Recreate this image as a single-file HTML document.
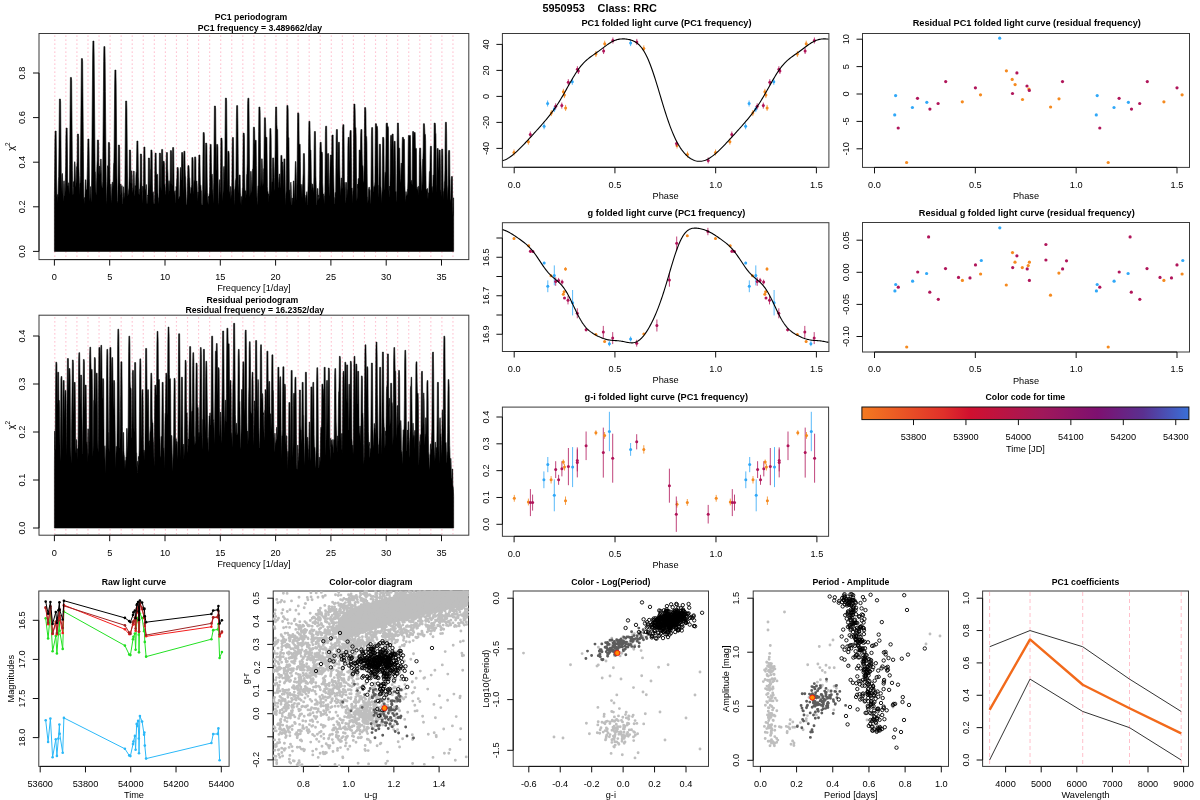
<!DOCTYPE html>
<html><head><meta charset="utf-8"><title>5950953 Class: RRC</title>
<style>html,body{margin:0;padding:0;background:#fff;width:1200px;height:800px;overflow:hidden}svg{display:block;will-change:transform}text{font-family:"Liberation Sans",sans-serif}</style>
</head><body>
<svg width="1200" height="800" viewBox="0 0 1200 800" font-family='"Liberation Sans", sans-serif'><defs><linearGradient id="cbar" x1="0" x2="1" y1="0" y2="0"><stop offset="0" stop-color="#f47a20"/><stop offset="0.25" stop-color="#e0302a"/><stop offset="0.33" stop-color="#d0102f"/><stop offset="0.55" stop-color="#a0185a"/><stop offset="0.72" stop-color="#7e1070"/><stop offset="0.86" stop-color="#5a3090"/><stop offset="1" stop-color="#3a70d8"/></linearGradient></defs>
<line x1="54.8" y1="35.5" x2="54.8" y2="258.6" stroke="#ffb4c6" stroke-width="1.15" stroke-dasharray="1.3 2.7"/>
<line x1="65.86" y1="35.5" x2="65.86" y2="258.6" stroke="#ffb4c6" stroke-width="1.15" stroke-dasharray="1.3 2.7"/>
<line x1="76.92" y1="35.5" x2="76.92" y2="258.6" stroke="#ffb4c6" stroke-width="1.15" stroke-dasharray="1.3 2.7"/>
<line x1="87.98" y1="35.5" x2="87.98" y2="258.6" stroke="#ffb4c6" stroke-width="1.15" stroke-dasharray="1.3 2.7"/>
<line x1="99.04" y1="35.5" x2="99.04" y2="258.6" stroke="#ffb4c6" stroke-width="1.15" stroke-dasharray="1.3 2.7"/>
<line x1="110.1" y1="35.5" x2="110.1" y2="258.6" stroke="#ffb4c6" stroke-width="1.15" stroke-dasharray="1.3 2.7"/>
<line x1="121.16" y1="35.5" x2="121.16" y2="258.6" stroke="#ffb4c6" stroke-width="1.15" stroke-dasharray="1.3 2.7"/>
<line x1="132.22" y1="35.5" x2="132.22" y2="258.6" stroke="#ffb4c6" stroke-width="1.15" stroke-dasharray="1.3 2.7"/>
<line x1="143.28" y1="35.5" x2="143.28" y2="258.6" stroke="#ffb4c6" stroke-width="1.15" stroke-dasharray="1.3 2.7"/>
<line x1="154.34" y1="35.5" x2="154.34" y2="258.6" stroke="#ffb4c6" stroke-width="1.15" stroke-dasharray="1.3 2.7"/>
<line x1="165.4" y1="35.5" x2="165.4" y2="258.6" stroke="#ffb4c6" stroke-width="1.15" stroke-dasharray="1.3 2.7"/>
<line x1="176.46" y1="35.5" x2="176.46" y2="258.6" stroke="#ffb4c6" stroke-width="1.15" stroke-dasharray="1.3 2.7"/>
<line x1="187.52" y1="35.5" x2="187.52" y2="258.6" stroke="#ffb4c6" stroke-width="1.15" stroke-dasharray="1.3 2.7"/>
<line x1="198.58" y1="35.5" x2="198.58" y2="258.6" stroke="#ffb4c6" stroke-width="1.15" stroke-dasharray="1.3 2.7"/>
<line x1="209.64" y1="35.5" x2="209.64" y2="258.6" stroke="#ffb4c6" stroke-width="1.15" stroke-dasharray="1.3 2.7"/>
<line x1="220.7" y1="35.5" x2="220.7" y2="258.6" stroke="#ffb4c6" stroke-width="1.15" stroke-dasharray="1.3 2.7"/>
<line x1="231.76" y1="35.5" x2="231.76" y2="258.6" stroke="#ffb4c6" stroke-width="1.15" stroke-dasharray="1.3 2.7"/>
<line x1="242.82" y1="35.5" x2="242.82" y2="258.6" stroke="#ffb4c6" stroke-width="1.15" stroke-dasharray="1.3 2.7"/>
<line x1="253.88" y1="35.5" x2="253.88" y2="258.6" stroke="#ffb4c6" stroke-width="1.15" stroke-dasharray="1.3 2.7"/>
<line x1="264.94" y1="35.5" x2="264.94" y2="258.6" stroke="#ffb4c6" stroke-width="1.15" stroke-dasharray="1.3 2.7"/>
<line x1="276" y1="35.5" x2="276" y2="258.6" stroke="#ffb4c6" stroke-width="1.15" stroke-dasharray="1.3 2.7"/>
<line x1="287.06" y1="35.5" x2="287.06" y2="258.6" stroke="#ffb4c6" stroke-width="1.15" stroke-dasharray="1.3 2.7"/>
<line x1="298.12" y1="35.5" x2="298.12" y2="258.6" stroke="#ffb4c6" stroke-width="1.15" stroke-dasharray="1.3 2.7"/>
<line x1="309.18" y1="35.5" x2="309.18" y2="258.6" stroke="#ffb4c6" stroke-width="1.15" stroke-dasharray="1.3 2.7"/>
<line x1="320.24" y1="35.5" x2="320.24" y2="258.6" stroke="#ffb4c6" stroke-width="1.15" stroke-dasharray="1.3 2.7"/>
<line x1="331.3" y1="35.5" x2="331.3" y2="258.6" stroke="#ffb4c6" stroke-width="1.15" stroke-dasharray="1.3 2.7"/>
<line x1="342.36" y1="35.5" x2="342.36" y2="258.6" stroke="#ffb4c6" stroke-width="1.15" stroke-dasharray="1.3 2.7"/>
<line x1="353.42" y1="35.5" x2="353.42" y2="258.6" stroke="#ffb4c6" stroke-width="1.15" stroke-dasharray="1.3 2.7"/>
<line x1="364.48" y1="35.5" x2="364.48" y2="258.6" stroke="#ffb4c6" stroke-width="1.15" stroke-dasharray="1.3 2.7"/>
<line x1="375.54" y1="35.5" x2="375.54" y2="258.6" stroke="#ffb4c6" stroke-width="1.15" stroke-dasharray="1.3 2.7"/>
<line x1="386.6" y1="35.5" x2="386.6" y2="258.6" stroke="#ffb4c6" stroke-width="1.15" stroke-dasharray="1.3 2.7"/>
<line x1="397.66" y1="35.5" x2="397.66" y2="258.6" stroke="#ffb4c6" stroke-width="1.15" stroke-dasharray="1.3 2.7"/>
<line x1="408.72" y1="35.5" x2="408.72" y2="258.6" stroke="#ffb4c6" stroke-width="1.15" stroke-dasharray="1.3 2.7"/>
<line x1="419.78" y1="35.5" x2="419.78" y2="258.6" stroke="#ffb4c6" stroke-width="1.15" stroke-dasharray="1.3 2.7"/>
<line x1="430.84" y1="35.5" x2="430.84" y2="258.6" stroke="#ffb4c6" stroke-width="1.15" stroke-dasharray="1.3 2.7"/>
<line x1="441.9" y1="35.5" x2="441.9" y2="258.6" stroke="#ffb4c6" stroke-width="1.15" stroke-dasharray="1.3 2.7"/>
<line x1="452.96" y1="35.5" x2="452.96" y2="258.6" stroke="#ffb4c6" stroke-width="1.15" stroke-dasharray="1.3 2.7"/>
<line x1="54.8" y1="317.2" x2="54.8" y2="534.2" stroke="#ffb4c6" stroke-width="1.15" stroke-dasharray="1.3 2.7"/>
<line x1="65.86" y1="317.2" x2="65.86" y2="534.2" stroke="#ffb4c6" stroke-width="1.15" stroke-dasharray="1.3 2.7"/>
<line x1="76.92" y1="317.2" x2="76.92" y2="534.2" stroke="#ffb4c6" stroke-width="1.15" stroke-dasharray="1.3 2.7"/>
<line x1="87.98" y1="317.2" x2="87.98" y2="534.2" stroke="#ffb4c6" stroke-width="1.15" stroke-dasharray="1.3 2.7"/>
<line x1="99.04" y1="317.2" x2="99.04" y2="534.2" stroke="#ffb4c6" stroke-width="1.15" stroke-dasharray="1.3 2.7"/>
<line x1="110.1" y1="317.2" x2="110.1" y2="534.2" stroke="#ffb4c6" stroke-width="1.15" stroke-dasharray="1.3 2.7"/>
<line x1="121.16" y1="317.2" x2="121.16" y2="534.2" stroke="#ffb4c6" stroke-width="1.15" stroke-dasharray="1.3 2.7"/>
<line x1="132.22" y1="317.2" x2="132.22" y2="534.2" stroke="#ffb4c6" stroke-width="1.15" stroke-dasharray="1.3 2.7"/>
<line x1="143.28" y1="317.2" x2="143.28" y2="534.2" stroke="#ffb4c6" stroke-width="1.15" stroke-dasharray="1.3 2.7"/>
<line x1="154.34" y1="317.2" x2="154.34" y2="534.2" stroke="#ffb4c6" stroke-width="1.15" stroke-dasharray="1.3 2.7"/>
<line x1="165.4" y1="317.2" x2="165.4" y2="534.2" stroke="#ffb4c6" stroke-width="1.15" stroke-dasharray="1.3 2.7"/>
<line x1="176.46" y1="317.2" x2="176.46" y2="534.2" stroke="#ffb4c6" stroke-width="1.15" stroke-dasharray="1.3 2.7"/>
<line x1="187.52" y1="317.2" x2="187.52" y2="534.2" stroke="#ffb4c6" stroke-width="1.15" stroke-dasharray="1.3 2.7"/>
<line x1="198.58" y1="317.2" x2="198.58" y2="534.2" stroke="#ffb4c6" stroke-width="1.15" stroke-dasharray="1.3 2.7"/>
<line x1="209.64" y1="317.2" x2="209.64" y2="534.2" stroke="#ffb4c6" stroke-width="1.15" stroke-dasharray="1.3 2.7"/>
<line x1="220.7" y1="317.2" x2="220.7" y2="534.2" stroke="#ffb4c6" stroke-width="1.15" stroke-dasharray="1.3 2.7"/>
<line x1="231.76" y1="317.2" x2="231.76" y2="534.2" stroke="#ffb4c6" stroke-width="1.15" stroke-dasharray="1.3 2.7"/>
<line x1="242.82" y1="317.2" x2="242.82" y2="534.2" stroke="#ffb4c6" stroke-width="1.15" stroke-dasharray="1.3 2.7"/>
<line x1="253.88" y1="317.2" x2="253.88" y2="534.2" stroke="#ffb4c6" stroke-width="1.15" stroke-dasharray="1.3 2.7"/>
<line x1="264.94" y1="317.2" x2="264.94" y2="534.2" stroke="#ffb4c6" stroke-width="1.15" stroke-dasharray="1.3 2.7"/>
<line x1="276" y1="317.2" x2="276" y2="534.2" stroke="#ffb4c6" stroke-width="1.15" stroke-dasharray="1.3 2.7"/>
<line x1="287.06" y1="317.2" x2="287.06" y2="534.2" stroke="#ffb4c6" stroke-width="1.15" stroke-dasharray="1.3 2.7"/>
<line x1="298.12" y1="317.2" x2="298.12" y2="534.2" stroke="#ffb4c6" stroke-width="1.15" stroke-dasharray="1.3 2.7"/>
<line x1="309.18" y1="317.2" x2="309.18" y2="534.2" stroke="#ffb4c6" stroke-width="1.15" stroke-dasharray="1.3 2.7"/>
<line x1="320.24" y1="317.2" x2="320.24" y2="534.2" stroke="#ffb4c6" stroke-width="1.15" stroke-dasharray="1.3 2.7"/>
<line x1="331.3" y1="317.2" x2="331.3" y2="534.2" stroke="#ffb4c6" stroke-width="1.15" stroke-dasharray="1.3 2.7"/>
<line x1="342.36" y1="317.2" x2="342.36" y2="534.2" stroke="#ffb4c6" stroke-width="1.15" stroke-dasharray="1.3 2.7"/>
<line x1="353.42" y1="317.2" x2="353.42" y2="534.2" stroke="#ffb4c6" stroke-width="1.15" stroke-dasharray="1.3 2.7"/>
<line x1="364.48" y1="317.2" x2="364.48" y2="534.2" stroke="#ffb4c6" stroke-width="1.15" stroke-dasharray="1.3 2.7"/>
<line x1="375.54" y1="317.2" x2="375.54" y2="534.2" stroke="#ffb4c6" stroke-width="1.15" stroke-dasharray="1.3 2.7"/>
<line x1="386.6" y1="317.2" x2="386.6" y2="534.2" stroke="#ffb4c6" stroke-width="1.15" stroke-dasharray="1.3 2.7"/>
<line x1="397.66" y1="317.2" x2="397.66" y2="534.2" stroke="#ffb4c6" stroke-width="1.15" stroke-dasharray="1.3 2.7"/>
<line x1="408.72" y1="317.2" x2="408.72" y2="534.2" stroke="#ffb4c6" stroke-width="1.15" stroke-dasharray="1.3 2.7"/>
<line x1="419.78" y1="317.2" x2="419.78" y2="534.2" stroke="#ffb4c6" stroke-width="1.15" stroke-dasharray="1.3 2.7"/>
<line x1="430.84" y1="317.2" x2="430.84" y2="534.2" stroke="#ffb4c6" stroke-width="1.15" stroke-dasharray="1.3 2.7"/>
<line x1="441.9" y1="317.2" x2="441.9" y2="534.2" stroke="#ffb4c6" stroke-width="1.15" stroke-dasharray="1.3 2.7"/>
<line x1="452.96" y1="317.2" x2="452.96" y2="534.2" stroke="#ffb4c6" stroke-width="1.15" stroke-dasharray="1.3 2.7"/>
<path d="M54.4 251.4L54.4 197.88L54.65 170L54.9 140L55.15 131L55.4 131L55.65 131L55.9 131L56.15 131L56.4 152L56.65 182L56.9 195.28L57.15 202.26L57.4 194.58L57.65 194.58L57.9 203.04L58.15 191.79L58.4 180.54L58.65 176.67L58.9 156L59.15 126L59.4 99L59.65 99L59.9 99L60.15 99L60.4 99L60.65 102L60.9 132L61.15 162L61.4 192L61.65 185.89L61.9 174.64L62.15 173.54L62.4 173.54L62.65 179.2L62.9 190.45L63.15 201.7L63.4 194.71L63.65 183.46L63.9 180.86L64.15 180.86L64.4 185.02L64.65 196.27L64.9 195.44L65.15 188.44L65.4 177.19L65.65 165.94L65.9 137L66.15 128L66.4 128L66.65 128L66.9 128L67.15 128L67.4 149L67.65 179L67.9 185.85L68.15 185.85L68.4 191.49L68.65 182.82L68.9 182.82L69.15 191.05L69.4 194.4L69.65 164.4L69.9 134.4L70.15 104.4L70.4 77.4L70.65 77.4L70.9 77.4L71.15 77.4L71.4 77.4L71.65 80.4L71.9 110.4L72.15 140.4L72.4 170.4L72.65 187.26L72.9 194.88L73.15 193.89L73.4 181.63L73.65 181.63L73.9 186.87L74.15 175.66L74.4 164.41L74.65 161.75L74.9 161.75L75.15 165.85L75.4 177.1L75.65 186.31L75.9 186.31L76.15 180.63L76.4 169.38L76.65 166.47L76.9 166.47L77.15 161L77.4 134L77.65 134L77.9 134L78.15 134L78.4 134L78.65 137L78.9 167L79.15 175.48L79.4 186.73L79.65 194.99L79.9 183.74L80.15 182.63L80.4 175.6L80.65 145.6L80.9 115.6L81.15 85.6L81.4 58.6L81.65 58.6L81.9 58.6L82.15 58.6L82.4 58.6L82.65 61.6L82.9 91.6L83.15 121.6L83.4 151.6L83.65 181.6L83.9 199.49L84.15 197.56L84.4 197.56L84.65 204.05L84.9 199.69L85.15 188.44L85.4 179.82L85.65 179.82L85.9 179.82L86.15 189.2L86.4 189.84L86.65 189.84L86.9 188.88L87.15 177.63L87.4 166.38L87.65 154L87.9 139L88.15 139L88.4 139L88.65 139L88.9 139L89.15 154L89.4 178.84L89.65 190.09L89.9 201.34L90.15 193.43L90.4 186.64L90.65 186.64L90.9 197.36L91.15 202.41L91.4 191.16L91.65 176L91.9 146L92.15 116L92.4 86L92.65 56L92.9 41L93.15 41L93.4 41L93.65 41L93.9 41L94.15 56L94.4 86L94.65 116L94.9 146L95.15 171.84L95.4 171.84L95.65 180.38L95.9 191.63L96.15 195.66L96.4 189.09L96.65 177.84L96.9 166.59L97.15 160.63L97.4 140L97.65 140L97.9 140L98.15 140L98.4 140L98.65 143L98.9 173L99.15 175.31L99.4 166.02L99.65 166.02L99.9 166.02L100.15 174.74L100.4 166.79L100.65 159.11L100.9 159.11L101.15 159.11L101.4 169.43L101.65 180.68L101.9 186.12L102.15 187.84L102.4 187.84L102.65 181.6L102.9 151.6L103.15 121.6L103.4 91.6L103.65 61.6L103.9 46.6L104.15 46.6L104.4 46.6L104.65 46.6L104.9 46.6L105.15 61.6L105.4 91.6L105.65 121.6L105.9 151.6L106.15 181.6L106.4 200.23L106.65 203.67L106.9 192.48L107.15 181.23L107.4 169.98L107.65 165.73L107.9 165.73L108.15 168.23L108.4 142.4L108.65 142.4L108.9 142.4L109.15 142.4L109.4 142.4L109.65 145.4L109.9 175.4L110.15 191.64L110.4 198.89L110.65 186.39L110.9 184.11L111.15 186.82L111.4 199.32L111.65 203.58L111.9 192.65L112.15 182.25L112.4 182.25L112.65 182.25L112.9 189.85L113.15 182.38L113.4 171.13L113.65 163.35L113.9 163.35L114.15 145L114.4 115L114.65 85L114.9 70L115.15 70L115.4 70L115.65 70L115.9 70L116.15 85L116.4 115L116.65 145L116.9 175L117.15 189.32L117.4 200.57L117.65 203.48L117.9 200.62L118.15 172L118.4 145L118.65 145L118.9 145L119.15 145L119.4 145L119.65 148L119.9 178L120.15 195.33L120.4 193.18L120.65 184.09L120.9 184.09L121.15 192.5L121.4 192.79L121.65 185.68L121.9 185.68L122.15 185.68L122.4 196.58L122.65 203.39L122.9 203.39L123.15 193.77L123.4 186.83L123.65 186.83L123.9 192.91L124.15 192.91L124.4 198.84L124.65 195.98L124.9 182L125.15 152L125.4 122L125.65 101L125.9 101L126.15 101L126.4 101L126.65 101L126.9 110L127.15 140L127.4 170L127.65 185.43L127.9 196.6L128.15 194.34L128.4 192.99L128.65 189.91L128.9 188.06L129.15 176.81L129.4 150L129.65 150L129.9 150L130.15 150L130.4 150L130.65 153L130.9 183L131.15 183.52L131.4 172.27L131.65 170.79L131.9 170.79L132.15 176.06L132.4 187.31L132.65 189.89L132.9 192.73L133.15 187.01L133.4 177.56L133.65 171.01L133.9 171.01L134.15 171.2L134.4 182.45L134.65 193.7L134.9 196.62L135.15 185.68L135.4 185.68L135.65 187.36L135.9 176.11L136.15 171.7L136.4 171.7L136.65 156L136.9 141L137.15 141L137.4 141L137.65 141L137.9 141L138.15 156L138.4 176.98L138.65 182.39L138.9 193.64L139.15 194.88L139.4 191.41L139.65 189.01L139.9 189.01L140.15 181L140.4 154L140.65 154L140.9 154L141.15 154L141.4 154L141.65 157L141.9 187L142.15 203.48L142.4 195.1L142.65 186.17L142.9 186.17L143.15 186.17L143.4 192L143.65 162L143.9 147L144.15 147L144.4 147L144.65 147L144.9 147L145.15 162L145.4 192L145.65 189.28L145.9 189.28L146.15 184.61L146.4 184.61L146.65 196.15L146.9 203.6L147.15 203.61L147.4 199.02L147.65 194.96L147.9 195.89L148.15 185L148.4 158L148.65 158L148.9 158L149.15 158L149.4 158L149.65 161L149.9 191L150.15 180.35L150.4 169.2L150.65 169.2L150.9 150L151.15 150L151.4 150L151.65 150L151.9 150L152.15 153L152.4 183L152.65 194.61L152.9 191.78L153.15 191.78L153.4 194.04L153.65 199.63L153.9 203.77L154.15 203.78L154.4 203.78L154.65 194.32L154.9 165.12L155.15 153.12L155.4 153.12L155.65 153.12L155.9 153.12L156.15 153.12L156.4 171.13L156.65 174.38L156.9 174.38L157.15 174.38L157.4 174.38L157.65 174.38L157.9 192.38L158.15 197.71L158.4 197.71L158.65 203.89L158.9 200.5L159.15 180.12L159.4 153.12L159.65 153.12L159.9 153.12L160.15 153.12L160.4 153.12L160.65 156.13L160.9 186.13L161.15 191.37L161.4 161.37L161.65 149.38L161.9 149.38L162.15 149.38L162.4 149.38L162.65 149.38L162.9 167.38L163.15 161.25L163.4 161.25L163.65 161.25L163.9 161.25L164.15 161.25L164.4 164.25L164.65 184.14L164.9 184.14L165.15 187.6L165.4 195.51L165.65 193.8L165.9 188.66L166.15 164.5L166.4 152.5L166.65 152.5L166.9 152.5L167.15 152.5L167.4 152.5L167.65 168.84L167.9 172.76L168.15 184.01L168.4 195.26L168.65 185.01L168.9 180.75L169.15 180.75L169.4 183.24L169.65 190.44L169.9 190.44L170.15 177.62L170.4 150.62L170.65 150.62L170.9 150.62L171.15 150.62L171.4 150.62L171.65 153.63L171.9 183.63L172.15 185.92L172.4 159.5L172.65 147.5L172.9 147.5L173.15 147.5L173.4 147.5L173.65 147.5L173.9 165.5L174.15 195.5L174.4 192.6L174.65 191.67L174.9 190.8L175.15 190.8L175.4 202.42L175.65 202.01L175.9 189.51L176.15 186.41L176.4 188.31L176.65 180.44L176.9 177.44L177.15 167.5L177.4 167.5L177.65 167.5L177.9 167.5L178.15 167.5L178.4 170.5L178.65 199.02L178.9 199.02L179.15 196.86L179.4 196.86L179.65 195.75L179.9 184.5L180.15 173.25L180.4 167.51L180.65 167.51L180.9 168.52L181.15 179.77L181.4 179.5L181.65 152.5L181.9 152.5L182.15 152.5L182.4 152.5L182.65 152.5L182.9 155.5L183.15 185.5L183.4 193.25L183.65 163.25L183.9 151.25L184.15 151.25L184.4 151.25L184.65 151.25L184.9 151.25L185.15 169.25L185.4 176.52L185.65 176.52L185.9 186.88L186.15 196.3L186.4 204.57L186.65 204.57L186.9 204.58L187.15 194.75L187.4 183.5L187.65 177.72L187.9 165.62L188.15 165.62L188.4 165.62L188.65 165.62L188.9 165.62L189.15 168.63L189.4 177.65L189.65 177.65L189.9 182.84L190.15 194.09L190.4 193.31L190.65 193.31L190.9 187.42L191.15 187.42L191.4 187.7L191.65 184.5L191.9 157.5L192.15 157.5L192.4 157.5L192.65 157.5L192.9 157.5L193.15 160.5L193.4 190.5L193.65 194.42L193.9 183.17L194.15 180.15L194.4 180.15L194.65 156.88L194.9 156.88L195.15 156.88L195.4 156.88L195.65 156.88L195.9 159.88L196.15 189.88L196.4 182.74L196.65 180.93L196.9 180.93L197.15 185.87L197.4 197.12L197.65 200.63L197.9 191.98L198.15 191.98L198.4 197L198.65 167L198.9 155L199.15 155L199.4 155L199.65 155L199.9 155L200.15 173L200.4 184.68L200.65 184.68L200.9 185.76L201.15 190.73L201.4 190.73L201.65 202.35L201.9 204.95L202.15 204.95L202.4 204.96L202.65 189.5L202.9 159.5L203.15 132.5L203.4 132.5L203.65 132.5L203.9 132.5L204.15 132.5L204.4 135.5L204.65 165.5L204.9 195.5L205.15 187.84L205.4 170.12L205.65 143.12L205.9 143.12L206.15 143.12L206.4 143.12L206.65 143.12L206.9 146.13L207.15 176.13L207.4 192.35L207.65 196.3L207.9 201.7L208.15 205.1L208.4 196.82L208.65 196.26L208.9 197.74L209.15 193.41L209.4 193.41L209.65 186.37L209.9 156.37L210.15 144.38L210.4 144.38L210.65 144.38L210.9 144.38L211.15 144.38L211.4 162.38L211.65 177.15L211.9 174.15L212.15 174.15L212.4 177.91L212.65 188.32L212.9 191.32L213.15 203.82L213.4 192.41L213.65 182.82L213.9 163L214.15 133L214.4 106L214.65 106L214.9 106L215.15 106L215.4 106L215.65 109L215.9 139L216.15 169L216.4 171.37L216.65 144.38L216.9 144.38L217.15 144.38L217.4 144.38L217.65 144.38L217.9 147.38L218.15 177.38L218.4 202.5L218.65 205.16L218.9 197.24L219.15 185.99L219.4 179.7L219.65 179.7L219.9 180.16L220.15 191.41L220.4 195.09L220.65 165.12L220.9 138.12L221.15 138.12L221.4 138.12L221.65 138.12L221.9 138.12L222.15 141.13L222.4 171.13L222.65 201.13L222.9 195.64L223.15 190.43L223.4 179.45L223.65 168.2L223.9 166.4L224.15 166.4L224.4 171.34L224.65 182.59L224.9 155.12L225.15 125.12L225.4 98.12L225.65 98.12L225.9 98.12L226.15 98.12L226.4 98.12L226.65 101.13L226.9 131.13L227.15 161.13L227.4 191.13L227.65 178.25L227.9 151.25L228.15 151.25L228.4 151.25L228.65 151.25L228.9 151.25L229.15 154.25L229.4 184.25L229.65 191.43L229.9 191.43L230.15 199.31L230.4 188.51L230.65 186.47L230.9 186.47L231.15 191.19L231.4 197.77L231.65 194.13L231.9 179.5L232.15 149.5L232.4 137.5L232.65 137.5L232.9 137.5L233.15 137.5L233.4 137.5L233.65 155.5L233.9 185.5L234.15 205.22L234.4 199.15L234.65 189.38L234.9 189.38L235.15 185.89L235.4 180.22L235.65 180.22L235.9 177.62L236.15 147.62L236.4 117.62L236.65 105.62L236.9 105.62L237.15 105.62L237.4 105.62L237.65 105.62L237.9 123.63L238.15 153.63L238.4 183.63L238.65 193.76L238.9 185.67L239.15 175L239.4 175L239.65 175L239.9 175L240.15 175L240.4 193L240.65 195.61L240.9 204.09L241.15 196.57L241.4 196.57L241.65 198.39L241.9 205.25L242.15 194.79L242.4 188.3L242.65 187.32L242.9 160.12L243.15 133.12L243.4 133.12L243.65 133.12L243.9 133.12L244.15 133.12L244.4 136.13L244.65 166.13L244.9 187.53L245.15 198.78L245.4 190.82L245.65 190.82L245.9 190.82L246.15 195.79L246.4 186.1L246.65 174.85L246.9 173.79L247.15 163.31L247.4 133.31L247.65 103.31L247.9 98.19L248.15 98.19L248.4 98.19L248.65 98.19L248.9 98.19L249.15 123.07L249.4 153.07L249.65 183.07L249.9 197.12L250.15 192.33L250.4 181.08L250.65 171.38L250.9 171.38L251.15 171.38L251.4 179.67L251.65 190.92L251.9 192.74L252.15 181.49L252.4 170.24L252.65 168.96L252.9 168.96L253.15 153.85L253.4 127.18L253.65 127.18L253.9 127.18L254.15 127.18L254.4 127.18L254.65 130.5L254.9 144.98L255.15 140.3L255.4 140.3L255.65 140.3L255.9 140.3L256.15 140.3L256.4 165.61L256.65 185.2L256.9 195.57L257.15 205.31L257.4 200.77L257.65 192.26L257.9 185.74L258.15 185.74L258.4 161.72L258.65 131.72L258.9 107L259.15 107L259.4 107L259.65 107L259.9 107L260.15 112.28L260.4 142.28L260.65 172.28L260.9 187.58L261.15 179.78L261.4 168.53L261.65 158.83L261.9 158.83L262.15 158.83L262.4 167.12L262.65 178.37L262.9 186.35L263.15 182.97L263.4 171.72L263.65 168.5L263.9 168.5L264.15 140.54L264.4 117.78L264.65 117.78L264.9 117.78L265.15 117.78L265.4 117.78L265.65 125.01L265.9 137.36L266.15 137.36L266.4 137.36L266.65 137.36L266.9 137.36L267.15 160.08L267.4 186.62L267.65 191.2L267.9 191.2L268.15 193.21L268.4 202.73L268.65 193.92L268.9 193.92L269.15 196.43L269.4 179.37L269.65 149.37L269.9 128.55L270.15 128.55L270.4 128.55L270.65 128.55L270.9 128.55L271.15 137.73L271.4 167.73L271.65 192.68L271.9 181.92L272.15 181.92L272.4 177.77L272.65 157.92L272.9 157.92L273.15 157.92L273.4 157.92L273.65 157.92L273.9 168.08L274.15 190.82L274.4 188.84L274.65 177.59L274.9 166.34L275.15 149.37L275.4 119.37L275.65 107L275.9 107L276.15 107L276.4 107L276.65 107L276.9 124.63L277.15 129.53L277.4 129.53L277.65 129.53L277.9 149.65L278.15 176.73L278.4 181.44L278.65 186.86L278.9 188.32L279.15 177.07L279.4 173.92L279.65 173.92L279.9 177.52L280.15 188.77L280.4 182.66L280.65 172.3L280.9 155.38L281.15 155.38L281.4 155.38L281.65 155.38L281.9 155.38L282.15 163.6L282.4 161.99L282.65 161.99L282.9 167.14L283.15 178.39L283.4 189.64L283.65 168.35L283.9 158.9L284.15 158.9L284.4 158.9L284.65 158.9L284.9 158.9L285.15 179.46L285.4 197.27L285.65 205.15L285.9 194.91L286.15 190.91L286.4 160.91L286.65 130.91L286.9 105.44L287.15 105.44L287.4 105.44L287.65 105.44L287.9 105.44L288.15 109.96L288.4 137.36L288.65 137.36L288.9 137.88L289.15 167.88L289.4 194.14L289.65 189.84L289.9 190.54L290.15 203.04L290.4 195.78L290.65 183.28L290.9 182.14L291.15 185.99L291.4 194.46L291.65 205.01L291.9 205L292.15 198.02L292.4 198.02L292.65 204.98L292.9 199.98L293.15 188.73L293.4 180.94L293.65 180.94L293.9 180.94L294.15 191.15L294.4 202.4L294.65 192.19L294.9 180.94L295.15 169.69L295.4 161.54L295.65 161.54L295.9 161.54L296.15 171.39L296.4 182.64L296.65 193.89L296.9 200.95L297.15 170.95L297.4 140.95L297.65 112.88L297.9 112.88L298.15 112.88L298.4 112.88L298.65 112.88L298.9 114.81L299.15 144.21L299.4 144.21L299.65 144.21L299.9 144.21L300.15 144.21L300.4 161.63L300.65 184L300.9 184L301.15 190.53L301.4 197.87L301.65 187.14L301.9 184.37L302.15 186.6L302.4 199.1L302.65 188.33L302.9 179.71L303.15 173.24L303.4 153.62L303.65 153.62L303.9 153.62L304.15 153.62L304.4 153.62L304.65 163.99L304.9 190.56L305.15 203.06L305.4 197.85L305.65 197.85L305.9 195.33L306.15 195.33L306.4 196.22L306.65 193.17L306.9 191.6L307.15 195.04L307.4 204.64L307.65 204.22L307.9 192.97L308.15 181.72L308.4 168.97L308.65 138.97L308.9 121.3L309.15 121.3L309.4 121.3L309.65 121.3L309.9 121.3L310.15 133.63L310.4 150.09L310.65 150.09L310.9 150.09L311.15 164.91L311.4 182.93L311.65 182.93L311.9 190.56L312.15 184.17L312.4 184.17L312.65 184.17L312.9 187.74L313.15 187.74L313.4 193.06L313.65 189.08L313.9 177.2L314.15 147.2L314.4 131.48L314.65 131.48L314.9 131.48L315.15 131.48L315.4 131.48L315.65 145.77L315.9 175.77L316.15 184.72L316.4 193.69L316.65 204.43L316.9 204.42L317.15 197.87L317.4 188.56L317.65 188.56L317.9 188.56L318.15 196.75L318.4 194.93L318.65 198.11L318.9 199.88L319.15 197.68L319.4 185.18L319.65 179.53L319.9 149.53L320.15 142.26L320.4 142.26L320.65 142.26L320.9 142.26L321.15 142.26L321.4 152.05L321.65 152.05L321.9 152.05L322.15 152.05L322.4 153.77L322.65 182.77L322.9 187.96L323.15 200.46L323.4 196.24L323.65 193.8L323.9 195.95L324.15 204.12L324.4 195.97L324.65 195.97L324.9 191.52L325.15 161.52L325.4 131.52L325.65 126.2L325.9 126.2L326.15 126.2L326.4 126.2L326.65 126.2L326.9 150.88L327.15 180.88L327.4 153.95L327.65 153.62L327.9 153.62L328.15 153.62L328.4 153.62L328.65 153.62L328.9 183.28L329.15 196.4L329.4 191.93L329.65 182.69L329.9 172.74L330.15 161.49L330.4 154.99L330.65 154.99L330.9 154.99L331.15 154.99L331.4 154.99L331.65 162.12L331.9 135.89L332.15 135.01L332.4 135.01L332.65 135.01L332.9 135.01L333.15 135.01L333.4 164.13L333.65 174.69L333.9 185.94L334.15 197.19L334.4 197.34L334.65 204.01L334.9 204L335.15 193.63L335.4 192.36L335.65 196.09L335.9 167.44L336.15 137.44L336.4 129.53L336.65 129.53L336.9 129.53L337.15 129.53L337.4 129.53L337.65 151.61L337.9 175.19L338.15 145.19L338.4 142.26L338.65 142.26L338.9 142.26L339.15 142.26L339.4 142.26L339.65 163.02L339.9 174.27L340.15 185.52L340.4 190.94L340.65 196.02L340.9 184.77L341.15 177.95L341.4 177.95L341.65 177.95L341.9 189.14L342.15 188.1L342.4 158.1L342.65 128.1L342.9 124.63L343.15 124.63L343.4 124.63L343.65 124.63L343.9 124.63L344.15 151.16L344.4 181.16L344.65 190.36L344.9 182.67L345.15 182.15L345.4 186.63L345.65 199.13L345.9 203.74L346.15 193.43L346.4 182.42L346.65 182.42L346.9 188.9L347.15 189.63L347.4 196.1L347.65 175.38L347.9 145.38L348.15 137.36L348.4 137.36L348.65 137.36L348.9 137.36L349.15 137.36L349.4 159.34L349.65 163.55L349.9 133.55L350.15 130.51L350.4 130.51L350.65 130.51L350.9 130.51L351.15 130.51L351.4 157.47L351.65 187.47L351.9 188.05L352.15 188.05L352.4 193.43L352.65 203.59L352.9 194.76L353.15 187.14L353.4 157.14L353.65 127.14L353.9 104.07L354.15 104.07L354.4 104.07L354.65 104.07L354.9 104.07L355.15 110.99L355.4 127.57L355.65 127.57L355.9 127.57L356.15 136.98L356.4 166.98L356.65 190.01L356.9 201.26L357.15 197.24L357.4 184.74L357.65 184.03L357.9 188.31L358.15 178.63L358.4 178.49L358.65 178.49L358.9 177.71L359.15 150.09L359.4 150.09L359.65 150.09L359.9 150.09L360.15 150.09L360.4 152.47L360.65 135.16L360.9 129.53L361.15 129.53L361.4 129.53L361.65 129.53L361.9 129.53L362.15 153.89L362.4 165.68L362.65 165.59L362.9 165.59L363.15 172.25L363.4 183.5L363.65 181.44L363.9 181.44L364.15 163.26L364.4 133.26L364.65 107.59L364.9 107.59L365.15 107.59L365.4 107.59L365.65 107.59L365.9 111.92L366.15 136.38L366.4 136.38L366.65 136.38L366.9 143.2L367.15 173.2L367.4 196.96L367.65 196.96L367.9 203.23L368.15 198.93L368.4 189.19L368.65 189.19L368.9 187.16L369.15 187.16L369.4 187.16L369.65 192.14L369.9 189.55L370.15 191.96L370.4 203.17L370.65 203.06L370.9 194.88L371.15 165.8L371.4 135.8L371.65 127.57L371.9 127.57L372.15 127.57L372.4 127.57L372.65 127.57L372.9 149.33L373.15 179.33L373.4 192.07L373.65 191.6L373.9 186.56L374.15 186.56L374.4 186.56L374.65 184.88L374.9 181.92L375.15 151.92L375.4 123.65L375.65 123.65L375.9 123.65L376.15 123.65L376.4 123.65L376.65 125.38L376.9 126.59L377.15 126.59L377.4 126.59L377.65 130.81L377.9 160.81L378.15 184.6L378.4 185.3L378.65 197.8L378.9 192.52L379.15 162.52L379.4 144.21L379.65 144.21L379.9 144.21L380.15 144.21L380.4 144.21L380.65 155.91L380.9 185.91L381.15 189.55L381.4 196.04L381.65 202.91L381.9 194.71L382.15 189.71L382.4 165.19L382.65 137.36L382.9 137.36L383.15 137.36L383.4 137.36L383.65 137.36L383.9 139.53L384.15 169.53L384.4 189.11L384.65 190.21L384.9 179.23L385.15 172.14L385.4 172.14L385.65 172.14L385.9 153.93L386.15 123.93L386.4 123.06L386.65 123.06L386.9 123.06L387.15 123.06L387.4 123.06L387.65 126.59L387.9 126.59L388.15 126.59L388.4 128.21L388.65 158.21L388.9 188.21L389.15 198.06L389.4 186.61L389.65 186.07L389.9 190.53L390.15 173.31L390.4 143.31L390.65 135.4L390.9 135.4L391.15 135.4L391.4 135.4L391.65 135.4L391.9 149.95L392.15 134.03L392.4 134.03L392.65 134.03L392.9 134.03L393.15 134.03L393.4 148.11L393.65 178.11L393.9 152.21L394.15 141.28L394.4 141.28L394.65 141.28L394.9 141.28L395.15 141.28L395.4 160.34L395.65 190.34L395.9 191.75L396.15 191.75L396.4 202.57L396.65 199.92L396.9 173.53L397.15 143.53L397.4 123.06L397.65 123.06L397.9 123.06L398.15 123.06L398.4 123.06L398.65 132.6L398.9 148.13L399.15 148.13L399.4 148.13L399.65 148.13L399.9 166.65L400.15 181.27L400.4 182.59L400.65 178.72L400.9 167.47L401.15 163.05L401.4 163.05L401.65 165.37L401.9 175.37L402.15 145.37L402.4 137.36L402.65 137.36L402.9 137.36L403.15 137.36L403.4 137.36L403.65 139.32L403.9 139.32L404.15 139.32L404.4 139.32L404.65 163.8L404.9 185.29L405.15 193.33L405.4 202.36L405.65 198.56L405.9 191.67L406.15 191.67L406.4 195.34L406.65 195.34L406.9 195.67L407.15 194.06L407.4 189.6L407.65 190.14L407.9 181.97L408.15 151.97L408.4 135.4L408.65 135.4L408.9 135.4L409.15 135.4L409.4 135.4L409.65 135.4L409.9 135.4L410.15 135.4L410.4 135.4L410.65 151.33L410.9 181.33L411.15 183.65L411.4 180.43L411.65 180.43L411.9 183.95L412.15 185.09L412.4 155.09L412.65 131.48L412.9 131.48L413.15 131.48L413.4 131.48L413.65 131.48L413.9 137.88L414.15 132.46L414.4 132.46L414.65 132.46L414.9 132.46L415.15 132.46L415.4 148.13L415.65 148.13L415.9 148.13L416.15 148.13L416.4 149L416.65 179L416.9 189.42L417.15 186.89L417.4 189.36L417.65 189.24L417.9 189.24L418.15 194.29L418.4 186.3L418.65 186.3L418.9 195.07L419.15 184.3L419.4 154.3L419.65 148.13L419.9 148.13L420.15 148.13L420.4 148.13L420.65 148.13L420.9 159.97L421.15 168.87L421.4 180.12L421.65 191.37L421.9 189.2L422.15 181.46L422.4 170.21L422.65 158.96L422.9 158.63L423.15 149.85L423.4 123.65L423.65 123.65L423.9 123.65L424.15 123.65L424.4 123.65L424.65 127.45L424.9 134.42L425.15 134.42L425.4 134.42L425.65 140.71L425.9 170.71L426.15 190.36L426.4 190.36L426.65 189.25L426.9 189.25L427.15 193.28L427.4 188.43L427.65 188.43L427.9 198.98L428.15 192.86L428.4 192.86L428.65 199.52L428.9 188.2L429.15 180.75L429.4 171.58L429.65 171.58L429.9 171.58L430.15 154.94L430.4 146.17L430.65 146.17L430.9 146.17L431.15 146.17L431.4 146.17L431.65 167.41L431.9 185.56L432.15 192.89L432.4 187.16L432.65 187.16L432.9 185.43L433.15 174.93L433.4 174.93L433.65 174.93L433.9 151.86L434.15 123.06L434.4 123.06L434.65 123.06L434.9 123.06L435.15 123.06L435.4 124.27L435.65 133.44L435.9 133.44L436.15 154.14L436.4 184.14L436.65 192.57L436.9 169.85L437.15 148.52L437.4 148.52L437.65 148.52L437.9 148.52L438.15 148.52L438.4 157.2L438.65 171.24L438.9 166.43L439.15 150.09L439.4 150.09L439.65 150.09L439.9 150.09L440.15 150.09L440.4 163.75L440.65 189.65L440.9 189.65L441.15 197.13L441.4 170.98L441.65 149.11L441.9 149.11L442.15 149.11L442.4 149.11L442.65 149.11L442.9 157.25L443.15 187.25L443.4 200.12L443.65 191.52L443.9 191.52L444.15 187.79L444.4 181.52L444.65 181.52L444.9 170.68L445.15 140.68L445.4 122.28L445.65 122.28L445.9 122.28L446.15 122.28L446.4 122.28L446.65 133.88L446.9 163.88L447.15 184.95L447.4 189.33L447.65 200.68L447.9 194.26L448.15 184.91L448.4 154.91L448.65 150.48L448.9 150.48L449.15 150.48L449.4 150.48L449.65 150.48L449.9 176.06L450.15 190.52L450.4 203.02L450.65 199.62L450.9 199.62L451.15 179.98L451.4 176.53L451.65 176.53L451.9 176.53L452.15 176.53L452.4 176.53L452.65 203.08L452.9 215.57L453.15 204.32L453.4 197.83L453.65 197.83L453.65 251.4 Z" fill="#000" stroke="#000" stroke-width="0.6" stroke-linejoin="bevel"/>
<path d="M54.4 528L54.4 465.6L54.65 431.11L54.9 449.11L55.15 449.76L55.4 419.69L55.65 382.19L55.9 362.17L56.15 362.17L56.4 362.17L56.65 362.17L56.9 364.64L57.15 402.14L57.4 404.78L57.65 372.25L57.9 372.25L58.15 372.25L58.4 372.25L58.65 372.25L58.9 399.73L59.15 400.56L59.4 400.56L59.65 415.98L59.9 438.48L60.15 460.98L60.4 454L60.65 416.5L60.9 379L61.15 376.47L61.4 376.47L61.65 376.47L61.9 376.47L62.15 396.44L62.4 433.94L62.65 450.53L62.9 413.03L63.15 380.5L63.4 380.5L63.65 380.5L63.9 380.5L64.15 380.5L64.4 407.97L64.65 419.8L64.9 398.12L65.15 390.58L65.4 390.58L65.65 390.58L65.9 390.58L66.15 405.55L66.4 443.05L66.65 456.1L66.9 423.54L67.15 386.04L67.4 358.5L67.65 358.5L67.9 358.5L68.15 358.5L68.4 358.5L68.65 390.96L68.9 381.12L69.15 368.58L69.4 368.58L69.65 368.58L69.9 368.58L70.15 378.54L70.4 416.04L70.65 446.73L70.9 454.37L71.15 463.71L71.4 441.21L71.65 418.71L71.9 397.99L72.15 380.01L72.4 359.97L72.65 359.97L72.9 359.97L73.15 359.97L73.4 362.42L73.65 399.92L73.9 414.88L74.15 382.33L74.4 382.33L74.65 382.33L74.9 382.33L75.15 382.33L75.4 409.79L75.65 445.73L75.9 453.42L76.15 443.6L76.4 439.47L76.65 440.34L76.9 452.84L77.15 453.13L77.4 448.62L77.65 449.12L77.9 459.59L78.15 435.19L78.4 397.69L78.65 360.19L78.9 352.63L79.15 352.63L79.4 352.63L79.65 352.63L79.9 367.58L80.15 405.08L80.4 395.05L80.65 375L80.9 375L81.15 375L81.4 375L81.65 377.45L81.9 414.95L82.15 430.93L82.4 453.43L82.65 453.81L82.9 416.97L83.15 379.47L83.4 359.42L83.65 359.42L83.9 359.42L84.15 359.42L84.4 361.86L84.65 399.36L84.9 410.62L85.15 385.08L85.4 385.08L85.65 385.08L85.9 385.08L86.15 385.08L86.4 412.52L86.65 441.76L86.9 441.76L87.15 450.25L87.4 462.75L87.65 441.32L87.9 428.78L88.15 428.78L88.4 429.74L88.65 452.24L88.9 456.07L89.15 429.7L89.4 392.2L89.65 354.7L89.9 347.13L90.15 347.13L90.4 347.13L90.65 347.13L90.9 362.07L91.15 372.07L91.4 369.5L91.65 369.5L91.9 369.5L92.15 369.5L92.4 389.43L92.65 426.93L92.9 456.88L93.15 445.43L93.4 422.93L93.65 400.47L93.9 400.47L94.15 377.65L94.4 357.58L94.65 357.58L94.9 357.58L95.15 357.58L95.4 360.01L95.65 397.51L95.9 405.74L96.15 373.17L96.4 373.17L96.65 373.17L96.9 373.17L97.15 373.17L97.4 400.59L97.65 438.09L97.9 447.19L98.15 452.44L98.4 417.58L98.65 380.08L98.9 347.5L99.15 347.5L99.4 347.5L99.65 347.5L99.9 347.5L100.15 374.92L100.4 390.38L100.65 352.88L100.9 345.3L101.15 345.3L101.4 345.3L101.65 345.3L101.9 360.22L102.15 397.72L102.4 398.75L102.65 378.67L102.9 378.67L103.15 378.67L103.4 378.67L103.65 381.09L103.9 418.59L104.15 456.09L104.4 460.1L104.65 447.6L104.9 445.71L105.15 448.43L105.4 459.07L105.65 473.82L105.9 460.7L106.15 439.42L106.4 401.92L106.65 364.42L106.9 349.33L107.15 349.33L107.4 349.33L107.65 349.33L107.9 356.75L108.15 394.25L108.4 431.75L108.65 432.8L108.9 447.45L109.15 452.45L109.4 417.59L109.65 380.09L109.9 347.5L110.15 347.5L110.4 347.5L110.65 347.5L110.9 347.5L111.15 374.91L111.4 402.68L111.65 365.18L111.9 357.58L112.15 357.58L112.4 357.58L112.65 357.58L112.9 372.49L113.15 409.99L113.4 400.6L113.65 380.5L113.9 380.5L114.15 380.5L114.4 380.5L114.65 382.91L114.9 408.01L115.15 430.51L115.4 453.01L115.65 468.15L115.9 456.74L116.15 446.39L116.4 446.39L116.65 453.53L116.9 450.62L117.15 419.27L117.4 381.77L117.65 344.27L117.9 329.17L118.15 329.17L118.4 329.17L118.65 329.17L118.9 336.57L119.15 374.07L119.4 411.57L119.65 447.8L119.9 447.98L120.15 431.09L120.4 408.59L120.65 394.4L120.9 361.8L121.15 361.8L121.4 361.8L121.65 361.8L121.9 361.8L122.15 389.2L122.4 426.7L122.65 457.7L122.9 450.38L123.15 432.5L123.4 432.5L123.65 432.5L123.9 450.62L124.15 454.87L124.4 456.84L124.65 469.34L124.9 460.4L125.15 460.4L125.4 468.94L125.65 463.78L125.9 457.05L126.15 457.05L126.4 447.79L126.65 428.5L126.9 428.5L127.15 428.5L127.4 445.22L127.65 453.81L127.9 441.31L128.15 426.25L128.4 388.75L128.65 351.25L128.9 336.13L129.15 336.13L129.4 336.13L129.65 336.13L129.9 343.52L130.15 381.02L130.4 387.83L130.65 387.83L130.9 387.83L131.15 390.22L131.4 427.72L131.65 437.85L131.9 437.85L132.15 410.54L132.4 373.04L132.65 370.42L132.9 370.42L133.15 370.42L133.4 370.42L133.65 390.3L133.9 427.8L134.15 432.66L134.4 395.16L134.65 362.53L134.9 362.53L135.15 362.53L135.4 362.53L135.65 362.53L135.9 389.91L136.15 427.41L136.4 452.77L136.65 452.77L136.9 465.11L137.15 472.96L137.4 465.35L137.65 461.15L137.9 461.94L138.15 466.02L138.4 456.53L138.65 456.53L138.9 459.12L139.15 448.99L139.4 411.49L139.65 373.99L139.9 358.87L140.15 358.87L140.4 358.87L140.65 358.87L140.9 366.24L141.15 403.74L141.4 441.24L141.65 434.8L141.9 397.3L142.15 389.67L142.4 389.67L142.65 389.67L142.9 389.67L143.15 404.54L143.4 442.04L143.65 456.83L143.9 450.04L144.15 450.04L144.4 460.75L144.65 451.75L144.9 450.64L145.15 418.55L145.4 381.05L145.65 348.42L145.9 348.42L146.15 348.42L146.4 348.42L146.65 348.42L146.9 375.78L147.15 413.28L147.4 397.3L147.65 389.67L147.9 389.67L148.15 389.67L148.4 389.67L148.65 404.53L148.9 442.03L149.15 440.84L149.4 440.84L149.65 446.81L149.9 433.34L150.15 430.64L150.4 425.81L150.65 388.31L150.9 373.17L151.15 373.17L151.4 373.17L151.65 373.17L151.9 380.53L152.15 418.03L152.4 422.8L152.65 422.8L152.9 422.8L153.15 437.01L153.4 441.54L153.65 442.82L153.9 455.32L154.15 466.68L154.4 442.73L154.65 405.23L154.9 385.08L155.15 385.08L155.4 385.08L155.65 385.08L155.9 387.44L156.15 394.96L156.4 394.96L156.65 381.52L156.9 344.02L157.15 331.37L157.4 331.37L157.65 331.37L157.9 331.37L158.15 341.22L158.4 378.72L158.65 379.58L158.9 379.58L159.15 379.58L159.4 379.58L159.65 394.43L159.9 431.93L160.15 456.3L160.4 457.6L160.65 455.18L160.9 442.68L161.15 436.5L161.4 436.5L161.65 447.83L161.9 414.99L162.15 382.33L162.4 382.33L162.65 382.33L162.9 382.33L163.15 382.33L163.4 409.68L163.65 447.18L163.9 448.01L164.15 457.07L164.4 468.58L164.65 446.08L164.9 423.58L165.15 413.21L165.4 413.21L165.65 393.33L165.9 373.17L166.15 373.17L166.4 373.17L166.65 373.17L166.9 375.51L167.15 413.01L167.4 414.63L167.65 377.13L167.9 339.63L168.15 326.97L168.4 326.97L168.65 326.97L168.9 326.97L169.15 336.8L169.4 374.3L169.65 378.67L169.9 378.67L170.15 378.67L170.4 378.67L170.65 393.5L170.9 431L171.15 453.98L171.4 435.56L171.65 435.56L171.9 435.56L172.15 453.14L172.4 459.44L172.65 471.48L172.9 465.14L173.15 452.64L173.4 440.14L173.65 435.97L173.9 398.47L174.15 378.3L174.4 378.3L174.65 378.3L174.9 378.3L175.15 380.63L175.4 418.13L175.65 448.41L175.9 438.68L176.15 438.68L176.4 443.71L176.65 443.71L176.9 441.42L177.15 442.43L177.4 454.93L177.65 459.36L177.9 441.43L178.15 403.93L178.4 366.43L178.65 333.75L178.9 333.75L179.15 333.75L179.4 333.75L179.65 333.75L179.9 361.07L180.15 398.57L180.4 436.07L180.65 457.39L180.9 447.38L181.15 409.88L181.4 377.2L181.65 377.2L181.9 377.2L182.15 377.2L182.4 377.2L182.65 404.52L182.9 442.02L183.15 460.11L183.4 448.78L183.65 444.06L183.9 444.33L184.15 456.55L184.4 444.05L184.65 418.02L184.9 380.52L185.15 360.33L185.4 360.33L185.65 360.33L185.9 360.33L186.15 362.65L186.4 400.15L186.65 412.64L186.9 412.64L187.15 412.64L187.4 431.81L187.65 450.36L187.9 452.77L188.15 440.27L188.4 438.98L188.65 440.64L188.9 428L189.15 416.77L189.4 379.27L189.65 346.58L189.9 346.58L190.15 346.58L190.4 346.58L190.65 346.58L190.9 373.89L191.15 411.39L191.4 434.45L191.65 411.95L191.9 411.09L192.15 411.09L192.4 402.83L192.65 365.33L192.9 352.63L193.15 352.63L193.4 352.63L193.65 352.63L193.9 362.44L194.15 399.94L194.4 436.42L194.65 436.42L194.9 444.88L195.15 442.91L195.4 440.41L195.65 420.78L195.9 383.28L196.15 363.08L196.4 363.08L196.65 363.08L196.9 363.08L197.15 365.39L197.4 402.89L197.65 407.47L197.9 407.47L198.15 407.47L198.4 424.3L198.65 440.1L198.9 432.43L199.15 432.43L199.4 437.71L199.65 415.21L199.9 396.36L200.15 362.7L200.4 347.5L200.65 347.5L200.9 347.5L201.15 347.5L201.4 354.8L201.65 392.3L201.9 429.8L202.15 449.97L202.4 437.47L202.65 419.44L202.9 419.44L203.15 382.04L203.4 349.33L203.65 349.33L203.9 349.33L204.15 349.33L204.4 349.33L204.65 376.63L204.9 414.13L205.15 432.58L205.4 413.96L205.65 376.46L205.9 361.25L206.15 361.25L206.4 361.25L206.65 361.25L206.9 368.54L207.15 395.32L207.4 414.15L207.65 436.65L207.9 439.2L208.15 451.7L208.4 448.79L208.65 436.29L208.9 423.79L209.15 415.91L209.4 415.91L209.65 420.66L209.9 412.87L210.15 412.87L210.4 418.58L210.65 424.9L210.9 424.9L211.15 406.35L211.4 368.85L211.65 336.13L211.9 336.13L212.15 336.13L212.4 336.13L212.65 336.13L212.9 363.42L213.15 400.92L213.4 420.63L213.65 419.74L213.9 423.85L214.15 436.35L214.4 443.94L214.65 421.44L214.9 398.94L215.15 371.39L215.4 351.17L215.65 351.17L215.9 351.17L216.15 351.17L216.4 343.47L216.65 343.47L216.9 343.47L217.15 343.47L217.4 358.24L217.65 395.74L217.9 387.89L218.15 367.67L218.4 367.67L218.65 367.67L218.9 367.67L219.15 369.94L219.4 407.44L219.65 429.95L219.9 436.77L220.15 421.03L220.4 412.01L220.65 412.01L220.9 416.49L221.15 438.99L221.4 443.84L221.65 429.74L221.9 407.24L222.15 390.55L222.4 363.73L222.65 331L222.9 331L223.15 331L223.4 331L223.65 331L223.9 358.27L224.15 395.77L224.4 433.27L224.65 423.64L224.9 415.4L225.15 400.21L225.4 400.21L225.65 400.21L225.9 421.02L226.15 421.96L226.4 393.49L226.65 355.99L226.9 328.25L227.15 328.25L227.4 328.25L227.65 328.25L227.9 328.25L228.15 343.83L228.4 343.83L228.65 343.83L228.9 343.83L229.15 343.83L229.4 371.1L229.65 408.6L229.9 388.24L230.15 380.5L230.4 380.5L230.65 380.5L230.9 380.5L231.15 395.26L231.4 432.76L231.65 432.71L231.9 435.27L232.15 447.77L232.4 429.57L232.65 407.07L232.9 384.57L233.15 378.22L233.4 356.05L233.65 323.3L233.9 323.3L234.15 323.3L234.4 323.3L234.65 323.3L234.9 350.55L235.15 388.05L235.4 414.62L235.65 421.67L235.9 434.17L236.15 424.76L236.4 423.28L236.65 423.28L236.9 435.3L237.15 434.26L237.4 434.26L237.65 432.08L237.9 394.58L238.15 357.08L238.4 349.33L238.65 349.33L238.9 349.33L239.15 349.33L239.4 364.08L239.65 400.61L239.9 401.81L240.15 424.31L240.4 446.81L240.65 449.5L240.9 438.92L241.15 428.57L241.4 406.07L241.65 389.48L241.9 389.48L242.15 389.48L242.4 408.89L242.65 382.06L242.9 361.8L243.15 361.8L243.4 361.8L243.65 361.8L243.9 364.04L244.15 401.54L244.4 416.18L244.65 407.84L244.9 370.34L245.15 332.84L245.4 330.08L245.65 330.08L245.9 330.08L246.15 330.08L246.4 349.82L246.65 387.32L246.9 422.4L247.15 444.9L247.4 433.96L247.65 430.99L247.9 433.03L248.15 441.76L248.4 419.26L248.65 396.76L248.9 386.9L249.15 349.4L249.4 341.63L249.65 341.63L249.9 341.63L250.15 341.63L250.4 356.37L250.65 393.87L250.9 410.97L251.15 415.47L251.4 413.27L251.65 416.06L251.9 380.02L252.15 372.25L252.4 372.25L252.65 372.25L252.9 372.25L253.15 386.98L253.4 424.48L253.65 445.19L253.9 437.65L254.15 415.15L254.4 400.94L254.65 400.94L254.9 400.94L255.15 410.81L255.4 373.31L255.65 340.53L255.9 340.53L256.15 340.53L256.4 340.53L256.65 340.53L256.9 367.76L257.15 405.26L257.4 412.38L257.65 389.88L257.9 379.56L258.15 379.56L258.4 382.73L258.65 405.23L258.9 427.73L259.15 447.96L259.4 447.91L259.65 440.84L259.9 427.26L260.15 389.76L260.4 352.26L260.65 344.75L260.9 344.75L261.15 344.75L261.4 344.75L261.65 359.74L261.9 397.24L262.15 402.88L262.4 393.61L262.65 393.61L262.9 397.85L263.15 414.88L263.4 412.66L263.65 415.44L263.9 427.94L264.15 440.44L264.4 431.88L264.65 410.95L264.9 409.69L265.15 389.67L265.4 389.67L265.65 389.67L265.9 389.67L266.15 392.15L266.4 421.19L266.65 383.69L266.9 351.17L267.15 351.17L267.4 351.17L267.65 351.17L267.9 351.17L268.15 378.65L268.4 416.15L268.65 388.94L268.9 381.42L269.15 381.42L269.4 381.42L269.65 381.42L269.9 396.39L270.15 432.94L270.4 413.8L270.65 413.8L270.9 413.8L271.15 430.07L271.4 417.36L271.65 379.86L271.9 354.83L272.15 354.83L272.4 354.83L272.65 354.83L272.9 354.83L273.15 389.81L273.4 391.09L273.65 409.96L273.9 432.46L274.15 452.33L274.4 449.04L274.65 436.54L274.9 433.16L275.15 434.78L275.4 447.28L275.65 442.73L275.9 442.41L276.15 439.17L276.4 438.17L276.65 427.31L276.9 427.31L277.15 433.96L277.4 437.34L277.65 399.84L277.9 367.3L278.15 367.3L278.4 367.3L278.65 367.3L278.9 367.3L279.15 394.76L279.4 421.87L279.65 384.37L279.9 376.83L280.15 376.83L280.4 376.83L280.65 376.83L280.9 391.8L281.15 429.3L281.4 458.38L281.65 445.88L281.9 435.69L282.15 435.69L282.4 429.29L282.65 391.79L282.9 366.75L283.15 366.75L283.4 366.75L283.65 366.75L283.9 366.75L284.15 401.71L284.4 384.17L284.65 384.17L284.9 384.17L285.15 384.17L285.4 386.62L285.65 424.12L285.9 440.96L286.15 450.99L286.4 435.8L286.65 435.8L286.9 435.8L287.15 453.3L287.4 470.1L287.65 459.37L287.9 451.34L288.15 451.34L288.4 460.81L288.65 435.05L288.9 402.5L289.15 402.5L289.4 402.5L289.65 402.5L289.9 402.5L290.15 429.95L290.4 461.14L290.65 432.97L290.9 395.47L291.15 370.42L291.4 370.42L291.65 370.42L291.9 370.42L292.15 370.42L292.4 405.37L292.65 442.87L292.9 457.79L293.15 438.39L293.4 400.89L293.65 393.33L293.9 393.33L294.15 393.33L294.4 393.33L294.65 408.28L294.9 379.76L295.15 377.2L295.4 377.2L295.65 377.2L295.9 377.2L296.15 397.14L296.4 434.64L296.65 462.66L296.9 469.28L297.15 469.26L297.4 456.8L297.65 445.17L297.9 445.17L298.15 451.04L298.4 463.54L298.65 459.6L298.9 452.6L299.15 415.1L299.4 390.03L299.65 390.03L299.9 390.03L300.15 390.03L300.4 390.03L300.65 424.97L300.9 430.09L301.15 430.09L301.4 444.09L301.65 438.53L301.9 407.4L302.15 382.33L302.4 382.33L302.65 382.33L302.9 382.33L303.15 382.33L303.4 415.25L303.65 415.25L303.9 433.16L304.15 448.41L304.4 460.91L304.65 464.82L304.9 442.32L305.15 404.82L305.4 372.25L305.65 372.25L305.9 372.25L306.15 372.25L306.4 372.25L306.65 399.68L306.9 437.18L307.15 448.98L307.4 437.23L307.65 437.23L307.9 438.41L308.15 460.75L308.4 449.57L308.65 449.57L308.9 440.16L309.15 422.05L309.4 422.05L309.65 422.05L309.9 439.95L310.15 460.69L310.4 456.99L310.65 419.49L310.9 386.92L311.15 386.92L311.4 386.92L311.65 386.92L311.9 386.92L312.15 414.34L312.4 427.41L312.65 389.91L312.9 382.33L313.15 382.33L313.4 382.33L313.65 382.33L313.9 397.25L314.15 434.75L314.4 447.22L314.65 447.22L314.9 447.22L315.15 453.52L315.4 466.02L315.65 467.68L315.9 459.65L316.15 447.15L316.4 417.75L316.65 380.25L316.9 367.67L317.15 367.67L317.4 367.67L317.65 367.67L317.9 377.58L318.15 415.08L318.4 452.58L318.65 467.42L318.9 467.4L319.15 457.19L319.4 457.19L319.65 462.47L319.9 467.31L320.15 457.73L320.4 445.23L320.65 432.73L320.9 427.29L321.15 427.29L321.4 429.43L321.65 416.76L321.9 384.17L322.15 384.17L322.4 384.17L322.65 384.17L322.9 384.17L323.15 389.19L323.4 389.19L323.65 399L323.9 392.39L324.15 367.3L324.4 367.3L324.65 367.3L324.9 367.3L325.15 367.3L325.4 402.21L325.65 439.71L325.9 456.33L326.15 425.6L326.4 388.1L326.65 380.5L326.9 380.5L327.15 380.5L327.4 380.5L327.65 395.4L327.9 425.63L328.15 388.13L328.4 368.03L328.65 368.03L328.9 368.03L329.15 368.03L329.4 370.44L329.65 407.94L329.9 445.44L330.15 460.28L330.4 447.78L330.65 438.44L330.9 438.44L331.15 446.59L331.4 442.57L331.65 439.89L331.9 442.21L332.15 447.61L332.4 444.7L332.65 443.95L332.9 439.33L333.15 439.71L333.4 452.21L333.65 453.24L333.9 440.74L334.15 439.25L334.4 413.69L334.65 376.19L334.9 368.58L335.15 368.58L335.4 368.58L335.65 368.58L335.9 383.48L336.15 420.98L336.4 429.95L336.65 440.06L336.9 448.53L337.15 436.03L337.4 435.89L337.65 440.76L337.9 452.82L338.15 430.32L338.4 407.82L338.65 391.87L338.9 391.87L339.15 376.41L339.4 356.3L339.65 356.3L339.9 356.3L340.15 356.3L340.4 358.69L340.65 396.19L340.9 433.69L341.15 450.29L341.4 449L341.65 433.55L341.9 433.55L342.15 433.55L342.4 453.95L342.65 416.45L342.9 378.95L343.15 371.33L343.4 371.33L343.65 371.33L343.9 371.33L344.15 386.22L344.4 419.79L344.65 382.29L344.9 362.17L345.15 362.17L345.4 362.17L345.65 362.17L345.9 364.55L346.15 402.05L346.4 397.54L346.65 364.92L346.9 364.92L347.15 364.92L347.4 364.92L347.65 364.92L347.9 392.3L348.15 429.8L348.4 429.4L348.65 406.9L348.9 384.4L349.15 384.15L349.4 384.15L349.65 397.4L349.9 418.88L350.15 381.38L350.4 361.25L350.65 361.25L350.9 361.25L351.15 361.25L351.4 363.62L351.65 401.12L351.9 438.62L352.15 441.68L352.4 453.63L352.65 445.19L352.9 445.19L353.15 454.25L353.4 438.93L353.65 401.43L353.9 363.93L354.15 356.3L354.4 356.3L354.65 356.3L354.9 356.3L355.15 371.17L355.4 408.67L355.65 384.13L355.9 364L356.15 364L356.4 364L356.65 364L356.9 366.37L357.15 403.87L357.4 403.97L357.65 371.33L357.9 371.33L358.15 371.33L358.4 371.33L358.65 371.33L358.9 398.7L359.15 436.2L359.4 433.22L359.65 433.22L359.9 426.06L360.15 425.91L360.4 430.75L360.65 443.25L360.9 433.56L361.15 396.06L361.4 375.92L361.65 375.92L361.9 375.92L362.15 375.92L362.4 378.28L362.65 413.03L362.9 413.03L363.15 421.06L363.4 443.56L363.65 452.17L363.9 464.36L364.15 455.68L364.4 427.39L364.65 389.89L364.9 352.39L365.15 344.75L365.4 344.75L365.65 344.75L365.9 344.75L366.15 359.61L366.4 397.11L366.65 386.9L366.9 366.75L367.15 366.75L367.4 366.75L367.65 366.75L367.9 369.1L368.15 406.6L368.4 431.54L368.65 439.28L368.9 445.74L369.15 442.07L369.4 443.4L369.65 455.9L369.9 457.78L370.15 448.43L370.4 448.43L370.65 448.04L370.9 425.54L371.15 395.74L371.4 363.08L371.65 363.08L371.9 363.08L372.15 363.08L372.4 363.08L372.65 390.43L372.9 427.93L373.15 437.9L373.4 447.79L373.65 444.19L373.9 431.69L374.15 423.47L374.4 423.47L374.65 427.66L374.9 427.66L375.15 435.6L375.4 424.66L375.65 387.16L375.9 349.66L376.15 342L376.4 342L376.65 342L376.9 342L377.15 356.84L377.4 394.34L377.65 411.76L377.9 430.64L378.15 453.14L378.4 453.6L378.65 444.69L378.9 444.69L379.15 437.46L379.4 399.96L379.65 367.3L379.9 367.3L380.15 367.3L380.4 367.3L380.65 367.3L380.9 394.64L381.15 432.14L381.4 444.61L381.65 454.77L381.9 422.25L382.15 384.75L382.4 352.08L382.65 352.08L382.9 352.08L383.15 352.08L383.4 352.08L383.65 379.42L383.9 416.92L384.15 427.47L384.4 427.47L384.65 436.05L384.9 448.55L385.15 443.81L385.4 431.31L385.65 430.91L385.9 435.51L386.15 415.69L386.4 393.19L386.65 386.84L386.9 386.84L387.15 379.09L387.4 353.92L387.65 353.92L387.9 353.92L388.15 353.92L388.4 353.92L388.65 388.74L388.9 406.43L389.15 398.19L389.4 398.19L389.65 403.44L389.9 425.94L390.15 422.2L390.4 415.93L390.65 383.25L390.9 383.25L391.15 383.25L391.4 383.25L391.65 383.25L391.9 402.48L392.15 402.48L392.4 405.26L392.65 427.76L392.9 445.24L393.15 435.18L393.4 397.68L393.65 360.18L393.9 347.5L394.15 347.5L394.4 347.5L394.65 347.5L394.9 357.32L395.15 371.2L395.4 371.2L395.65 371.2L395.9 388.93L396.15 411.43L396.4 433.93L396.65 437.8L396.9 418.99L397.15 405.61L397.4 405.61L397.65 405.73L397.9 428.23L398.15 423.1L398.4 385.6L398.65 370.42L398.9 370.42L399.15 370.42L399.4 370.42L399.65 377.73L399.9 415.23L400.15 442.13L400.4 427.28L400.65 420.58L400.9 420.58L401.15 427.37L401.4 449.87L401.65 451.85L401.9 451.85L402.15 459.88L402.4 464.59L402.65 450.41L402.9 439.59L403.15 429.8L403.4 429.8L403.65 437.52L403.9 433.72L404.15 424.35L404.4 400.44L404.65 362.94L404.9 350.25L405.15 350.25L405.4 350.25L405.65 350.25L405.9 360.06L406.15 397.56L406.4 435.06L406.65 450.77L406.9 450.77L407.15 438.58L407.4 430L407.65 430L407.9 438.91L408.15 421.78L408.4 421.78L408.65 421.78L408.9 436.25L409.15 457.95L409.4 454.33L409.65 441.83L409.9 437.56L410.15 426.57L410.4 389.07L410.65 386.37L410.9 386.37L411.15 377.18L411.4 377.18L411.65 377.18L411.9 398.49L412.15 420.99L412.4 440.81L412.65 432.41L412.9 423.18L413.15 423.18L413.4 431.45L413.65 438.52L413.9 435.37L414.15 437.22L414.4 449.72L414.65 431.42L414.9 430.3L415.15 430.3L415.4 439.51L415.65 402.01L415.9 364.51L416.15 361.8L416.4 361.8L416.65 361.8L416.9 361.8L417.15 381.59L417.4 393.33L417.65 393.33L417.9 393.33L418.15 393.33L418.4 408.12L418.65 445.62L418.9 465.94L419.15 454.79L419.4 442.29L419.65 442.11L419.9 440.05L420.15 434.65L420.4 434.65L420.65 442.74L420.9 445.78L421.15 411.55L421.4 374.05L421.65 371.33L421.9 371.33L422.15 371.33L422.4 371.33L422.65 391.12L422.9 428.62L423.15 421.1L423.4 398.6L423.65 392.95L423.9 392.95L424.15 400.79L424.4 423.29L424.65 445.79L424.9 440.76L425.15 433.99L425.4 433.99L425.65 417.8L425.9 417.8L426.15 417.8L426.4 433.97L426.65 420.72L426.9 383.22L427.15 380.5L427.4 380.5L427.65 380.5L427.9 380.5L428.15 400.28L428.4 435.15L428.65 451.56L428.9 454.39L429.15 466.89L429.4 469.78L429.65 464.95L429.9 454.5L430.15 454.5L430.4 444.78L430.65 443.76L430.9 443.76L431.15 448.97L431.4 449.84L431.65 437.66L431.9 429.81L432.15 392.31L432.4 354.81L432.65 352.08L432.9 352.08L433.15 352.08L433.4 352.08L433.65 371.85L433.9 409.35L434.15 446.85L434.4 454.66L434.65 461.68L434.9 449.18L435.15 442.14L435.4 442.14L435.65 452.6L435.9 459.62L436.15 447.56L436.4 447.56L436.65 451.83L436.9 439.33L437.15 415.07L437.4 382.33L437.65 382.33L437.9 382.33L438.15 382.33L438.4 382.33L438.65 409.6L438.9 447.1L439.15 463.39L439.4 445.62L439.65 423.12L439.9 417.78L440.15 417.78L440.4 425.93L440.65 434.03L440.9 434.03L441.15 444.46L441.4 456.96L441.65 449.68L441.9 434.25L442.15 411.75L442.4 409.87L442.65 409.87L442.9 421.49L443.15 431.38L443.4 393.88L443.65 356.38L443.9 336.13L444.15 336.13L444.4 336.13L444.65 336.13L444.9 338.39L445.15 375.89L445.4 413.39L445.65 442.5L445.9 442.5L446.15 442.5L446.4 452.99L446.65 461.14L446.9 463.53L447.15 451.76L447.4 451.76L447.65 432.33L447.9 394.83L448.15 379.58L448.4 379.58L448.65 379.58L448.9 379.58L449.15 386.84L449.4 424.34L449.65 445.54L449.9 451.78L450.15 463.68L450.4 469.54L450.65 458.39L450.9 458.39L451.15 464.75L451.4 477.25L451.65 479.81L451.9 477.39L452.15 468.98L452.4 468.98L452.65 468.98L452.9 486.27L453.15 486.46L453.4 489.35L453.65 496.44L453.65 528 Z" fill="#000" stroke="#000" stroke-width="0.6" stroke-linejoin="bevel"/>
<rect x="39" y="33.5" width="429.8" height="226.1" fill="none" stroke="#3a3a3a" stroke-width="1"/>
<line x1="54.4" y1="259.6" x2="441.5" y2="259.6" stroke="#111" stroke-width="1"/>
<line x1="54.4" y1="259.6" x2="54.4" y2="265.6" stroke="#111" stroke-width="1"/>
<text x="54.4" y="279.9" font-size="9.2" text-anchor="middle" fill="#000">0</text>
<line x1="109.7" y1="259.6" x2="109.7" y2="265.6" stroke="#111" stroke-width="1"/>
<text x="109.7" y="279.9" font-size="9.2" text-anchor="middle" fill="#000">5</text>
<line x1="165" y1="259.6" x2="165" y2="265.6" stroke="#111" stroke-width="1"/>
<text x="165" y="279.9" font-size="9.2" text-anchor="middle" fill="#000">10</text>
<line x1="220.3" y1="259.6" x2="220.3" y2="265.6" stroke="#111" stroke-width="1"/>
<text x="220.3" y="279.9" font-size="9.2" text-anchor="middle" fill="#000">15</text>
<line x1="275.6" y1="259.6" x2="275.6" y2="265.6" stroke="#111" stroke-width="1"/>
<text x="275.6" y="279.9" font-size="9.2" text-anchor="middle" fill="#000">20</text>
<line x1="330.9" y1="259.6" x2="330.9" y2="265.6" stroke="#111" stroke-width="1"/>
<text x="330.9" y="279.9" font-size="9.2" text-anchor="middle" fill="#000">25</text>
<line x1="386.2" y1="259.6" x2="386.2" y2="265.6" stroke="#111" stroke-width="1"/>
<text x="386.2" y="279.9" font-size="9.2" text-anchor="middle" fill="#000">30</text>
<line x1="441.5" y1="259.6" x2="441.5" y2="265.6" stroke="#111" stroke-width="1"/>
<text x="441.5" y="279.9" font-size="9.2" text-anchor="middle" fill="#000">35</text>
<line x1="39" y1="251.4" x2="39" y2="73" stroke="#111" stroke-width="1"/>
<line x1="33" y1="251.4" x2="39" y2="251.4" stroke="#111" stroke-width="1"/>
<text x="25.3" y="251.4" font-size="9.2" text-anchor="middle" transform="rotate(-90 25.3 251.4)" fill="#000">0.0</text>
<line x1="33" y1="206.8" x2="39" y2="206.8" stroke="#111" stroke-width="1"/>
<text x="25.3" y="206.8" font-size="9.2" text-anchor="middle" transform="rotate(-90 25.3 206.8)" fill="#000">0.2</text>
<line x1="33" y1="162.2" x2="39" y2="162.2" stroke="#111" stroke-width="1"/>
<text x="25.3" y="162.2" font-size="9.2" text-anchor="middle" transform="rotate(-90 25.3 162.2)" fill="#000">0.4</text>
<line x1="33" y1="117.6" x2="39" y2="117.6" stroke="#111" stroke-width="1"/>
<text x="25.3" y="117.6" font-size="9.2" text-anchor="middle" transform="rotate(-90 25.3 117.6)" fill="#000">0.6</text>
<line x1="33" y1="73" x2="39" y2="73" stroke="#111" stroke-width="1"/>
<text x="25.3" y="73" font-size="9.2" text-anchor="middle" transform="rotate(-90 25.3 73)" fill="#000">0.8</text>
<text x="251" y="19.8" font-size="8.7" font-weight="bold" text-anchor="middle" fill="#000">PC1 periodogram</text>
<text x="259.9" y="30.6" font-size="8.7" font-weight="bold" text-anchor="middle" fill="#000">PC1 frequency = 3.489662/day</text>
<text x="253.9" y="291.2" font-size="9.2" text-anchor="middle" fill="#000">Frequency [1/day]</text>
<text transform="translate(14.2 146.55) rotate(-90)" font-size="9.2" text-anchor="middle">&#967;<tspan font-size="6.5" dy="-4">2</tspan></text>
<rect x="39" y="315.2" width="429.8" height="220" fill="none" stroke="#3a3a3a" stroke-width="1"/>
<line x1="54.4" y1="535.2" x2="441.5" y2="535.2" stroke="#111" stroke-width="1"/>
<line x1="54.4" y1="535.2" x2="54.4" y2="541.2" stroke="#111" stroke-width="1"/>
<text x="54.4" y="555.5" font-size="9.2" text-anchor="middle" fill="#000">0</text>
<line x1="109.7" y1="535.2" x2="109.7" y2="541.2" stroke="#111" stroke-width="1"/>
<text x="109.7" y="555.5" font-size="9.2" text-anchor="middle" fill="#000">5</text>
<line x1="165" y1="535.2" x2="165" y2="541.2" stroke="#111" stroke-width="1"/>
<text x="165" y="555.5" font-size="9.2" text-anchor="middle" fill="#000">10</text>
<line x1="220.3" y1="535.2" x2="220.3" y2="541.2" stroke="#111" stroke-width="1"/>
<text x="220.3" y="555.5" font-size="9.2" text-anchor="middle" fill="#000">15</text>
<line x1="275.6" y1="535.2" x2="275.6" y2="541.2" stroke="#111" stroke-width="1"/>
<text x="275.6" y="555.5" font-size="9.2" text-anchor="middle" fill="#000">20</text>
<line x1="330.9" y1="535.2" x2="330.9" y2="541.2" stroke="#111" stroke-width="1"/>
<text x="330.9" y="555.5" font-size="9.2" text-anchor="middle" fill="#000">25</text>
<line x1="386.2" y1="535.2" x2="386.2" y2="541.2" stroke="#111" stroke-width="1"/>
<text x="386.2" y="555.5" font-size="9.2" text-anchor="middle" fill="#000">30</text>
<line x1="441.5" y1="535.2" x2="441.5" y2="541.2" stroke="#111" stroke-width="1"/>
<text x="441.5" y="555.5" font-size="9.2" text-anchor="middle" fill="#000">35</text>
<line x1="39" y1="528" x2="39" y2="336" stroke="#111" stroke-width="1"/>
<line x1="33" y1="528" x2="39" y2="528" stroke="#111" stroke-width="1"/>
<text x="25.3" y="528" font-size="9.2" text-anchor="middle" transform="rotate(-90 25.3 528)" fill="#000">0.0</text>
<line x1="33" y1="480" x2="39" y2="480" stroke="#111" stroke-width="1"/>
<text x="25.3" y="480" font-size="9.2" text-anchor="middle" transform="rotate(-90 25.3 480)" fill="#000">0.1</text>
<line x1="33" y1="432" x2="39" y2="432" stroke="#111" stroke-width="1"/>
<text x="25.3" y="432" font-size="9.2" text-anchor="middle" transform="rotate(-90 25.3 432)" fill="#000">0.2</text>
<line x1="33" y1="384" x2="39" y2="384" stroke="#111" stroke-width="1"/>
<text x="25.3" y="384" font-size="9.2" text-anchor="middle" transform="rotate(-90 25.3 384)" fill="#000">0.3</text>
<line x1="33" y1="336" x2="39" y2="336" stroke="#111" stroke-width="1"/>
<text x="25.3" y="336" font-size="9.2" text-anchor="middle" transform="rotate(-90 25.3 336)" fill="#000">0.4</text>
<text x="252.4" y="302.5" font-size="8.7" font-weight="bold" text-anchor="middle" fill="#000">Residual periodogram</text>
<text x="254.8" y="312.6" font-size="8.7" font-weight="bold" text-anchor="middle" fill="#000">Residual frequency = 16.2352/day</text>
<text x="253.9" y="566.8" font-size="9.2" text-anchor="middle" fill="#000">Frequency [1/day]</text>
<text transform="translate(14.2 425.2) rotate(-90)" font-size="9.2" text-anchor="middle">&#967;<tspan font-size="6.5" dy="-4">2</tspan></text>
<rect x="502.4" y="33.5" width="326.5" height="133.8" fill="none" stroke="#3a3a3a" stroke-width="1"/>
<line x1="514.2" y1="167.3" x2="816.4" y2="167.3" stroke="#111" stroke-width="1"/>
<line x1="514.2" y1="167.3" x2="514.2" y2="173.3" stroke="#111" stroke-width="1"/>
<text x="514.2" y="187.6" font-size="9.2" text-anchor="middle" fill="#000">0.0</text>
<line x1="614.93" y1="167.3" x2="614.93" y2="173.3" stroke="#111" stroke-width="1"/>
<text x="614.93" y="187.6" font-size="9.2" text-anchor="middle" fill="#000">0.5</text>
<line x1="715.67" y1="167.3" x2="715.67" y2="173.3" stroke="#111" stroke-width="1"/>
<text x="715.67" y="187.6" font-size="9.2" text-anchor="middle" fill="#000">1.0</text>
<line x1="816.4" y1="167.3" x2="816.4" y2="173.3" stroke="#111" stroke-width="1"/>
<text x="816.4" y="187.6" font-size="9.2" text-anchor="middle" fill="#000">1.5</text>
<line x1="502.4" y1="148.4" x2="502.4" y2="44.4" stroke="#111" stroke-width="1"/>
<line x1="496.4" y1="148.4" x2="502.4" y2="148.4" stroke="#111" stroke-width="1"/>
<text x="488.7" y="148.4" font-size="9.2" text-anchor="middle" transform="rotate(-90 488.7 148.4)" fill="#000">-40</text>
<line x1="496.4" y1="122.4" x2="502.4" y2="122.4" stroke="#111" stroke-width="1"/>
<text x="488.7" y="122.4" font-size="9.2" text-anchor="middle" transform="rotate(-90 488.7 122.4)" fill="#000">-20</text>
<line x1="496.4" y1="96.4" x2="502.4" y2="96.4" stroke="#111" stroke-width="1"/>
<text x="488.7" y="96.4" font-size="9.2" text-anchor="middle" transform="rotate(-90 488.7 96.4)" fill="#000">0</text>
<line x1="496.4" y1="70.4" x2="502.4" y2="70.4" stroke="#111" stroke-width="1"/>
<text x="488.7" y="70.4" font-size="9.2" text-anchor="middle" transform="rotate(-90 488.7 70.4)" fill="#000">20</text>
<line x1="496.4" y1="44.4" x2="502.4" y2="44.4" stroke="#111" stroke-width="1"/>
<text x="488.7" y="44.4" font-size="9.2" text-anchor="middle" transform="rotate(-90 488.7 44.4)" fill="#000">40</text>
<text x="666.45" y="26.2" font-size="9.2" font-weight="bold" text-anchor="middle" fill="#000">PC1 folded light curve (PC1 frequency)</text>
<text x="665.65" y="198.9" font-size="9.2" text-anchor="middle" fill="#000">Phase</text>
<rect x="862.5" y="33.5" width="327" height="133.9" fill="none" stroke="#3a3a3a" stroke-width="1"/>
<line x1="874.5" y1="167.4" x2="1177" y2="167.4" stroke="#111" stroke-width="1"/>
<line x1="874.5" y1="167.4" x2="874.5" y2="173.4" stroke="#111" stroke-width="1"/>
<text x="874.5" y="187.7" font-size="9.2" text-anchor="middle" fill="#000">0.0</text>
<line x1="975.33" y1="167.4" x2="975.33" y2="173.4" stroke="#111" stroke-width="1"/>
<text x="975.33" y="187.7" font-size="9.2" text-anchor="middle" fill="#000">0.5</text>
<line x1="1076.17" y1="167.4" x2="1076.17" y2="173.4" stroke="#111" stroke-width="1"/>
<text x="1076.17" y="187.7" font-size="9.2" text-anchor="middle" fill="#000">1.0</text>
<line x1="1177" y1="167.4" x2="1177" y2="173.4" stroke="#111" stroke-width="1"/>
<text x="1177" y="187.7" font-size="9.2" text-anchor="middle" fill="#000">1.5</text>
<line x1="862.5" y1="148.8" x2="862.5" y2="39.2" stroke="#111" stroke-width="1"/>
<line x1="856.5" y1="148.8" x2="862.5" y2="148.8" stroke="#111" stroke-width="1"/>
<text x="848.8" y="148.8" font-size="9.2" text-anchor="middle" transform="rotate(-90 848.8 148.8)" fill="#000">-10</text>
<line x1="856.5" y1="121.4" x2="862.5" y2="121.4" stroke="#111" stroke-width="1"/>
<text x="848.8" y="121.4" font-size="9.2" text-anchor="middle" transform="rotate(-90 848.8 121.4)" fill="#000">-5</text>
<line x1="856.5" y1="94" x2="862.5" y2="94" stroke="#111" stroke-width="1"/>
<text x="848.8" y="94" font-size="9.2" text-anchor="middle" transform="rotate(-90 848.8 94)" fill="#000">0</text>
<line x1="856.5" y1="66.6" x2="862.5" y2="66.6" stroke="#111" stroke-width="1"/>
<text x="848.8" y="66.6" font-size="9.2" text-anchor="middle" transform="rotate(-90 848.8 66.6)" fill="#000">5</text>
<line x1="856.5" y1="39.2" x2="862.5" y2="39.2" stroke="#111" stroke-width="1"/>
<text x="848.8" y="39.2" font-size="9.2" text-anchor="middle" transform="rotate(-90 848.8 39.2)" fill="#000">10</text>
<text x="1026.8" y="26.2" font-size="9.2" font-weight="bold" text-anchor="middle" fill="#000">Residual PC1 folded light curve (residual frequency)</text>
<text x="1026" y="199" font-size="9.2" text-anchor="middle" fill="#000">Phase</text>
<rect x="502.4" y="222.7" width="326.5" height="128.8" fill="none" stroke="#3a3a3a" stroke-width="1"/>
<line x1="514.2" y1="351.5" x2="816.4" y2="351.5" stroke="#111" stroke-width="1"/>
<line x1="514.2" y1="351.5" x2="514.2" y2="357.5" stroke="#111" stroke-width="1"/>
<text x="514.2" y="371.8" font-size="9.2" text-anchor="middle" fill="#000">0.0</text>
<line x1="614.93" y1="351.5" x2="614.93" y2="357.5" stroke="#111" stroke-width="1"/>
<text x="614.93" y="371.8" font-size="9.2" text-anchor="middle" fill="#000">0.5</text>
<line x1="715.67" y1="351.5" x2="715.67" y2="357.5" stroke="#111" stroke-width="1"/>
<text x="715.67" y="371.8" font-size="9.2" text-anchor="middle" fill="#000">1.0</text>
<line x1="816.4" y1="351.5" x2="816.4" y2="357.5" stroke="#111" stroke-width="1"/>
<text x="816.4" y="371.8" font-size="9.2" text-anchor="middle" fill="#000">1.5</text>
<line x1="502.4" y1="238" x2="502.4" y2="334.25" stroke="#111" stroke-width="1"/>
<line x1="496.4" y1="238" x2="502.4" y2="238" stroke="#111" stroke-width="1"/>
<line x1="496.4" y1="257.25" x2="502.4" y2="257.25" stroke="#111" stroke-width="1"/>
<text x="488.7" y="257.25" font-size="9.2" text-anchor="middle" transform="rotate(-90 488.7 257.25)" fill="#000">16.5</text>
<line x1="496.4" y1="276.5" x2="502.4" y2="276.5" stroke="#111" stroke-width="1"/>
<line x1="496.4" y1="295.75" x2="502.4" y2="295.75" stroke="#111" stroke-width="1"/>
<text x="488.7" y="295.75" font-size="9.2" text-anchor="middle" transform="rotate(-90 488.7 295.75)" fill="#000">16.7</text>
<line x1="496.4" y1="315" x2="502.4" y2="315" stroke="#111" stroke-width="1"/>
<line x1="496.4" y1="334.25" x2="502.4" y2="334.25" stroke="#111" stroke-width="1"/>
<text x="488.7" y="334.25" font-size="9.2" text-anchor="middle" transform="rotate(-90 488.7 334.25)" fill="#000">16.9</text>
<text x="666.45" y="215.8" font-size="9.2" font-weight="bold" text-anchor="middle" fill="#000">g folded light curve (PC1 frequency)</text>
<text x="665.65" y="383.1" font-size="9.2" text-anchor="middle" fill="#000">Phase</text>
<rect x="862.5" y="222.5" width="327" height="129.5" fill="none" stroke="#3a3a3a" stroke-width="1"/>
<line x1="874.5" y1="352" x2="1177" y2="352" stroke="#111" stroke-width="1"/>
<line x1="874.5" y1="352" x2="874.5" y2="358" stroke="#111" stroke-width="1"/>
<text x="874.5" y="372.3" font-size="9.2" text-anchor="middle" fill="#000">0.0</text>
<line x1="975.33" y1="352" x2="975.33" y2="358" stroke="#111" stroke-width="1"/>
<text x="975.33" y="372.3" font-size="9.2" text-anchor="middle" fill="#000">0.5</text>
<line x1="1076.17" y1="352" x2="1076.17" y2="358" stroke="#111" stroke-width="1"/>
<text x="1076.17" y="372.3" font-size="9.2" text-anchor="middle" fill="#000">1.0</text>
<line x1="1177" y1="352" x2="1177" y2="358" stroke="#111" stroke-width="1"/>
<text x="1177" y="372.3" font-size="9.2" text-anchor="middle" fill="#000">1.5</text>
<line x1="862.5" y1="240.2" x2="862.5" y2="336.5" stroke="#111" stroke-width="1"/>
<line x1="856.5" y1="240.2" x2="862.5" y2="240.2" stroke="#111" stroke-width="1"/>
<text x="848.8" y="240.2" font-size="9.2" text-anchor="middle" transform="rotate(-90 848.8 240.2)" fill="#000">0.05</text>
<line x1="856.5" y1="272.3" x2="862.5" y2="272.3" stroke="#111" stroke-width="1"/>
<text x="848.8" y="272.3" font-size="9.2" text-anchor="middle" transform="rotate(-90 848.8 272.3)" fill="#000">0.00</text>
<line x1="856.5" y1="304.4" x2="862.5" y2="304.4" stroke="#111" stroke-width="1"/>
<text x="848.8" y="304.4" font-size="9.2" text-anchor="middle" transform="rotate(-90 848.8 304.4)" fill="#000">-0.05</text>
<line x1="856.5" y1="336.5" x2="862.5" y2="336.5" stroke="#111" stroke-width="1"/>
<text x="848.8" y="336.5" font-size="9.2" text-anchor="middle" transform="rotate(-90 848.8 336.5)" fill="#000">-0.10</text>
<text x="1026.8" y="215.8" font-size="9.2" font-weight="bold" text-anchor="middle" fill="#000">Residual g folded light curve (residual frequency)</text>
<text x="1026" y="383.6" font-size="9.2" text-anchor="middle" fill="#000">Phase</text>
<rect x="502.4" y="407.1" width="326.2" height="129.2" fill="none" stroke="#3a3a3a" stroke-width="1"/>
<line x1="514.1" y1="536.3" x2="816.9" y2="536.3" stroke="#111" stroke-width="1"/>
<line x1="514.1" y1="536.3" x2="514.1" y2="542.3" stroke="#111" stroke-width="1"/>
<text x="514.1" y="556.6" font-size="9.2" text-anchor="middle" fill="#000">0.0</text>
<line x1="615.03" y1="536.3" x2="615.03" y2="542.3" stroke="#111" stroke-width="1"/>
<text x="615.03" y="556.6" font-size="9.2" text-anchor="middle" fill="#000">0.5</text>
<line x1="715.97" y1="536.3" x2="715.97" y2="542.3" stroke="#111" stroke-width="1"/>
<text x="715.97" y="556.6" font-size="9.2" text-anchor="middle" fill="#000">1.0</text>
<line x1="816.9" y1="536.3" x2="816.9" y2="542.3" stroke="#111" stroke-width="1"/>
<text x="816.9" y="556.6" font-size="9.2" text-anchor="middle" fill="#000">1.5</text>
<line x1="502.4" y1="524.3" x2="502.4" y2="417" stroke="#111" stroke-width="1"/>
<line x1="496.4" y1="524.3" x2="502.4" y2="524.3" stroke="#111" stroke-width="1"/>
<text x="488.7" y="524.3" font-size="9.2" text-anchor="middle" transform="rotate(-90 488.7 524.3)" fill="#000">0.0</text>
<line x1="496.4" y1="497.47" x2="502.4" y2="497.47" stroke="#111" stroke-width="1"/>
<text x="488.7" y="497.47" font-size="9.2" text-anchor="middle" transform="rotate(-90 488.7 497.47)" fill="#000">0.1</text>
<line x1="496.4" y1="470.65" x2="502.4" y2="470.65" stroke="#111" stroke-width="1"/>
<text x="488.7" y="470.65" font-size="9.2" text-anchor="middle" transform="rotate(-90 488.7 470.65)" fill="#000">0.2</text>
<line x1="496.4" y1="443.82" x2="502.4" y2="443.82" stroke="#111" stroke-width="1"/>
<text x="488.7" y="443.82" font-size="9.2" text-anchor="middle" transform="rotate(-90 488.7 443.82)" fill="#000">0.3</text>
<line x1="496.4" y1="417" x2="502.4" y2="417" stroke="#111" stroke-width="1"/>
<text x="488.7" y="417" font-size="9.2" text-anchor="middle" transform="rotate(-90 488.7 417)" fill="#000">0.4</text>
<text x="666.3" y="400.3" font-size="9.2" font-weight="bold" text-anchor="middle" fill="#000">g-i folded light curve (PC1 frequency)</text>
<text x="665.5" y="567.9" font-size="9.2" text-anchor="middle" fill="#000">Phase</text>
<text x="1025.4" y="400.3" font-size="8.7" font-weight="bold" text-anchor="middle" fill="#000">Color code for time</text>
<rect x="861.9" y="407" width="327" height="12.6" fill="url(#cbar)" stroke="#111" stroke-width="1"/>
<line x1="913.5" y1="419.6" x2="913.5" y2="425.1" stroke="#111" stroke-width="1"/>
<text x="913.5" y="440.3" font-size="9.2" text-anchor="middle" fill="#000">53800</text>
<line x1="965.95" y1="419.6" x2="965.95" y2="425.1" stroke="#111" stroke-width="1"/>
<text x="965.95" y="440.3" font-size="9.2" text-anchor="middle" fill="#000">53900</text>
<line x1="1018.4" y1="419.6" x2="1018.4" y2="425.1" stroke="#111" stroke-width="1"/>
<text x="1018.4" y="440.3" font-size="9.2" text-anchor="middle" fill="#000">54000</text>
<line x1="1070.85" y1="419.6" x2="1070.85" y2="425.1" stroke="#111" stroke-width="1"/>
<text x="1070.85" y="440.3" font-size="9.2" text-anchor="middle" fill="#000">54100</text>
<line x1="1123.3" y1="419.6" x2="1123.3" y2="425.1" stroke="#111" stroke-width="1"/>
<text x="1123.3" y="440.3" font-size="9.2" text-anchor="middle" fill="#000">54200</text>
<line x1="1175.75" y1="419.6" x2="1175.75" y2="425.1" stroke="#111" stroke-width="1"/>
<text x="1175.75" y="440.3" font-size="9.2" text-anchor="middle" fill="#000">54300</text>
<text x="1025.4" y="451.5" font-size="9.2" text-anchor="middle" fill="#000">Time [JD]</text>
<rect x="38.8" y="591" width="190.3" height="175.4" fill="none" stroke="#3a3a3a" stroke-width="1"/>
<line x1="40.2" y1="766.4" x2="221.3" y2="766.4" stroke="#111" stroke-width="1"/>
<line x1="40.2" y1="766.4" x2="40.2" y2="772.4" stroke="#111" stroke-width="1"/>
<text x="40.2" y="786.7" font-size="9.2" text-anchor="middle" fill="#000">53600</text>
<line x1="85.48" y1="766.4" x2="85.48" y2="772.4" stroke="#111" stroke-width="1"/>
<text x="85.48" y="786.7" font-size="9.2" text-anchor="middle" fill="#000">53800</text>
<line x1="130.75" y1="766.4" x2="130.75" y2="772.4" stroke="#111" stroke-width="1"/>
<text x="130.75" y="786.7" font-size="9.2" text-anchor="middle" fill="#000">54000</text>
<line x1="176.03" y1="766.4" x2="176.03" y2="772.4" stroke="#111" stroke-width="1"/>
<text x="176.03" y="786.7" font-size="9.2" text-anchor="middle" fill="#000">54200</text>
<line x1="221.3" y1="766.4" x2="221.3" y2="772.4" stroke="#111" stroke-width="1"/>
<text x="221.3" y="786.7" font-size="9.2" text-anchor="middle" fill="#000">54400</text>
<line x1="38.8" y1="620.3" x2="38.8" y2="737.6" stroke="#111" stroke-width="1"/>
<line x1="32.8" y1="620.3" x2="38.8" y2="620.3" stroke="#111" stroke-width="1"/>
<text x="25.1" y="620.3" font-size="9.2" text-anchor="middle" transform="rotate(-90 25.1 620.3)" fill="#000">16.5</text>
<line x1="32.8" y1="659.4" x2="38.8" y2="659.4" stroke="#111" stroke-width="1"/>
<text x="25.1" y="659.4" font-size="9.2" text-anchor="middle" transform="rotate(-90 25.1 659.4)" fill="#000">17.0</text>
<line x1="32.8" y1="698.5" x2="38.8" y2="698.5" stroke="#111" stroke-width="1"/>
<text x="25.1" y="698.5" font-size="9.2" text-anchor="middle" transform="rotate(-90 25.1 698.5)" fill="#000">17.5</text>
<line x1="32.8" y1="737.6" x2="38.8" y2="737.6" stroke="#111" stroke-width="1"/>
<text x="25.1" y="737.6" font-size="9.2" text-anchor="middle" transform="rotate(-90 25.1 737.6)" fill="#000">18.0</text>
<text x="133.95" y="584.8" font-size="8.7" font-weight="bold" text-anchor="middle" fill="#000">Raw light curve</text>
<text x="133.95" y="798" font-size="9.2" text-anchor="middle" fill="#000">Time</text>
<text x="14.5" y="678.7" font-size="9.2" text-anchor="middle" transform="rotate(-90 14.5 678.7)" fill="#000">Magnitudes</text>
<rect x="273.2" y="591" width="195.3" height="175.4" fill="none" stroke="#3a3a3a" stroke-width="1"/>
<line x1="303.4" y1="766.4" x2="439.1" y2="766.4" stroke="#111" stroke-width="1"/>
<line x1="303.4" y1="766.4" x2="303.4" y2="772.4" stroke="#111" stroke-width="1"/>
<text x="303.4" y="786.7" font-size="9.2" text-anchor="middle" fill="#000">0.8</text>
<line x1="348.63" y1="766.4" x2="348.63" y2="772.4" stroke="#111" stroke-width="1"/>
<text x="348.63" y="786.7" font-size="9.2" text-anchor="middle" fill="#000">1.0</text>
<line x1="393.87" y1="766.4" x2="393.87" y2="772.4" stroke="#111" stroke-width="1"/>
<text x="393.87" y="786.7" font-size="9.2" text-anchor="middle" fill="#000">1.2</text>
<line x1="439.1" y1="766.4" x2="439.1" y2="772.4" stroke="#111" stroke-width="1"/>
<text x="439.1" y="786.7" font-size="9.2" text-anchor="middle" fill="#000">1.4</text>
<line x1="273.2" y1="759.9" x2="273.2" y2="598.2" stroke="#111" stroke-width="1"/>
<line x1="267.2" y1="759.9" x2="273.2" y2="759.9" stroke="#111" stroke-width="1"/>
<text x="259.5" y="759.9" font-size="9.2" text-anchor="middle" transform="rotate(-90 259.5 759.9)" fill="#000">-0.2</text>
<line x1="267.2" y1="736.8" x2="273.2" y2="736.8" stroke="#111" stroke-width="1"/>
<line x1="267.2" y1="713.7" x2="273.2" y2="713.7" stroke="#111" stroke-width="1"/>
<text x="259.5" y="713.7" font-size="9.2" text-anchor="middle" transform="rotate(-90 259.5 713.7)" fill="#000">0.0</text>
<line x1="267.2" y1="690.6" x2="273.2" y2="690.6" stroke="#111" stroke-width="1"/>
<text x="259.5" y="690.6" font-size="9.2" text-anchor="middle" transform="rotate(-90 259.5 690.6)" fill="#000">0.1</text>
<line x1="267.2" y1="667.5" x2="273.2" y2="667.5" stroke="#111" stroke-width="1"/>
<text x="259.5" y="667.5" font-size="9.2" text-anchor="middle" transform="rotate(-90 259.5 667.5)" fill="#000">0.2</text>
<line x1="267.2" y1="644.4" x2="273.2" y2="644.4" stroke="#111" stroke-width="1"/>
<text x="259.5" y="644.4" font-size="9.2" text-anchor="middle" transform="rotate(-90 259.5 644.4)" fill="#000">0.3</text>
<line x1="267.2" y1="621.3" x2="273.2" y2="621.3" stroke="#111" stroke-width="1"/>
<text x="259.5" y="621.3" font-size="9.2" text-anchor="middle" transform="rotate(-90 259.5 621.3)" fill="#000">0.4</text>
<line x1="267.2" y1="598.2" x2="273.2" y2="598.2" stroke="#111" stroke-width="1"/>
<text x="259.5" y="598.2" font-size="9.2" text-anchor="middle" transform="rotate(-90 259.5 598.2)" fill="#000">0.5</text>
<text x="370.85" y="584.8" font-size="8.7" font-weight="bold" text-anchor="middle" fill="#000">Color-color diagram</text>
<text x="370.85" y="798" font-size="9.2" text-anchor="middle" fill="#000">u-g</text>
<text x="248.9" y="678.7" font-size="9.2" text-anchor="middle" transform="rotate(-90 248.9 678.7)" fill="#000">g-r</text>
<rect x="513.2" y="591" width="195.3" height="175.4" fill="none" stroke="#3a3a3a" stroke-width="1"/>
<line x1="528.8" y1="766.4" x2="686" y2="766.4" stroke="#111" stroke-width="1"/>
<line x1="528.8" y1="766.4" x2="528.8" y2="772.4" stroke="#111" stroke-width="1"/>
<text x="528.8" y="786.7" font-size="9.2" text-anchor="middle" fill="#000">-0.6</text>
<line x1="560.24" y1="766.4" x2="560.24" y2="772.4" stroke="#111" stroke-width="1"/>
<text x="560.24" y="786.7" font-size="9.2" text-anchor="middle" fill="#000">-0.4</text>
<line x1="591.68" y1="766.4" x2="591.68" y2="772.4" stroke="#111" stroke-width="1"/>
<text x="591.68" y="786.7" font-size="9.2" text-anchor="middle" fill="#000">-0.2</text>
<line x1="623.12" y1="766.4" x2="623.12" y2="772.4" stroke="#111" stroke-width="1"/>
<text x="623.12" y="786.7" font-size="9.2" text-anchor="middle" fill="#000">0.0</text>
<line x1="654.56" y1="766.4" x2="654.56" y2="772.4" stroke="#111" stroke-width="1"/>
<text x="654.56" y="786.7" font-size="9.2" text-anchor="middle" fill="#000">0.2</text>
<line x1="686" y1="766.4" x2="686" y2="772.4" stroke="#111" stroke-width="1"/>
<text x="686" y="786.7" font-size="9.2" text-anchor="middle" fill="#000">0.4</text>
<line x1="513.2" y1="598.2" x2="513.2" y2="750.3" stroke="#111" stroke-width="1"/>
<line x1="507.2" y1="598.2" x2="513.2" y2="598.2" stroke="#111" stroke-width="1"/>
<text x="499.5" y="598.2" font-size="9.2" text-anchor="middle" transform="rotate(-90 499.5 598.2)" fill="#000">0.0</text>
<line x1="507.2" y1="648.9" x2="513.2" y2="648.9" stroke="#111" stroke-width="1"/>
<text x="499.5" y="648.9" font-size="9.2" text-anchor="middle" transform="rotate(-90 499.5 648.9)" fill="#000">-0.5</text>
<line x1="507.2" y1="699.6" x2="513.2" y2="699.6" stroke="#111" stroke-width="1"/>
<text x="499.5" y="699.6" font-size="9.2" text-anchor="middle" transform="rotate(-90 499.5 699.6)" fill="#000">-1.0</text>
<line x1="507.2" y1="750.3" x2="513.2" y2="750.3" stroke="#111" stroke-width="1"/>
<text x="499.5" y="750.3" font-size="9.2" text-anchor="middle" transform="rotate(-90 499.5 750.3)" fill="#000">-1.5</text>
<text x="610.85" y="584.8" font-size="8.7" font-weight="bold" text-anchor="middle" fill="#000">Color - Log(Period)</text>
<text x="610.85" y="798" font-size="9.2" text-anchor="middle" fill="#000">g-i</text>
<text x="488.9" y="678.7" font-size="9.2" text-anchor="middle" transform="rotate(-90 488.9 678.7)" fill="#000">Log10(Period)</text>
<rect x="753.2" y="591" width="195.3" height="175.4" fill="none" stroke="#3a3a3a" stroke-width="1"/>
<line x1="760.4" y1="766.4" x2="941.3" y2="766.4" stroke="#111" stroke-width="1"/>
<line x1="760.4" y1="766.4" x2="760.4" y2="772.4" stroke="#111" stroke-width="1"/>
<text x="760.4" y="786.7" font-size="9.2" text-anchor="middle" fill="#000">0.0</text>
<line x1="796.58" y1="766.4" x2="796.58" y2="772.4" stroke="#111" stroke-width="1"/>
<text x="796.58" y="786.7" font-size="9.2" text-anchor="middle" fill="#000">0.2</text>
<line x1="832.76" y1="766.4" x2="832.76" y2="772.4" stroke="#111" stroke-width="1"/>
<text x="832.76" y="786.7" font-size="9.2" text-anchor="middle" fill="#000">0.4</text>
<line x1="868.94" y1="766.4" x2="868.94" y2="772.4" stroke="#111" stroke-width="1"/>
<text x="868.94" y="786.7" font-size="9.2" text-anchor="middle" fill="#000">0.6</text>
<line x1="905.12" y1="766.4" x2="905.12" y2="772.4" stroke="#111" stroke-width="1"/>
<text x="905.12" y="786.7" font-size="9.2" text-anchor="middle" fill="#000">0.8</text>
<line x1="941.3" y1="766.4" x2="941.3" y2="772.4" stroke="#111" stroke-width="1"/>
<text x="941.3" y="786.7" font-size="9.2" text-anchor="middle" fill="#000">1.0</text>
<line x1="753.2" y1="760.3" x2="753.2" y2="598.2" stroke="#111" stroke-width="1"/>
<line x1="747.2" y1="760.3" x2="753.2" y2="760.3" stroke="#111" stroke-width="1"/>
<text x="739.5" y="760.3" font-size="9.2" text-anchor="middle" transform="rotate(-90 739.5 760.3)" fill="#000">0.0</text>
<line x1="747.2" y1="706.27" x2="753.2" y2="706.27" stroke="#111" stroke-width="1"/>
<text x="739.5" y="706.27" font-size="9.2" text-anchor="middle" transform="rotate(-90 739.5 706.27)" fill="#000">0.5</text>
<line x1="747.2" y1="652.23" x2="753.2" y2="652.23" stroke="#111" stroke-width="1"/>
<text x="739.5" y="652.23" font-size="9.2" text-anchor="middle" transform="rotate(-90 739.5 652.23)" fill="#000">1.0</text>
<line x1="747.2" y1="598.2" x2="753.2" y2="598.2" stroke="#111" stroke-width="1"/>
<text x="739.5" y="598.2" font-size="9.2" text-anchor="middle" transform="rotate(-90 739.5 598.2)" fill="#000">1.5</text>
<text x="850.85" y="584.8" font-size="8.7" font-weight="bold" text-anchor="middle" fill="#000">Period - Amplitude</text>
<text x="850.85" y="798" font-size="9.2" text-anchor="middle" fill="#000">Period [days]</text>
<text x="728.9" y="678.7" font-size="9.2" text-anchor="middle" transform="rotate(-90 728.9 678.7)" fill="#000">Amplitude [mag]</text>
<rect x="982.6" y="591" width="205.9" height="175.4" fill="none" stroke="#3a3a3a" stroke-width="1"/>
<line x1="1005.6" y1="766.4" x2="1183.6" y2="766.4" stroke="#111" stroke-width="1"/>
<line x1="1005.6" y1="766.4" x2="1005.6" y2="772.4" stroke="#111" stroke-width="1"/>
<text x="1005.6" y="786.7" font-size="9.2" text-anchor="middle" fill="#000">4000</text>
<line x1="1041.2" y1="766.4" x2="1041.2" y2="772.4" stroke="#111" stroke-width="1"/>
<text x="1041.2" y="786.7" font-size="9.2" text-anchor="middle" fill="#000">5000</text>
<line x1="1076.8" y1="766.4" x2="1076.8" y2="772.4" stroke="#111" stroke-width="1"/>
<text x="1076.8" y="786.7" font-size="9.2" text-anchor="middle" fill="#000">6000</text>
<line x1="1112.4" y1="766.4" x2="1112.4" y2="772.4" stroke="#111" stroke-width="1"/>
<text x="1112.4" y="786.7" font-size="9.2" text-anchor="middle" fill="#000">7000</text>
<line x1="1148" y1="766.4" x2="1148" y2="772.4" stroke="#111" stroke-width="1"/>
<text x="1148" y="786.7" font-size="9.2" text-anchor="middle" fill="#000">8000</text>
<line x1="1183.6" y1="766.4" x2="1183.6" y2="772.4" stroke="#111" stroke-width="1"/>
<text x="1183.6" y="786.7" font-size="9.2" text-anchor="middle" fill="#000">9000</text>
<line x1="982.6" y1="760" x2="982.6" y2="598.2" stroke="#111" stroke-width="1"/>
<line x1="976.6" y1="760" x2="982.6" y2="760" stroke="#111" stroke-width="1"/>
<text x="968.9" y="760" font-size="9.2" text-anchor="middle" transform="rotate(-90 968.9 760)" fill="#000">0.0</text>
<line x1="976.6" y1="727.64" x2="982.6" y2="727.64" stroke="#111" stroke-width="1"/>
<text x="968.9" y="727.64" font-size="9.2" text-anchor="middle" transform="rotate(-90 968.9 727.64)" fill="#000">0.2</text>
<line x1="976.6" y1="695.28" x2="982.6" y2="695.28" stroke="#111" stroke-width="1"/>
<text x="968.9" y="695.28" font-size="9.2" text-anchor="middle" transform="rotate(-90 968.9 695.28)" fill="#000">0.4</text>
<line x1="976.6" y1="662.92" x2="982.6" y2="662.92" stroke="#111" stroke-width="1"/>
<text x="968.9" y="662.92" font-size="9.2" text-anchor="middle" transform="rotate(-90 968.9 662.92)" fill="#000">0.6</text>
<line x1="976.6" y1="630.56" x2="982.6" y2="630.56" stroke="#111" stroke-width="1"/>
<text x="968.9" y="630.56" font-size="9.2" text-anchor="middle" transform="rotate(-90 968.9 630.56)" fill="#000">0.8</text>
<line x1="976.6" y1="598.2" x2="982.6" y2="598.2" stroke="#111" stroke-width="1"/>
<text x="968.9" y="598.2" font-size="9.2" text-anchor="middle" transform="rotate(-90 968.9 598.2)" fill="#000">1.0</text>
<text x="1085.55" y="584.8" font-size="8.7" font-weight="bold" text-anchor="middle" fill="#000">PC1 coefficients</text>
<text x="1085.55" y="798" font-size="9.2" text-anchor="middle" fill="#000">Wavelength</text>
<text x="958.3" y="678.7" font-size="9.2" text-anchor="middle" transform="rotate(-90 958.3 678.7)" fill="#000"></text>
<text x="542.4" y="12" font-size="10.9" font-weight="bold">5950953</text>
<text x="597.6" y="12" font-size="10.9" font-weight="bold">Class: RRC</text>
<clipPath id="c407"><rect x="502.4" y="33.5" width="326.5" height="133.8"/></clipPath><g clip-path="url(#c407)">
<line x1="514" y1="149.5" x2="514" y2="155.5" stroke="#f58a1f" stroke-width="1" stroke-opacity="0.8"/>
<circle cx="514" cy="152.5" r="1.5" fill="#f58a1f"/>
<line x1="715.5" y1="149.5" x2="715.5" y2="155.5" stroke="#f58a1f" stroke-width="1" stroke-opacity="0.8"/>
<circle cx="715.5" cy="152.5" r="1.5" fill="#f58a1f"/>
<line x1="530.3" y1="131.5" x2="530.3" y2="137.5" stroke="#b0155a" stroke-width="1" stroke-opacity="0.8"/>
<circle cx="530.3" cy="134.5" r="1.5" fill="#b0155a"/>
<line x1="731.8" y1="131.5" x2="731.8" y2="137.5" stroke="#b0155a" stroke-width="1" stroke-opacity="0.8"/>
<circle cx="731.8" cy="134.5" r="1.5" fill="#b0155a"/>
<line x1="528.4" y1="138.7" x2="528.4" y2="144.7" stroke="#f58a1f" stroke-width="1" stroke-opacity="0.8"/>
<circle cx="528.4" cy="141.7" r="1.5" fill="#f58a1f"/>
<line x1="729.9" y1="138.7" x2="729.9" y2="144.7" stroke="#f58a1f" stroke-width="1" stroke-opacity="0.8"/>
<circle cx="729.9" cy="141.7" r="1.5" fill="#f58a1f"/>
<line x1="544.1" y1="123.3" x2="544.1" y2="129.3" stroke="#30a8f8" stroke-width="1" stroke-opacity="0.8"/>
<circle cx="544.1" cy="126.3" r="1.5" fill="#30a8f8"/>
<line x1="745.6" y1="123.3" x2="745.6" y2="129.3" stroke="#30a8f8" stroke-width="1" stroke-opacity="0.8"/>
<circle cx="745.6" cy="126.3" r="1.5" fill="#30a8f8"/>
<line x1="547.6" y1="100.5" x2="547.6" y2="106.5" stroke="#30a8f8" stroke-width="1" stroke-opacity="0.8"/>
<circle cx="547.6" cy="103.5" r="1.5" fill="#30a8f8"/>
<line x1="749.1" y1="100.5" x2="749.1" y2="106.5" stroke="#30a8f8" stroke-width="1" stroke-opacity="0.8"/>
<circle cx="749.1" cy="103.5" r="1.5" fill="#30a8f8"/>
<line x1="551.3" y1="110.1" x2="551.3" y2="116.1" stroke="#f58a1f" stroke-width="1" stroke-opacity="0.8"/>
<circle cx="551.3" cy="113.1" r="1.5" fill="#f58a1f"/>
<line x1="752.8" y1="110.1" x2="752.8" y2="116.1" stroke="#f58a1f" stroke-width="1" stroke-opacity="0.8"/>
<circle cx="752.8" cy="113.1" r="1.5" fill="#f58a1f"/>
<line x1="554.3" y1="106.1" x2="554.3" y2="112.1" stroke="#30a8f8" stroke-width="1" stroke-opacity="0.8"/>
<circle cx="554.3" cy="109.1" r="1.5" fill="#30a8f8"/>
<line x1="755.8" y1="106.1" x2="755.8" y2="112.1" stroke="#30a8f8" stroke-width="1" stroke-opacity="0.8"/>
<circle cx="755.8" cy="109.1" r="1.5" fill="#30a8f8"/>
<line x1="555.7" y1="103.3" x2="555.7" y2="109.3" stroke="#b0155a" stroke-width="1" stroke-opacity="0.8"/>
<circle cx="555.7" cy="106.3" r="1.5" fill="#b0155a"/>
<line x1="757.2" y1="103.3" x2="757.2" y2="109.3" stroke="#b0155a" stroke-width="1" stroke-opacity="0.8"/>
<circle cx="757.2" cy="106.3" r="1.5" fill="#b0155a"/>
<line x1="561.8" y1="102.6" x2="561.8" y2="108.6" stroke="#b0155a" stroke-width="1" stroke-opacity="0.8"/>
<circle cx="561.8" cy="105.6" r="1.5" fill="#b0155a"/>
<line x1="763.3" y1="102.6" x2="763.3" y2="108.6" stroke="#b0155a" stroke-width="1" stroke-opacity="0.8"/>
<circle cx="763.3" cy="105.6" r="1.5" fill="#b0155a"/>
<line x1="565.6" y1="104.9" x2="565.6" y2="110.9" stroke="#f58a1f" stroke-width="1" stroke-opacity="0.8"/>
<circle cx="565.6" cy="107.9" r="1.5" fill="#f58a1f"/>
<line x1="767.1" y1="104.9" x2="767.1" y2="110.9" stroke="#f58a1f" stroke-width="1" stroke-opacity="0.8"/>
<circle cx="767.1" cy="107.9" r="1.5" fill="#f58a1f"/>
<line x1="563.4" y1="88.8" x2="563.4" y2="94.8" stroke="#f58a1f" stroke-width="1" stroke-opacity="0.8"/>
<circle cx="563.4" cy="91.8" r="1.5" fill="#f58a1f"/>
<line x1="764.9" y1="88.8" x2="764.9" y2="94.8" stroke="#f58a1f" stroke-width="1" stroke-opacity="0.8"/>
<circle cx="764.9" cy="91.8" r="1.5" fill="#f58a1f"/>
<line x1="564.4" y1="92.1" x2="564.4" y2="98.1" stroke="#f58a1f" stroke-width="1" stroke-opacity="0.8"/>
<circle cx="564.4" cy="95.1" r="1.5" fill="#f58a1f"/>
<line x1="765.9" y1="92.1" x2="765.9" y2="98.1" stroke="#f58a1f" stroke-width="1" stroke-opacity="0.8"/>
<circle cx="765.9" cy="95.1" r="1.5" fill="#f58a1f"/>
<line x1="568.3" y1="79.2" x2="568.3" y2="85.2" stroke="#b0155a" stroke-width="1" stroke-opacity="0.8"/>
<circle cx="568.3" cy="82.2" r="1.5" fill="#b0155a"/>
<line x1="769.8" y1="79.2" x2="769.8" y2="85.2" stroke="#b0155a" stroke-width="1" stroke-opacity="0.8"/>
<circle cx="769.8" cy="82.2" r="1.5" fill="#b0155a"/>
<line x1="572.3" y1="78.8" x2="572.3" y2="84.8" stroke="#30a8f8" stroke-width="1" stroke-opacity="0.8"/>
<circle cx="572.3" cy="81.8" r="1.5" fill="#30a8f8"/>
<line x1="773.8" y1="78.8" x2="773.8" y2="84.8" stroke="#30a8f8" stroke-width="1" stroke-opacity="0.8"/>
<circle cx="773.8" cy="81.8" r="1.5" fill="#30a8f8"/>
<line x1="577.4" y1="66.2" x2="577.4" y2="72.2" stroke="#b0155a" stroke-width="1" stroke-opacity="0.8"/>
<circle cx="577.4" cy="69.2" r="1.5" fill="#b0155a"/>
<line x1="778.9" y1="66.2" x2="778.9" y2="72.2" stroke="#b0155a" stroke-width="1" stroke-opacity="0.8"/>
<circle cx="778.9" cy="69.2" r="1.5" fill="#b0155a"/>
<line x1="578.4" y1="68" x2="578.4" y2="74" stroke="#b0155a" stroke-width="1" stroke-opacity="0.8"/>
<circle cx="578.4" cy="71" r="1.5" fill="#b0155a"/>
<line x1="779.9" y1="68" x2="779.9" y2="74" stroke="#b0155a" stroke-width="1" stroke-opacity="0.8"/>
<circle cx="779.9" cy="71" r="1.5" fill="#b0155a"/>
<line x1="595.9" y1="51" x2="595.9" y2="57" stroke="#f58a1f" stroke-width="1" stroke-opacity="0.8"/>
<circle cx="595.9" cy="54" r="1.5" fill="#f58a1f"/>
<line x1="797.4" y1="51" x2="797.4" y2="57" stroke="#f58a1f" stroke-width="1" stroke-opacity="0.8"/>
<circle cx="797.4" cy="54" r="1.5" fill="#f58a1f"/>
<line x1="603.6" y1="48" x2="603.6" y2="54" stroke="#b0155a" stroke-width="1" stroke-opacity="0.8"/>
<circle cx="603.6" cy="51" r="1.5" fill="#b0155a"/>
<line x1="805.1" y1="48" x2="805.1" y2="54" stroke="#b0155a" stroke-width="1" stroke-opacity="0.8"/>
<circle cx="805.1" cy="51" r="1.5" fill="#b0155a"/>
<line x1="604.7" y1="40.7" x2="604.7" y2="46.7" stroke="#f58a1f" stroke-width="1" stroke-opacity="0.8"/>
<circle cx="604.7" cy="43.7" r="1.5" fill="#f58a1f"/>
<line x1="806.2" y1="40.7" x2="806.2" y2="46.7" stroke="#f58a1f" stroke-width="1" stroke-opacity="0.8"/>
<circle cx="806.2" cy="43.7" r="1.5" fill="#f58a1f"/>
<line x1="612.9" y1="37.5" x2="612.9" y2="43.5" stroke="#b0155a" stroke-width="1" stroke-opacity="0.8"/>
<circle cx="612.9" cy="40.5" r="1.5" fill="#b0155a"/>
<line x1="814.4" y1="37.5" x2="814.4" y2="43.5" stroke="#b0155a" stroke-width="1" stroke-opacity="0.8"/>
<circle cx="814.4" cy="40.5" r="1.5" fill="#b0155a"/>
<line x1="630.6" y1="40.1" x2="630.6" y2="46.1" stroke="#30a8f8" stroke-width="1" stroke-opacity="0.8"/>
<circle cx="630.6" cy="43.1" r="1.5" fill="#30a8f8"/>
<line x1="636.8" y1="38.9" x2="636.8" y2="44.9" stroke="#b0155a" stroke-width="1" stroke-opacity="0.8"/>
<circle cx="636.8" cy="41.9" r="1.5" fill="#b0155a"/>
<line x1="643.8" y1="45.4" x2="643.8" y2="51.4" stroke="#f58a1f" stroke-width="1" stroke-opacity="0.8"/>
<circle cx="643.8" cy="48.4" r="1.5" fill="#f58a1f"/>
<line x1="677" y1="142.5" x2="677" y2="148.5" stroke="#f58a1f" stroke-width="1" stroke-opacity="0.8"/>
<circle cx="677" cy="145.5" r="1.5" fill="#f58a1f"/>
<line x1="676.5" y1="140.4" x2="676.5" y2="146.4" stroke="#b0155a" stroke-width="1" stroke-opacity="0.8"/>
<circle cx="676.5" cy="143.4" r="1.5" fill="#b0155a"/>
<line x1="687.5" y1="151.6" x2="687.5" y2="157.6" stroke="#f58a1f" stroke-width="1" stroke-opacity="0.8"/>
<circle cx="687.5" cy="154.6" r="1.5" fill="#f58a1f"/>
<line x1="708.2" y1="157.4" x2="708.2" y2="163.4" stroke="#b0155a" stroke-width="1" stroke-opacity="0.8"/>
<circle cx="708.2" cy="160.4" r="1.5" fill="#b0155a"/>
<path d="M502.4 160.74 L503.4 160.44 L504.4 160.08 L505.4 159.65 L506.4 159.17 L507.4 158.64 L508.4 158.05 L509.4 157.42 L510.4 156.73 L511.4 156.01 L512.4 155.24 L513.4 154.43 L514.4 153.59 L515.4 152.71 L516.4 151.81 L517.4 150.88 L518.4 149.92 L519.4 148.94 L520.4 147.94 L521.4 146.93 L522.4 145.9 L523.4 144.86 L524.4 143.81 L525.4 142.75 L526.4 141.68 L527.4 140.61 L528.4 139.52 L529.4 138.44 L530.4 137.35 L531.4 136.26 L532.4 135.16 L533.4 134.06 L534.4 132.96 L535.4 131.86 L536.4 130.75 L537.4 129.64 L538.4 128.52 L539.4 127.4 L540.4 126.27 L541.4 125.14 L542.4 123.99 L543.4 122.84 L544.4 121.68 L545.4 120.5 L546.4 119.3 L547.4 118.09 L548.4 116.86 L549.4 115.6 L550.4 114.32 L551.4 113.01 L552.4 111.68 L553.4 110.31 L554.4 108.91 L555.4 107.47 L556.4 106 L557.4 104.49 L558.4 102.94 L559.4 101.35 L560.4 99.73 L561.4 98.08 L562.4 96.39 L563.4 94.67 L564.4 92.93 L565.4 91.16 L566.4 89.39 L567.4 87.6 L568.4 85.81 L569.4 84.03 L570.4 82.25 L571.4 80.5 L572.4 78.77 L573.4 77.08 L574.4 75.42 L575.4 73.82 L576.4 72.27 L577.4 70.77 L578.4 69.34 L579.4 67.98 L580.4 66.68 L581.4 65.45 L582.4 64.29 L583.4 63.19 L584.4 62.16 L585.4 61.19 L586.4 60.27 L587.4 59.4 L588.4 58.58 L589.4 57.79 L590.4 57.03 L591.4 56.3 L592.4 55.58 L593.4 54.87 L594.4 54.17 L595.4 53.47 L596.4 52.76 L597.4 52.05 L598.4 51.32 L599.4 50.59 L600.4 49.85 L601.4 49.1 L602.4 48.35 L603.4 47.59 L604.4 46.84 L605.4 46.1 L606.4 45.36 L607.4 44.65 L608.4 43.96 L609.4 43.3 L610.4 42.67 L611.4 42.09 L612.4 41.55 L613.4 41.05 L614.4 40.61 L615.4 40.22 L616.4 39.87 L617.4 39.59 L618.4 39.35 L619.4 39.16 L620.4 39.03 L621.4 38.93 L622.4 38.89 L623.4 38.88 L624.4 38.91 L625.4 38.98 L626.4 39.09 L627.4 39.23 L628.4 39.42 L629.4 39.64 L630.4 39.9 L631.4 40.21 L632.4 40.57 L633.4 40.99 L634.4 41.48 L635.4 42.04 L636.4 42.68 L637.4 43.42 L638.4 44.26 L639.4 45.21 L640.4 46.29 L641.4 47.49 L642.4 48.83 L643.4 50.32 L644.4 51.96 L645.4 53.75 L646.4 55.7 L647.4 57.81 L648.4 60.06 L649.4 62.48 L650.4 65.03 L651.4 67.72 L652.4 70.55 L653.4 73.49 L654.4 76.53 L655.4 79.66 L656.4 82.87 L657.4 86.14 L658.4 89.45 L659.4 92.79 L660.4 96.14 L661.4 99.49 L662.4 102.81 L663.4 106.09 L664.4 109.33 L665.4 112.5 L666.4 115.6 L667.4 118.62 L668.4 121.54 L669.4 124.35 L670.4 127.07 L671.4 129.67 L672.4 132.15 L673.4 134.52 L674.4 136.77 L675.4 138.9 L676.4 140.92 L677.4 142.82 L678.4 144.61 L679.4 146.29 L680.4 147.86 L681.4 149.33 L682.4 150.7 L683.4 151.98 L684.4 153.16 L685.4 154.25 L686.4 155.26 L687.4 156.18 L688.4 157.02 L689.4 157.78 L690.4 158.46 L691.4 159.07 L692.4 159.6 L693.4 160.06 L694.4 160.45 L695.4 160.76 L696.4 161 L697.4 161.18 L698.4 161.28 L699.4 161.32 L700.4 161.29 L701.4 161.19 L702.4 161.02 L703.4 160.8 L704.4 160.5 L705.4 160.15 L706.4 159.74 L707.4 159.27 L708.4 158.75 L709.4 158.17 L710.4 157.55 L711.4 156.87 L712.4 156.16 L713.4 155.39 L714.4 154.59 L715.4 153.76 L716.4 152.89 L717.4 151.99 L718.4 151.06 L719.4 150.11 L720.4 149.14 L721.4 148.15 L722.4 147.13 L723.4 146.11 L724.4 145.07 L725.4 144.02 L726.4 142.96 L727.4 141.89 L728.4 140.82 L729.4 139.74 L730.4 138.66 L731.4 137.57 L732.4 136.48 L733.4 135.38 L734.4 134.28 L735.4 133.18 L736.4 132.08 L737.4 130.97 L738.4 129.86 L739.4 128.75 L740.4 127.63 L741.4 126.5 L742.4 125.37 L743.4 124.22 L744.4 123.07 L745.4 121.91 L746.4 120.73 L747.4 119.54 L748.4 118.33 L749.4 117.1 L750.4 115.85 L751.4 114.58 L752.4 113.28 L753.4 111.95 L754.4 110.58 L755.4 109.19 L756.4 107.76 L757.4 106.29 L758.4 104.79 L759.4 103.25 L760.4 101.67 L761.4 100.06 L762.4 98.41 L763.4 96.73 L764.4 95.02 L765.4 93.28 L766.4 91.52 L767.4 89.74 L768.4 87.96 L769.4 86.17 L770.4 84.38 L771.4 82.61 L772.4 80.85 L773.4 79.11 L774.4 77.41 L775.4 75.75 L776.4 74.14 L777.4 72.57 L778.4 71.07 L779.4 69.62 L780.4 68.25 L781.4 66.93 L782.4 65.69 L783.4 64.52 L784.4 63.41 L785.4 62.36 L786.4 61.38 L787.4 60.45 L788.4 59.57 L789.4 58.74 L790.4 57.94 L791.4 57.18 L792.4 56.44 L793.4 55.72 L794.4 55.01 L795.4 54.31 L796.4 53.61 L797.4 52.9 L798.4 52.19 L799.4 51.47 L800.4 50.74 L801.4 50 L802.4 49.25 L803.4 48.5 L804.4 47.74 L805.4 46.99 L806.4 46.24 L807.4 45.51 L808.4 44.79 L809.4 44.09 L810.4 43.43 L811.4 42.8 L812.4 42.2 L813.4 41.65 L814.4 41.15 L815.4 40.69 L816.4 40.29 L817.4 39.94 L818.4 39.64 L819.4 39.39 L820.4 39.2 L821.4 39.05 L822.4 38.95 L823.4 38.89 L824.4 38.88 L825.4 38.9 L826.4 38.97 L827.4 39.07 L828.4 39.2" fill="none" stroke="#000" stroke-width="1.1" stroke-linejoin="round"/>
</g>
<clipPath id="c504"><rect x="502.4" y="222.7" width="326.5" height="128.8"/></clipPath><g clip-path="url(#c504)">
<line x1="514" y1="237.6" x2="514" y2="239.6" stroke="#f58a1f" stroke-width="1" stroke-opacity="0.8"/>
<circle cx="514" cy="238.6" r="1.5" fill="#f58a1f"/>
<line x1="715.5" y1="237.6" x2="715.5" y2="239.6" stroke="#f58a1f" stroke-width="1" stroke-opacity="0.8"/>
<circle cx="715.5" cy="238.6" r="1.5" fill="#f58a1f"/>
<line x1="528.7" y1="244.7" x2="528.7" y2="246.7" stroke="#f58a1f" stroke-width="1" stroke-opacity="0.8"/>
<circle cx="528.7" cy="245.7" r="1.5" fill="#f58a1f"/>
<line x1="730.2" y1="244.7" x2="730.2" y2="246.7" stroke="#f58a1f" stroke-width="1" stroke-opacity="0.8"/>
<circle cx="730.2" cy="245.7" r="1.5" fill="#f58a1f"/>
<line x1="530.4" y1="249.5" x2="530.4" y2="252.9" stroke="#b0155a" stroke-width="1" stroke-opacity="0.8"/>
<circle cx="530.4" cy="251.2" r="1.5" fill="#b0155a"/>
<line x1="731.9" y1="249.5" x2="731.9" y2="252.9" stroke="#b0155a" stroke-width="1" stroke-opacity="0.8"/>
<circle cx="731.9" cy="251.2" r="1.5" fill="#b0155a"/>
<line x1="532.9" y1="250.6" x2="532.9" y2="252.6" stroke="#b0155a" stroke-width="1" stroke-opacity="0.8"/>
<circle cx="532.9" cy="251.6" r="1.5" fill="#b0155a"/>
<line x1="734.4" y1="250.6" x2="734.4" y2="252.6" stroke="#b0155a" stroke-width="1" stroke-opacity="0.8"/>
<circle cx="734.4" cy="251.6" r="1.5" fill="#b0155a"/>
<line x1="544.2" y1="261.8" x2="544.2" y2="264.2" stroke="#30a8f8" stroke-width="1" stroke-opacity="0.8"/>
<circle cx="544.2" cy="263" r="1.5" fill="#30a8f8"/>
<line x1="745.7" y1="261.8" x2="745.7" y2="264.2" stroke="#30a8f8" stroke-width="1" stroke-opacity="0.8"/>
<circle cx="745.7" cy="263" r="1.5" fill="#30a8f8"/>
<line x1="547.8" y1="280.4" x2="547.8" y2="292.2" stroke="#30a8f8" stroke-width="1" stroke-opacity="0.8"/>
<circle cx="547.8" cy="286.3" r="1.5" fill="#30a8f8"/>
<line x1="749.3" y1="280.4" x2="749.3" y2="292.2" stroke="#30a8f8" stroke-width="1" stroke-opacity="0.8"/>
<circle cx="749.3" cy="286.3" r="1.5" fill="#30a8f8"/>
<line x1="551" y1="274.7" x2="551" y2="276.7" stroke="#f58a1f" stroke-width="1" stroke-opacity="0.8"/>
<circle cx="551" cy="275.7" r="1.5" fill="#f58a1f"/>
<line x1="752.5" y1="274.7" x2="752.5" y2="276.7" stroke="#f58a1f" stroke-width="1" stroke-opacity="0.8"/>
<circle cx="752.5" cy="275.7" r="1.5" fill="#f58a1f"/>
<line x1="554.3" y1="265.4" x2="554.3" y2="285.4" stroke="#30a8f8" stroke-width="1" stroke-opacity="0.8"/>
<circle cx="554.3" cy="275.4" r="1.5" fill="#30a8f8"/>
<line x1="755.8" y1="265.4" x2="755.8" y2="285.4" stroke="#30a8f8" stroke-width="1" stroke-opacity="0.8"/>
<circle cx="755.8" cy="275.4" r="1.5" fill="#30a8f8"/>
<line x1="555.7" y1="277.4" x2="555.7" y2="285.8" stroke="#b0155a" stroke-width="1" stroke-opacity="0.8"/>
<circle cx="555.7" cy="281.6" r="1.5" fill="#b0155a"/>
<line x1="757.2" y1="277.4" x2="757.2" y2="285.8" stroke="#b0155a" stroke-width="1" stroke-opacity="0.8"/>
<circle cx="757.2" cy="281.6" r="1.5" fill="#b0155a"/>
<line x1="558.6" y1="277.9" x2="558.6" y2="282.9" stroke="#b0155a" stroke-width="1" stroke-opacity="0.8"/>
<circle cx="558.6" cy="280.4" r="1.5" fill="#b0155a"/>
<line x1="760.1" y1="277.9" x2="760.1" y2="282.9" stroke="#b0155a" stroke-width="1" stroke-opacity="0.8"/>
<circle cx="760.1" cy="280.4" r="1.5" fill="#b0155a"/>
<line x1="562.1" y1="279.6" x2="562.1" y2="284.6" stroke="#b0155a" stroke-width="1" stroke-opacity="0.8"/>
<circle cx="562.1" cy="282.1" r="1.5" fill="#b0155a"/>
<line x1="763.6" y1="279.6" x2="763.6" y2="284.6" stroke="#b0155a" stroke-width="1" stroke-opacity="0.8"/>
<circle cx="763.6" cy="282.1" r="1.5" fill="#b0155a"/>
<line x1="565.5" y1="267.3" x2="565.5" y2="270.7" stroke="#f58a1f" stroke-width="1" stroke-opacity="0.8"/>
<circle cx="565.5" cy="269" r="1.5" fill="#f58a1f"/>
<line x1="767" y1="267.3" x2="767" y2="270.7" stroke="#f58a1f" stroke-width="1" stroke-opacity="0.8"/>
<circle cx="767" cy="269" r="1.5" fill="#f58a1f"/>
<line x1="563.3" y1="293.3" x2="563.3" y2="295.3" stroke="#f58a1f" stroke-width="1" stroke-opacity="0.8"/>
<circle cx="563.3" cy="294.3" r="1.5" fill="#f58a1f"/>
<line x1="764.8" y1="293.3" x2="764.8" y2="295.3" stroke="#f58a1f" stroke-width="1" stroke-opacity="0.8"/>
<circle cx="764.8" cy="294.3" r="1.5" fill="#f58a1f"/>
<line x1="564.1" y1="290.7" x2="564.1" y2="292.7" stroke="#f58a1f" stroke-width="1" stroke-opacity="0.8"/>
<circle cx="564.1" cy="291.7" r="1.5" fill="#f58a1f"/>
<line x1="765.6" y1="290.7" x2="765.6" y2="292.7" stroke="#f58a1f" stroke-width="1" stroke-opacity="0.8"/>
<circle cx="765.6" cy="291.7" r="1.5" fill="#f58a1f"/>
<line x1="564.5" y1="297" x2="564.5" y2="299" stroke="#b0155a" stroke-width="1" stroke-opacity="0.8"/>
<circle cx="564.5" cy="298" r="1.5" fill="#b0155a"/>
<line x1="766" y1="297" x2="766" y2="299" stroke="#b0155a" stroke-width="1" stroke-opacity="0.8"/>
<circle cx="766" cy="298" r="1.5" fill="#b0155a"/>
<line x1="568" y1="296" x2="568" y2="304.4" stroke="#b0155a" stroke-width="1" stroke-opacity="0.8"/>
<circle cx="568" cy="300.2" r="1.5" fill="#b0155a"/>
<line x1="769.5" y1="296" x2="769.5" y2="304.4" stroke="#b0155a" stroke-width="1" stroke-opacity="0.8"/>
<circle cx="769.5" cy="300.2" r="1.5" fill="#b0155a"/>
<line x1="572.6" y1="290" x2="572.6" y2="315.4" stroke="#30a8f8" stroke-width="1" stroke-opacity="0.8"/>
<circle cx="572.6" cy="302.7" r="1.5" fill="#30a8f8"/>
<line x1="774.1" y1="290" x2="774.1" y2="315.4" stroke="#30a8f8" stroke-width="1" stroke-opacity="0.8"/>
<circle cx="774.1" cy="302.7" r="1.5" fill="#30a8f8"/>
<line x1="577.3" y1="308.3" x2="577.3" y2="318.3" stroke="#b0155a" stroke-width="1" stroke-opacity="0.8"/>
<circle cx="577.3" cy="313.3" r="1.5" fill="#b0155a"/>
<line x1="778.8" y1="308.3" x2="778.8" y2="318.3" stroke="#b0155a" stroke-width="1" stroke-opacity="0.8"/>
<circle cx="778.8" cy="313.3" r="1.5" fill="#b0155a"/>
<line x1="586.1" y1="328" x2="586.1" y2="331.4" stroke="#b0155a" stroke-width="1" stroke-opacity="0.8"/>
<circle cx="586.1" cy="329.7" r="1.5" fill="#b0155a"/>
<line x1="787.6" y1="328" x2="787.6" y2="331.4" stroke="#b0155a" stroke-width="1" stroke-opacity="0.8"/>
<circle cx="787.6" cy="329.7" r="1.5" fill="#b0155a"/>
<line x1="595.9" y1="333.4" x2="595.9" y2="335.4" stroke="#f58a1f" stroke-width="1" stroke-opacity="0.8"/>
<circle cx="595.9" cy="334.4" r="1.5" fill="#f58a1f"/>
<line x1="797.4" y1="333.4" x2="797.4" y2="335.4" stroke="#f58a1f" stroke-width="1" stroke-opacity="0.8"/>
<circle cx="797.4" cy="334.4" r="1.5" fill="#f58a1f"/>
<line x1="603.3" y1="325.9" x2="603.3" y2="337.9" stroke="#b0155a" stroke-width="1" stroke-opacity="0.8"/>
<circle cx="603.3" cy="331.9" r="1.5" fill="#b0155a"/>
<line x1="804.8" y1="325.9" x2="804.8" y2="337.9" stroke="#b0155a" stroke-width="1" stroke-opacity="0.8"/>
<circle cx="804.8" cy="331.9" r="1.5" fill="#b0155a"/>
<line x1="604.6" y1="340.5" x2="604.6" y2="342.5" stroke="#f58a1f" stroke-width="1" stroke-opacity="0.8"/>
<circle cx="604.6" cy="341.5" r="1.5" fill="#f58a1f"/>
<line x1="806.1" y1="340.5" x2="806.1" y2="342.5" stroke="#f58a1f" stroke-width="1" stroke-opacity="0.8"/>
<circle cx="806.1" cy="341.5" r="1.5" fill="#f58a1f"/>
<line x1="609.4" y1="341.2" x2="609.4" y2="346.2" stroke="#30a8f8" stroke-width="1" stroke-opacity="0.8"/>
<circle cx="609.4" cy="343.7" r="1.5" fill="#30a8f8"/>
<line x1="810.9" y1="341.2" x2="810.9" y2="346.2" stroke="#30a8f8" stroke-width="1" stroke-opacity="0.8"/>
<circle cx="810.9" cy="343.7" r="1.5" fill="#30a8f8"/>
<line x1="612.7" y1="332.1" x2="612.7" y2="344.1" stroke="#b0155a" stroke-width="1" stroke-opacity="0.8"/>
<circle cx="612.7" cy="338.1" r="1.5" fill="#b0155a"/>
<line x1="814.2" y1="332.1" x2="814.2" y2="344.1" stroke="#b0155a" stroke-width="1" stroke-opacity="0.8"/>
<circle cx="814.2" cy="338.1" r="1.5" fill="#b0155a"/>
<line x1="630.6" y1="336.5" x2="630.6" y2="341.5" stroke="#30a8f8" stroke-width="1" stroke-opacity="0.8"/>
<circle cx="630.6" cy="339" r="1.5" fill="#30a8f8"/>
<line x1="636.7" y1="339.8" x2="636.7" y2="346.6" stroke="#b0155a" stroke-width="1" stroke-opacity="0.8"/>
<circle cx="636.7" cy="343.2" r="1.5" fill="#b0155a"/>
<line x1="643.8" y1="332.9" x2="643.8" y2="334.9" stroke="#f58a1f" stroke-width="1" stroke-opacity="0.8"/>
<circle cx="643.8" cy="333.9" r="1.5" fill="#f58a1f"/>
<line x1="656.9" y1="319.5" x2="656.9" y2="331.5" stroke="#b0155a" stroke-width="1" stroke-opacity="0.8"/>
<circle cx="656.9" cy="325.5" r="1.5" fill="#b0155a"/>
<line x1="669.4" y1="273.1" x2="669.4" y2="286.7" stroke="#b0155a" stroke-width="1" stroke-opacity="0.8"/>
<circle cx="669.4" cy="279.9" r="1.5" fill="#b0155a"/>
<line x1="676.7" y1="236.5" x2="676.7" y2="250.1" stroke="#b0155a" stroke-width="1" stroke-opacity="0.8"/>
<circle cx="676.7" cy="243.3" r="1.5" fill="#b0155a"/>
<line x1="687.3" y1="234.7" x2="687.3" y2="236.7" stroke="#f58a1f" stroke-width="1" stroke-opacity="0.8"/>
<circle cx="687.3" cy="235.7" r="1.5" fill="#f58a1f"/>
<line x1="707.9" y1="227.8" x2="707.9" y2="235.2" stroke="#b0155a" stroke-width="1" stroke-opacity="0.8"/>
<circle cx="707.9" cy="231.5" r="1.5" fill="#b0155a"/>
<path d="M502.4 229.54 L503.4 229.87 L504.4 230.23 L505.4 230.63 L506.4 231.06 L507.4 231.52 L508.4 232.02 L509.4 232.55 L510.4 233.11 L511.4 233.7 L512.4 234.31 L513.4 234.94 L514.4 235.6 L515.4 236.26 L516.4 236.95 L517.4 237.64 L518.4 238.34 L519.4 239.05 L520.4 239.76 L521.4 240.49 L522.4 241.24 L523.4 242 L524.4 242.79 L525.4 243.6 L526.4 244.45 L527.4 245.35 L528.4 246.29 L529.4 247.28 L530.4 248.33 L531.4 249.45 L532.4 250.62 L533.4 251.86 L534.4 253.16 L535.4 254.52 L536.4 255.92 L537.4 257.37 L538.4 258.85 L539.4 260.35 L540.4 261.86 L541.4 263.37 L542.4 264.86 L543.4 266.32 L544.4 267.74 L545.4 269.1 L546.4 270.41 L547.4 271.64 L548.4 272.81 L549.4 273.91 L550.4 274.94 L551.4 275.9 L552.4 276.81 L553.4 277.68 L554.4 278.51 L555.4 279.33 L556.4 280.15 L557.4 280.99 L558.4 281.87 L559.4 282.8 L560.4 283.8 L561.4 284.88 L562.4 286.06 L563.4 287.34 L564.4 288.73 L565.4 290.24 L566.4 291.86 L567.4 293.59 L568.4 295.42 L569.4 297.34 L570.4 299.34 L571.4 301.4 L572.4 303.5 L573.4 305.62 L574.4 307.75 L575.4 309.86 L576.4 311.94 L577.4 313.97 L578.4 315.92 L579.4 317.8 L580.4 319.58 L581.4 321.26 L582.4 322.83 L583.4 324.29 L584.4 325.63 L585.4 326.87 L586.4 328.01 L587.4 329.05 L588.4 329.99 L589.4 330.86 L590.4 331.65 L591.4 332.39 L592.4 333.06 L593.4 333.7 L594.4 334.29 L595.4 334.85 L596.4 335.39 L597.4 335.9 L598.4 336.39 L599.4 336.85 L600.4 337.3 L601.4 337.72 L602.4 338.12 L603.4 338.49 L604.4 338.82 L605.4 339.13 L606.4 339.4 L607.4 339.64 L608.4 339.84 L609.4 340.02 L610.4 340.16 L611.4 340.27 L612.4 340.37 L613.4 340.45 L614.4 340.52 L615.4 340.58 L616.4 340.65 L617.4 340.73 L618.4 340.82 L619.4 340.93 L620.4 341.06 L621.4 341.21 L622.4 341.38 L623.4 341.56 L624.4 341.76 L625.4 341.97 L626.4 342.18 L627.4 342.38 L628.4 342.55 L629.4 342.7 L630.4 342.8 L631.4 342.85 L632.4 342.83 L633.4 342.73 L634.4 342.54 L635.4 342.26 L636.4 341.88 L637.4 341.38 L638.4 340.78 L639.4 340.06 L640.4 339.22 L641.4 338.27 L642.4 337.21 L643.4 336.04 L644.4 334.76 L645.4 333.39 L646.4 331.91 L647.4 330.35 L648.4 328.69 L649.4 326.95 L650.4 325.13 L651.4 323.22 L652.4 321.22 L653.4 319.14 L654.4 316.97 L655.4 314.71 L656.4 312.35 L657.4 309.9 L658.4 307.34 L659.4 304.68 L660.4 301.91 L661.4 299.05 L662.4 296.08 L663.4 293.01 L664.4 289.85 L665.4 286.62 L666.4 283.32 L667.4 279.97 L668.4 276.58 L669.4 273.17 L670.4 269.77 L671.4 266.4 L672.4 263.07 L673.4 259.82 L674.4 256.66 L675.4 253.62 L676.4 250.71 L677.4 247.95 L678.4 245.37 L679.4 242.96 L680.4 240.74 L681.4 238.73 L682.4 236.91 L683.4 235.28 L684.4 233.86 L685.4 232.62 L686.4 231.57 L687.4 230.68 L688.4 229.95 L689.4 229.37 L690.4 228.91 L691.4 228.57 L692.4 228.33 L693.4 228.18 L694.4 228.1 L695.4 228.08 L696.4 228.12 L697.4 228.21 L698.4 228.34 L699.4 228.5 L700.4 228.7 L701.4 228.93 L702.4 229.19 L703.4 229.48 L704.4 229.8 L705.4 230.16 L706.4 230.55 L707.4 230.97 L708.4 231.43 L709.4 231.92 L710.4 232.44 L711.4 232.99 L712.4 233.58 L713.4 234.18 L714.4 234.82 L715.4 235.46 L716.4 236.13 L717.4 236.81 L718.4 237.5 L719.4 238.2 L720.4 238.9 L721.4 239.62 L722.4 240.35 L723.4 241.09 L724.4 241.85 L725.4 242.63 L726.4 243.44 L727.4 244.28 L728.4 245.16 L729.4 246.1 L730.4 247.08 L731.4 248.12 L732.4 249.22 L733.4 250.38 L734.4 251.61 L735.4 252.9 L736.4 254.24 L737.4 255.64 L738.4 257.08 L739.4 258.55 L740.4 260.05 L741.4 261.56 L742.4 263.07 L743.4 264.56 L744.4 266.03 L745.4 267.46 L746.4 268.83 L747.4 270.15 L748.4 271.4 L749.4 272.58 L750.4 273.7 L751.4 274.74 L752.4 275.71 L753.4 276.63 L754.4 277.51 L755.4 278.35 L756.4 279.17 L757.4 279.99 L758.4 280.82 L759.4 281.69 L760.4 282.61 L761.4 283.59 L762.4 284.65 L763.4 285.81 L764.4 287.07 L765.4 288.44 L766.4 289.93 L767.4 291.53 L768.4 293.24 L769.4 295.05 L770.4 296.95 L771.4 298.93 L772.4 300.98 L773.4 303.08 L774.4 305.2 L775.4 307.33 L776.4 309.44 L777.4 311.53 L778.4 313.57 L779.4 315.54 L780.4 317.43 L781.4 319.23 L782.4 320.93 L783.4 322.52 L784.4 324 L785.4 325.37 L786.4 326.63 L787.4 327.79 L788.4 328.85 L789.4 329.81 L790.4 330.69 L791.4 331.5 L792.4 332.24 L793.4 332.93 L794.4 333.57 L795.4 334.17 L796.4 334.74 L797.4 335.28 L798.4 335.8 L799.4 336.29 L800.4 336.76 L801.4 337.21 L802.4 337.64 L803.4 338.04 L804.4 338.41 L805.4 338.76 L806.4 339.07 L807.4 339.35 L808.4 339.59 L809.4 339.81 L810.4 339.98 L811.4 340.13 L812.4 340.25 L813.4 340.35 L814.4 340.43 L815.4 340.51 L816.4 340.57 L817.4 340.64 L818.4 340.71 L819.4 340.8 L820.4 340.91 L821.4 341.03 L822.4 341.18 L823.4 341.34 L824.4 341.53 L825.4 341.72 L826.4 341.93 L827.4 342.14 L828.4 342.34" fill="none" stroke="#000" stroke-width="1.1" stroke-linejoin="round"/>
</g>
<clipPath id="c619"><rect x="502.4" y="407.1" width="326.2" height="129.2"/></clipPath><g clip-path="url(#c619)">
<line x1="514.3" y1="494.9" x2="514.3" y2="501.7" stroke="#f58a1f" stroke-width="1" stroke-opacity="0.8"/>
<circle cx="514.3" cy="498.3" r="1.5" fill="#f58a1f"/>
<line x1="716.2" y1="494.9" x2="716.2" y2="501.7" stroke="#f58a1f" stroke-width="1" stroke-opacity="0.8"/>
<circle cx="716.2" cy="498.3" r="1.5" fill="#f58a1f"/>
<line x1="528.4" y1="498.6" x2="528.4" y2="505.4" stroke="#f58a1f" stroke-width="1" stroke-opacity="0.8"/>
<circle cx="528.4" cy="502" r="1.5" fill="#f58a1f"/>
<line x1="730.3" y1="498.6" x2="730.3" y2="505.4" stroke="#f58a1f" stroke-width="1" stroke-opacity="0.8"/>
<circle cx="730.3" cy="502" r="1.5" fill="#f58a1f"/>
<line x1="530.4" y1="489.1" x2="530.4" y2="516.1" stroke="#b0155a" stroke-width="1" stroke-opacity="0.8"/>
<circle cx="530.4" cy="502.6" r="1.5" fill="#b0155a"/>
<line x1="732.3" y1="489.1" x2="732.3" y2="516.1" stroke="#b0155a" stroke-width="1" stroke-opacity="0.8"/>
<circle cx="732.3" cy="502.6" r="1.5" fill="#b0155a"/>
<line x1="532.6" y1="494.6" x2="532.6" y2="510.6" stroke="#b0155a" stroke-width="1" stroke-opacity="0.8"/>
<circle cx="532.6" cy="502.6" r="1.5" fill="#b0155a"/>
<line x1="734.5" y1="494.6" x2="734.5" y2="510.6" stroke="#b0155a" stroke-width="1" stroke-opacity="0.8"/>
<circle cx="734.5" cy="502.6" r="1.5" fill="#b0155a"/>
<line x1="543.9" y1="471.4" x2="543.9" y2="488.2" stroke="#30a8f8" stroke-width="1" stroke-opacity="0.8"/>
<circle cx="543.9" cy="479.8" r="1.5" fill="#30a8f8"/>
<line x1="745.8" y1="471.4" x2="745.8" y2="488.2" stroke="#30a8f8" stroke-width="1" stroke-opacity="0.8"/>
<circle cx="745.8" cy="479.8" r="1.5" fill="#30a8f8"/>
<line x1="547.8" y1="457" x2="547.8" y2="472.2" stroke="#30a8f8" stroke-width="1" stroke-opacity="0.8"/>
<circle cx="547.8" cy="464.6" r="1.5" fill="#30a8f8"/>
<line x1="749.7" y1="457" x2="749.7" y2="472.2" stroke="#30a8f8" stroke-width="1" stroke-opacity="0.8"/>
<circle cx="749.7" cy="464.6" r="1.5" fill="#30a8f8"/>
<line x1="551.1" y1="476.1" x2="551.1" y2="483.5" stroke="#f58a1f" stroke-width="1" stroke-opacity="0.8"/>
<circle cx="551.1" cy="479.8" r="1.5" fill="#f58a1f"/>
<line x1="753" y1="476.1" x2="753" y2="483.5" stroke="#f58a1f" stroke-width="1" stroke-opacity="0.8"/>
<circle cx="753" cy="479.8" r="1.5" fill="#f58a1f"/>
<line x1="554.3" y1="479.3" x2="554.3" y2="511.3" stroke="#30a8f8" stroke-width="1" stroke-opacity="0.8"/>
<circle cx="554.3" cy="495.3" r="1.5" fill="#30a8f8"/>
<line x1="756.2" y1="479.3" x2="756.2" y2="511.3" stroke="#30a8f8" stroke-width="1" stroke-opacity="0.8"/>
<circle cx="756.2" cy="495.3" r="1.5" fill="#30a8f8"/>
<line x1="555.7" y1="461.2" x2="555.7" y2="478" stroke="#b0155a" stroke-width="1" stroke-opacity="0.8"/>
<circle cx="555.7" cy="469.6" r="1.5" fill="#b0155a"/>
<line x1="757.6" y1="461.2" x2="757.6" y2="478" stroke="#b0155a" stroke-width="1" stroke-opacity="0.8"/>
<circle cx="757.6" cy="469.6" r="1.5" fill="#b0155a"/>
<line x1="558.6" y1="474.8" x2="558.6" y2="484.8" stroke="#b0155a" stroke-width="1" stroke-opacity="0.8"/>
<circle cx="558.6" cy="479.8" r="1.5" fill="#b0155a"/>
<line x1="760.5" y1="474.8" x2="760.5" y2="484.8" stroke="#b0155a" stroke-width="1" stroke-opacity="0.8"/>
<circle cx="760.5" cy="479.8" r="1.5" fill="#b0155a"/>
<line x1="561.9" y1="461.2" x2="561.9" y2="476.4" stroke="#b0155a" stroke-width="1" stroke-opacity="0.8"/>
<circle cx="561.9" cy="468.8" r="1.5" fill="#b0155a"/>
<line x1="763.8" y1="461.2" x2="763.8" y2="476.4" stroke="#b0155a" stroke-width="1" stroke-opacity="0.8"/>
<circle cx="763.8" cy="468.8" r="1.5" fill="#b0155a"/>
<line x1="563.3" y1="459.5" x2="563.3" y2="464.5" stroke="#f58a1f" stroke-width="1" stroke-opacity="0.8"/>
<circle cx="563.3" cy="462" r="1.5" fill="#f58a1f"/>
<line x1="765.2" y1="459.5" x2="765.2" y2="464.5" stroke="#f58a1f" stroke-width="1" stroke-opacity="0.8"/>
<circle cx="765.2" cy="462" r="1.5" fill="#f58a1f"/>
<line x1="564.5" y1="463.7" x2="564.5" y2="470.5" stroke="#f58a1f" stroke-width="1" stroke-opacity="0.8"/>
<circle cx="564.5" cy="467.1" r="1.5" fill="#f58a1f"/>
<line x1="766.4" y1="463.7" x2="766.4" y2="470.5" stroke="#f58a1f" stroke-width="1" stroke-opacity="0.8"/>
<circle cx="766.4" cy="467.1" r="1.5" fill="#f58a1f"/>
<line x1="565.5" y1="496.5" x2="565.5" y2="504.9" stroke="#f58a1f" stroke-width="1" stroke-opacity="0.8"/>
<circle cx="565.5" cy="500.7" r="1.5" fill="#f58a1f"/>
<line x1="767.4" y1="496.5" x2="767.4" y2="504.9" stroke="#f58a1f" stroke-width="1" stroke-opacity="0.8"/>
<circle cx="767.4" cy="500.7" r="1.5" fill="#f58a1f"/>
<line x1="568.4" y1="448" x2="568.4" y2="485.2" stroke="#b0155a" stroke-width="1" stroke-opacity="0.8"/>
<circle cx="568.4" cy="466.6" r="1.5" fill="#b0155a"/>
<line x1="770.3" y1="448" x2="770.3" y2="485.2" stroke="#b0155a" stroke-width="1" stroke-opacity="0.8"/>
<circle cx="770.3" cy="466.6" r="1.5" fill="#b0155a"/>
<line x1="572.6" y1="447.1" x2="572.6" y2="487.1" stroke="#30a8f8" stroke-width="1" stroke-opacity="0.8"/>
<circle cx="572.6" cy="467.1" r="1.5" fill="#30a8f8"/>
<line x1="774.5" y1="447.1" x2="774.5" y2="487.1" stroke="#30a8f8" stroke-width="1" stroke-opacity="0.8"/>
<circle cx="774.5" cy="467.1" r="1.5" fill="#30a8f8"/>
<line x1="577.3" y1="447.4" x2="577.3" y2="477.4" stroke="#b0155a" stroke-width="1" stroke-opacity="0.8"/>
<circle cx="577.3" cy="462.4" r="1.5" fill="#b0155a"/>
<line x1="779.2" y1="447.4" x2="779.2" y2="477.4" stroke="#b0155a" stroke-width="1" stroke-opacity="0.8"/>
<circle cx="779.2" cy="462.4" r="1.5" fill="#b0155a"/>
<line x1="577.3" y1="449.4" x2="577.3" y2="471.4" stroke="#b0155a" stroke-width="1" stroke-opacity="0.8"/>
<circle cx="577.3" cy="460.4" r="1.5" fill="#b0155a"/>
<line x1="779.2" y1="449.4" x2="779.2" y2="471.4" stroke="#b0155a" stroke-width="1" stroke-opacity="0.8"/>
<circle cx="779.2" cy="460.4" r="1.5" fill="#b0155a"/>
<line x1="586.1" y1="431.5" x2="586.1" y2="460.1" stroke="#b0155a" stroke-width="1" stroke-opacity="0.8"/>
<circle cx="586.1" cy="445.8" r="1.5" fill="#b0155a"/>
<line x1="788" y1="431.5" x2="788" y2="460.1" stroke="#b0155a" stroke-width="1" stroke-opacity="0.8"/>
<circle cx="788" cy="445.8" r="1.5" fill="#b0155a"/>
<line x1="595.9" y1="430.3" x2="595.9" y2="435.3" stroke="#f58a1f" stroke-width="1" stroke-opacity="0.8"/>
<circle cx="595.9" cy="432.8" r="1.5" fill="#f58a1f"/>
<line x1="797.8" y1="430.3" x2="797.8" y2="435.3" stroke="#f58a1f" stroke-width="1" stroke-opacity="0.8"/>
<circle cx="797.8" cy="432.8" r="1.5" fill="#f58a1f"/>
<line x1="603.3" y1="427.6" x2="603.3" y2="477.6" stroke="#b0155a" stroke-width="1" stroke-opacity="0.8"/>
<circle cx="603.3" cy="452.6" r="1.5" fill="#b0155a"/>
<line x1="805.2" y1="427.6" x2="805.2" y2="477.6" stroke="#b0155a" stroke-width="1" stroke-opacity="0.8"/>
<circle cx="805.2" cy="452.6" r="1.5" fill="#b0155a"/>
<line x1="604.6" y1="432" x2="604.6" y2="438.8" stroke="#f58a1f" stroke-width="1" stroke-opacity="0.8"/>
<circle cx="604.6" cy="435.4" r="1.5" fill="#f58a1f"/>
<line x1="806.5" y1="432" x2="806.5" y2="438.8" stroke="#f58a1f" stroke-width="1" stroke-opacity="0.8"/>
<circle cx="806.5" cy="435.4" r="1.5" fill="#f58a1f"/>
<line x1="609.4" y1="411.8" x2="609.4" y2="451.2" stroke="#30a8f8" stroke-width="1" stroke-opacity="0.8"/>
<circle cx="609.4" cy="431.5" r="1.5" fill="#30a8f8"/>
<line x1="811.3" y1="411.8" x2="811.3" y2="451.2" stroke="#30a8f8" stroke-width="1" stroke-opacity="0.8"/>
<circle cx="811.3" cy="431.5" r="1.5" fill="#30a8f8"/>
<line x1="612.7" y1="433.7" x2="612.7" y2="482.7" stroke="#b0155a" stroke-width="1" stroke-opacity="0.8"/>
<circle cx="612.7" cy="458.2" r="1.5" fill="#b0155a"/>
<line x1="814.6" y1="433.7" x2="814.6" y2="482.7" stroke="#b0155a" stroke-width="1" stroke-opacity="0.8"/>
<circle cx="814.6" cy="458.2" r="1.5" fill="#b0155a"/>
<line x1="630.6" y1="443" x2="630.6" y2="455.8" stroke="#30a8f8" stroke-width="1" stroke-opacity="0.8"/>
<circle cx="630.6" cy="449.4" r="1.5" fill="#30a8f8"/>
<line x1="636.7" y1="434.2" x2="636.7" y2="449.4" stroke="#b0155a" stroke-width="1" stroke-opacity="0.8"/>
<circle cx="636.7" cy="441.8" r="1.5" fill="#b0155a"/>
<line x1="643.8" y1="445.2" x2="643.8" y2="453.6" stroke="#f58a1f" stroke-width="1" stroke-opacity="0.8"/>
<circle cx="643.8" cy="449.4" r="1.5" fill="#f58a1f"/>
<line x1="669.4" y1="468.7" x2="669.4" y2="502.7" stroke="#b0155a" stroke-width="1" stroke-opacity="0.8"/>
<circle cx="669.4" cy="485.7" r="1.5" fill="#b0155a"/>
<line x1="677" y1="500.8" x2="677" y2="507.6" stroke="#f58a1f" stroke-width="1" stroke-opacity="0.8"/>
<circle cx="677" cy="504.2" r="1.5" fill="#f58a1f"/>
<line x1="676.3" y1="496.5" x2="676.3" y2="531.9" stroke="#b0155a" stroke-width="1" stroke-opacity="0.8"/>
<circle cx="676.3" cy="514.2" r="1.5" fill="#b0155a"/>
<line x1="687.3" y1="499" x2="687.3" y2="505.8" stroke="#f58a1f" stroke-width="1" stroke-opacity="0.8"/>
<circle cx="687.3" cy="502.4" r="1.5" fill="#f58a1f"/>
<line x1="708.2" y1="504.9" x2="708.2" y2="523.5" stroke="#b0155a" stroke-width="1" stroke-opacity="0.8"/>
<circle cx="708.2" cy="514.2" r="1.5" fill="#b0155a"/>
</g>
<circle cx="895.6" cy="95.6" r="1.6" fill="#30a8f8"/>
<circle cx="1097.2" cy="95.6" r="1.6" fill="#30a8f8"/>
<circle cx="894.7" cy="114.9" r="1.6" fill="#30a8f8"/>
<circle cx="1096.3" cy="114.9" r="1.6" fill="#30a8f8"/>
<circle cx="898.2" cy="128" r="1.6" fill="#b0155a"/>
<circle cx="1099.8" cy="128" r="1.6" fill="#b0155a"/>
<circle cx="906.6" cy="162.5" r="1.6" fill="#f58a1f"/>
<circle cx="1108.2" cy="162.5" r="1.6" fill="#f58a1f"/>
<circle cx="912.4" cy="107.5" r="1.6" fill="#30a8f8"/>
<circle cx="1114" cy="107.5" r="1.6" fill="#30a8f8"/>
<circle cx="917.5" cy="98.3" r="1.6" fill="#b0155a"/>
<circle cx="1119.1" cy="98.3" r="1.6" fill="#b0155a"/>
<circle cx="926.8" cy="102.3" r="1.6" fill="#30a8f8"/>
<circle cx="1128.4" cy="102.3" r="1.6" fill="#30a8f8"/>
<circle cx="929.9" cy="109.1" r="1.6" fill="#b0155a"/>
<circle cx="1131.5" cy="109.1" r="1.6" fill="#b0155a"/>
<circle cx="938.1" cy="103.5" r="1.6" fill="#b0155a"/>
<circle cx="1139.7" cy="103.5" r="1.6" fill="#b0155a"/>
<circle cx="945.7" cy="81.6" r="1.6" fill="#b0155a"/>
<circle cx="1147.3" cy="81.6" r="1.6" fill="#b0155a"/>
<circle cx="962.3" cy="101.8" r="1.6" fill="#f58a1f"/>
<circle cx="1163.9" cy="101.8" r="1.6" fill="#f58a1f"/>
<circle cx="975.4" cy="87.8" r="1.6" fill="#b0155a"/>
<circle cx="1177" cy="87.8" r="1.6" fill="#b0155a"/>
<circle cx="980.5" cy="94.8" r="1.6" fill="#f58a1f"/>
<circle cx="1182.1" cy="94.8" r="1.6" fill="#f58a1f"/>
<circle cx="999.7" cy="38.2" r="1.6" fill="#30a8f8"/>
<circle cx="1006.4" cy="70.8" r="1.6" fill="#f58a1f"/>
<circle cx="1016.9" cy="72.9" r="1.6" fill="#b0155a"/>
<circle cx="1012.2" cy="79.4" r="1.6" fill="#f58a1f"/>
<circle cx="1015.1" cy="84.6" r="1.6" fill="#f58a1f"/>
<circle cx="1012.5" cy="93.5" r="1.6" fill="#b0155a"/>
<circle cx="1022.5" cy="99.5" r="1.6" fill="#f58a1f"/>
<circle cx="1027" cy="86" r="1.6" fill="#b0155a"/>
<circle cx="1028.9" cy="89" r="1.6" fill="#f58a1f"/>
<circle cx="1029.3" cy="90.4" r="1.6" fill="#b0155a"/>
<circle cx="1050.6" cy="107" r="1.6" fill="#f58a1f"/>
<circle cx="1059" cy="98.8" r="1.6" fill="#f58a1f"/>
<circle cx="1062.5" cy="81.6" r="1.6" fill="#b0155a"/>
<circle cx="895.7" cy="284.5" r="1.6" fill="#30a8f8"/>
<circle cx="1097.2" cy="284.5" r="1.6" fill="#30a8f8"/>
<circle cx="894.9" cy="290.9" r="1.6" fill="#30a8f8"/>
<circle cx="1096.4" cy="290.9" r="1.6" fill="#30a8f8"/>
<circle cx="898.3" cy="287.2" r="1.6" fill="#b0155a"/>
<circle cx="1099.8" cy="287.2" r="1.6" fill="#b0155a"/>
<circle cx="906.7" cy="347" r="1.6" fill="#f58a1f"/>
<circle cx="1108.2" cy="347" r="1.6" fill="#f58a1f"/>
<circle cx="912.6" cy="281.2" r="1.6" fill="#30a8f8"/>
<circle cx="1114.1" cy="281.2" r="1.6" fill="#30a8f8"/>
<circle cx="917.7" cy="272" r="1.6" fill="#b0155a"/>
<circle cx="1119.2" cy="272" r="1.6" fill="#b0155a"/>
<circle cx="926.6" cy="273.5" r="1.6" fill="#30a8f8"/>
<circle cx="1128.1" cy="273.5" r="1.6" fill="#30a8f8"/>
<circle cx="928.6" cy="236.9" r="1.6" fill="#b0155a"/>
<circle cx="1130.1" cy="236.9" r="1.6" fill="#b0155a"/>
<circle cx="929.8" cy="292.2" r="1.6" fill="#b0155a"/>
<circle cx="1131.3" cy="292.2" r="1.6" fill="#b0155a"/>
<circle cx="938.3" cy="299.3" r="1.6" fill="#b0155a"/>
<circle cx="1139.8" cy="299.3" r="1.6" fill="#b0155a"/>
<circle cx="945.5" cy="268.6" r="1.6" fill="#b0155a"/>
<circle cx="1147" cy="268.6" r="1.6" fill="#b0155a"/>
<circle cx="958.5" cy="277.4" r="1.6" fill="#b0155a"/>
<circle cx="1160" cy="277.4" r="1.6" fill="#b0155a"/>
<circle cx="962.4" cy="280.4" r="1.6" fill="#f58a1f"/>
<circle cx="1163.9" cy="280.4" r="1.6" fill="#f58a1f"/>
<circle cx="970" cy="277.9" r="1.6" fill="#b0155a"/>
<circle cx="1171.5" cy="277.9" r="1.6" fill="#b0155a"/>
<circle cx="975.5" cy="264.9" r="1.6" fill="#b0155a"/>
<circle cx="1177" cy="264.9" r="1.6" fill="#b0155a"/>
<circle cx="981.3" cy="260.5" r="1.6" fill="#30a8f8"/>
<circle cx="1182.8" cy="260.5" r="1.6" fill="#30a8f8"/>
<circle cx="980.6" cy="274" r="1.6" fill="#f58a1f"/>
<circle cx="1182.1" cy="274" r="1.6" fill="#f58a1f"/>
<circle cx="999.8" cy="227.8" r="1.6" fill="#30a8f8"/>
<circle cx="1006.3" cy="285" r="1.6" fill="#f58a1f"/>
<circle cx="1012.5" cy="252.6" r="1.6" fill="#f58a1f"/>
<circle cx="1016.9" cy="255.8" r="1.6" fill="#b0155a"/>
<circle cx="1015" cy="262.2" r="1.6" fill="#f58a1f"/>
<circle cx="1012.7" cy="267.6" r="1.6" fill="#b0155a"/>
<circle cx="1022.3" cy="267.6" r="1.6" fill="#f58a1f"/>
<circle cx="1027.2" cy="268.9" r="1.6" fill="#b0155a"/>
<circle cx="1028.2" cy="265.6" r="1.6" fill="#f58a1f"/>
<circle cx="1029.4" cy="262.2" r="1.6" fill="#f58a1f"/>
<circle cx="1029.4" cy="280.4" r="1.6" fill="#b0155a"/>
<circle cx="1045.9" cy="244.5" r="1.6" fill="#b0155a"/>
<circle cx="1045.9" cy="260" r="1.6" fill="#b0155a"/>
<circle cx="1050.5" cy="295.2" r="1.6" fill="#f58a1f"/>
<circle cx="1058.9" cy="273.1" r="1.6" fill="#f58a1f"/>
<circle cx="1062.6" cy="268.9" r="1.6" fill="#b0155a"/>
<circle cx="1066.5" cy="260.8" r="1.6" fill="#b0155a"/>
<path d="M45.7 618.3 L48.1 638.55 L50.4 612.97 L52.6 651.26 L55.8 635.96 L56.9 653.5 L58.4 634.37 L59.4 620.59 L59.7 630.8 L62.7 648.88 L63.9 611.58 L124.9 645.59 L129.2 654.54 L130.4 655.1 L133 639.22 L133.4 636.7 L134.9 633.56 L135.6 649.77 L136.7 619.4 L137.1 620.75 L138.1 617.92 L138.8 634.73 L139 652.33 L139.9 613.45 L142.1 617.95 L144.1 631.23 L144.4 629.88 L144.8 641.88 L146.1 656.64 L211.4 639.18 L213.2 630.14 L217.8 629.49 L218.4 624.02 L219.6 658.05 L221.9 652.09" fill="none" stroke="#22e022" stroke-width="1" stroke-linejoin="round"/>
<circle cx="45.7" cy="618.3" r="1.3" fill="#22e022"/>
<circle cx="48.1" cy="638.55" r="1.3" fill="#22e022"/>
<circle cx="50.4" cy="612.97" r="1.3" fill="#22e022"/>
<circle cx="52.6" cy="651.26" r="1.3" fill="#22e022"/>
<circle cx="55.8" cy="635.96" r="1.3" fill="#22e022"/>
<circle cx="56.9" cy="653.5" r="1.3" fill="#22e022"/>
<circle cx="58.4" cy="634.37" r="1.3" fill="#22e022"/>
<circle cx="59.4" cy="620.59" r="1.3" fill="#22e022"/>
<circle cx="59.7" cy="630.8" r="1.3" fill="#22e022"/>
<circle cx="62.7" cy="648.88" r="1.3" fill="#22e022"/>
<circle cx="63.9" cy="611.58" r="1.3" fill="#22e022"/>
<circle cx="124.9" cy="645.59" r="1.3" fill="#22e022"/>
<circle cx="129.2" cy="654.54" r="1.3" fill="#22e022"/>
<circle cx="130.4" cy="655.1" r="1.3" fill="#22e022"/>
<circle cx="133" cy="639.22" r="1.3" fill="#22e022"/>
<circle cx="133.4" cy="636.7" r="1.3" fill="#22e022"/>
<circle cx="134.9" cy="633.56" r="1.3" fill="#22e022"/>
<circle cx="135.6" cy="649.77" r="1.3" fill="#22e022"/>
<circle cx="136.7" cy="619.4" r="1.3" fill="#22e022"/>
<circle cx="137.1" cy="620.75" r="1.3" fill="#22e022"/>
<circle cx="138.1" cy="617.92" r="1.3" fill="#22e022"/>
<circle cx="138.8" cy="634.73" r="1.3" fill="#22e022"/>
<circle cx="139" cy="652.33" r="1.3" fill="#22e022"/>
<circle cx="139.9" cy="613.45" r="1.3" fill="#22e022"/>
<circle cx="142.1" cy="617.95" r="1.3" fill="#22e022"/>
<circle cx="144.1" cy="631.23" r="1.3" fill="#22e022"/>
<circle cx="144.4" cy="629.88" r="1.3" fill="#22e022"/>
<circle cx="144.8" cy="641.88" r="1.3" fill="#22e022"/>
<circle cx="146.1" cy="656.64" r="1.3" fill="#22e022"/>
<circle cx="211.4" cy="639.18" r="1.3" fill="#22e022"/>
<circle cx="213.2" cy="630.14" r="1.3" fill="#22e022"/>
<circle cx="217.8" cy="629.49" r="1.3" fill="#22e022"/>
<circle cx="218.4" cy="624.02" r="1.3" fill="#22e022"/>
<circle cx="219.6" cy="658.05" r="1.3" fill="#22e022"/>
<circle cx="221.9" cy="652.09" r="1.3" fill="#22e022"/>
<path d="M45.7 607.92 L48.1 624.3 L50.4 607.91 L52.6 633.89 L55.8 623.15 L56.9 634.15 L58.4 620.26 L59.4 610.83 L59.7 618 L62.7 632.99 L63.9 605.08 L124.9 629.29 L129.2 634.11 L130.4 632.94 L133 624.48 L133.4 624.21 L134.9 620.13 L135.6 630.78 L136.7 611.04 L137.1 612.55 L138.1 608.42 L138.8 622.55 L139 631.65 L139.9 604.6 L142.1 609.19 L144.1 617.11 L144.4 618.18 L144.8 625.96 L146.1 636.32 L211.4 626.79 L213.2 617.36 L217.8 617.49 L218.4 615.36 L219.6 636.56 L221.9 632.56" fill="none" stroke="#f41c1c" stroke-width="1" stroke-linejoin="round"/>
<circle cx="45.7" cy="607.92" r="1.3" fill="#f41c1c"/>
<circle cx="48.1" cy="624.3" r="1.3" fill="#f41c1c"/>
<circle cx="50.4" cy="607.91" r="1.3" fill="#f41c1c"/>
<circle cx="52.6" cy="633.89" r="1.3" fill="#f41c1c"/>
<circle cx="55.8" cy="623.15" r="1.3" fill="#f41c1c"/>
<circle cx="56.9" cy="634.15" r="1.3" fill="#f41c1c"/>
<circle cx="58.4" cy="620.26" r="1.3" fill="#f41c1c"/>
<circle cx="59.4" cy="610.83" r="1.3" fill="#f41c1c"/>
<circle cx="59.7" cy="618" r="1.3" fill="#f41c1c"/>
<circle cx="62.7" cy="632.99" r="1.3" fill="#f41c1c"/>
<circle cx="63.9" cy="605.08" r="1.3" fill="#f41c1c"/>
<circle cx="124.9" cy="629.29" r="1.3" fill="#f41c1c"/>
<circle cx="129.2" cy="634.11" r="1.3" fill="#f41c1c"/>
<circle cx="130.4" cy="632.94" r="1.3" fill="#f41c1c"/>
<circle cx="133" cy="624.48" r="1.3" fill="#f41c1c"/>
<circle cx="133.4" cy="624.21" r="1.3" fill="#f41c1c"/>
<circle cx="134.9" cy="620.13" r="1.3" fill="#f41c1c"/>
<circle cx="135.6" cy="630.78" r="1.3" fill="#f41c1c"/>
<circle cx="136.7" cy="611.04" r="1.3" fill="#f41c1c"/>
<circle cx="137.1" cy="612.55" r="1.3" fill="#f41c1c"/>
<circle cx="138.1" cy="608.42" r="1.3" fill="#f41c1c"/>
<circle cx="138.8" cy="622.55" r="1.3" fill="#f41c1c"/>
<circle cx="139" cy="631.65" r="1.3" fill="#f41c1c"/>
<circle cx="139.9" cy="604.6" r="1.3" fill="#f41c1c"/>
<circle cx="142.1" cy="609.19" r="1.3" fill="#f41c1c"/>
<circle cx="144.1" cy="617.11" r="1.3" fill="#f41c1c"/>
<circle cx="144.4" cy="618.18" r="1.3" fill="#f41c1c"/>
<circle cx="144.8" cy="625.96" r="1.3" fill="#f41c1c"/>
<circle cx="146.1" cy="636.32" r="1.3" fill="#f41c1c"/>
<circle cx="211.4" cy="626.79" r="1.3" fill="#f41c1c"/>
<circle cx="213.2" cy="617.36" r="1.3" fill="#f41c1c"/>
<circle cx="217.8" cy="617.49" r="1.3" fill="#f41c1c"/>
<circle cx="218.4" cy="615.36" r="1.3" fill="#f41c1c"/>
<circle cx="219.6" cy="636.56" r="1.3" fill="#f41c1c"/>
<circle cx="221.9" cy="632.56" r="1.3" fill="#f41c1c"/>
<path d="M45.7 607.4 L48.1 622.7 L50.4 606.27 L52.6 633.38 L55.8 621.56 L56.9 633.06 L58.4 620.36 L59.4 609.25 L59.7 615.8 L62.7 628.05 L63.9 605.87 L124.9 625.37 L129.2 632.58 L130.4 633.98 L133 622.76 L133.4 621.28 L134.9 617.51 L135.6 628.5 L136.7 608.66 L137.1 610.9 L138.1 606.85 L138.8 619.56 L139 631.48 L139.9 603.04 L142.1 607.91 L144.1 617.36 L144.4 616.36 L144.8 623.63 L146.1 635.06 L211.4 623.39 L213.2 617.5 L217.8 616.61 L218.4 611.11 L219.6 634.54 L221.9 631.53" fill="none" stroke="#9e2424" stroke-width="1" stroke-linejoin="round"/>
<circle cx="45.7" cy="607.4" r="1.3" fill="#9e2424"/>
<circle cx="48.1" cy="622.7" r="1.3" fill="#9e2424"/>
<circle cx="50.4" cy="606.27" r="1.3" fill="#9e2424"/>
<circle cx="52.6" cy="633.38" r="1.3" fill="#9e2424"/>
<circle cx="55.8" cy="621.56" r="1.3" fill="#9e2424"/>
<circle cx="56.9" cy="633.06" r="1.3" fill="#9e2424"/>
<circle cx="58.4" cy="620.36" r="1.3" fill="#9e2424"/>
<circle cx="59.4" cy="609.25" r="1.3" fill="#9e2424"/>
<circle cx="59.7" cy="615.8" r="1.3" fill="#9e2424"/>
<circle cx="62.7" cy="628.05" r="1.3" fill="#9e2424"/>
<circle cx="63.9" cy="605.87" r="1.3" fill="#9e2424"/>
<circle cx="124.9" cy="625.37" r="1.3" fill="#9e2424"/>
<circle cx="129.2" cy="632.58" r="1.3" fill="#9e2424"/>
<circle cx="130.4" cy="633.98" r="1.3" fill="#9e2424"/>
<circle cx="133" cy="622.76" r="1.3" fill="#9e2424"/>
<circle cx="133.4" cy="621.28" r="1.3" fill="#9e2424"/>
<circle cx="134.9" cy="617.51" r="1.3" fill="#9e2424"/>
<circle cx="135.6" cy="628.5" r="1.3" fill="#9e2424"/>
<circle cx="136.7" cy="608.66" r="1.3" fill="#9e2424"/>
<circle cx="137.1" cy="610.9" r="1.3" fill="#9e2424"/>
<circle cx="138.1" cy="606.85" r="1.3" fill="#9e2424"/>
<circle cx="138.8" cy="619.56" r="1.3" fill="#9e2424"/>
<circle cx="139" cy="631.48" r="1.3" fill="#9e2424"/>
<circle cx="139.9" cy="603.04" r="1.3" fill="#9e2424"/>
<circle cx="142.1" cy="607.91" r="1.3" fill="#9e2424"/>
<circle cx="144.1" cy="617.36" r="1.3" fill="#9e2424"/>
<circle cx="144.4" cy="616.36" r="1.3" fill="#9e2424"/>
<circle cx="144.8" cy="623.63" r="1.3" fill="#9e2424"/>
<circle cx="146.1" cy="635.06" r="1.3" fill="#9e2424"/>
<circle cx="211.4" cy="623.39" r="1.3" fill="#9e2424"/>
<circle cx="213.2" cy="617.5" r="1.3" fill="#9e2424"/>
<circle cx="217.8" cy="616.61" r="1.3" fill="#9e2424"/>
<circle cx="218.4" cy="611.11" r="1.3" fill="#9e2424"/>
<circle cx="219.6" cy="634.54" r="1.3" fill="#9e2424"/>
<circle cx="221.9" cy="631.53" r="1.3" fill="#9e2424"/>
<path d="M45.7 601.62 L48.1 613.67 L50.4 602.04 L52.6 623.92 L55.8 612.12 L56.9 622.98 L58.4 610.19 L59.4 602.33 L59.7 609.81 L62.7 619.48 L63.9 600.7 L124.9 617.91 L129.2 621.12 L130.4 622.12 L133 615 L133.4 612.23 L134.9 610.47 L135.6 618.16 L136.7 605.03 L137.1 603.94 L138.1 601.94 L138.8 611.42 L139 619.92 L139.9 600.54 L142.1 602.61 L144.1 609.27 L144.4 608.52 L144.8 616.32 L146.1 622.2 L211.4 614.06 L213.2 610.5 L217.8 609.85 L218.4 606.08 L219.6 623.5 L221.9 620.29" fill="none" stroke="#000000" stroke-width="1" stroke-linejoin="round"/>
<circle cx="45.7" cy="601.62" r="1.3" fill="#000000"/>
<circle cx="48.1" cy="613.67" r="1.3" fill="#000000"/>
<circle cx="50.4" cy="602.04" r="1.3" fill="#000000"/>
<circle cx="52.6" cy="623.92" r="1.3" fill="#000000"/>
<circle cx="55.8" cy="612.12" r="1.3" fill="#000000"/>
<circle cx="56.9" cy="622.98" r="1.3" fill="#000000"/>
<circle cx="58.4" cy="610.19" r="1.3" fill="#000000"/>
<circle cx="59.4" cy="602.33" r="1.3" fill="#000000"/>
<circle cx="59.7" cy="609.81" r="1.3" fill="#000000"/>
<circle cx="62.7" cy="619.48" r="1.3" fill="#000000"/>
<circle cx="63.9" cy="600.7" r="1.3" fill="#000000"/>
<circle cx="124.9" cy="617.91" r="1.3" fill="#000000"/>
<circle cx="129.2" cy="621.12" r="1.3" fill="#000000"/>
<circle cx="130.4" cy="622.12" r="1.3" fill="#000000"/>
<circle cx="133" cy="615" r="1.3" fill="#000000"/>
<circle cx="133.4" cy="612.23" r="1.3" fill="#000000"/>
<circle cx="134.9" cy="610.47" r="1.3" fill="#000000"/>
<circle cx="135.6" cy="618.16" r="1.3" fill="#000000"/>
<circle cx="136.7" cy="605.03" r="1.3" fill="#000000"/>
<circle cx="137.1" cy="603.94" r="1.3" fill="#000000"/>
<circle cx="138.1" cy="601.94" r="1.3" fill="#000000"/>
<circle cx="138.8" cy="611.42" r="1.3" fill="#000000"/>
<circle cx="139" cy="619.92" r="1.3" fill="#000000"/>
<circle cx="139.9" cy="600.54" r="1.3" fill="#000000"/>
<circle cx="142.1" cy="602.61" r="1.3" fill="#000000"/>
<circle cx="144.1" cy="609.27" r="1.3" fill="#000000"/>
<circle cx="144.4" cy="608.52" r="1.3" fill="#000000"/>
<circle cx="144.8" cy="616.32" r="1.3" fill="#000000"/>
<circle cx="146.1" cy="622.2" r="1.3" fill="#000000"/>
<circle cx="211.4" cy="614.06" r="1.3" fill="#000000"/>
<circle cx="213.2" cy="610.5" r="1.3" fill="#000000"/>
<circle cx="217.8" cy="609.85" r="1.3" fill="#000000"/>
<circle cx="218.4" cy="606.08" r="1.3" fill="#000000"/>
<circle cx="219.6" cy="623.5" r="1.3" fill="#000000"/>
<circle cx="221.9" cy="620.29" r="1.3" fill="#000000"/>
<path d="M45.7 720.3 L48.1 742 L50.4 718.6 L52.6 757.2 L55.8 739.2 L56.9 755.9 L58.4 738.5 L59.4 724.5 L59.7 733.8 L62.7 752.7 L63.9 717.9 L124.9 748.8 L129.2 755.4 L130.4 756.1 L133 744.1 L133.4 741.5 L134.9 735.9 L135.6 749.7 L136.7 723.9 L137.1 726.1 L138.1 720.9 L138.8 738.5 L139 753.3 L139.9 716.1 L142.1 721.6 L144.1 734.7 L144.4 732.5 L144.8 745.6 L146.1 758.6 L211.4 743 L213.2 734.1 L217.8 733.9 L218.4 728.4 L219.6 760.2" fill="none" stroke="#2bb8f8" stroke-width="1" stroke-linejoin="round"/>
<circle cx="45.7" cy="720.3" r="1.3" fill="#2bb8f8"/>
<circle cx="48.1" cy="742" r="1.3" fill="#2bb8f8"/>
<circle cx="50.4" cy="718.6" r="1.3" fill="#2bb8f8"/>
<circle cx="52.6" cy="757.2" r="1.3" fill="#2bb8f8"/>
<circle cx="55.8" cy="739.2" r="1.3" fill="#2bb8f8"/>
<circle cx="56.9" cy="755.9" r="1.3" fill="#2bb8f8"/>
<circle cx="58.4" cy="738.5" r="1.3" fill="#2bb8f8"/>
<circle cx="59.4" cy="724.5" r="1.3" fill="#2bb8f8"/>
<circle cx="59.7" cy="733.8" r="1.3" fill="#2bb8f8"/>
<circle cx="62.7" cy="752.7" r="1.3" fill="#2bb8f8"/>
<circle cx="63.9" cy="717.9" r="1.3" fill="#2bb8f8"/>
<circle cx="124.9" cy="748.8" r="1.3" fill="#2bb8f8"/>
<circle cx="129.2" cy="755.4" r="1.3" fill="#2bb8f8"/>
<circle cx="130.4" cy="756.1" r="1.3" fill="#2bb8f8"/>
<circle cx="133" cy="744.1" r="1.3" fill="#2bb8f8"/>
<circle cx="133.4" cy="741.5" r="1.3" fill="#2bb8f8"/>
<circle cx="134.9" cy="735.9" r="1.3" fill="#2bb8f8"/>
<circle cx="135.6" cy="749.7" r="1.3" fill="#2bb8f8"/>
<circle cx="136.7" cy="723.9" r="1.3" fill="#2bb8f8"/>
<circle cx="137.1" cy="726.1" r="1.3" fill="#2bb8f8"/>
<circle cx="138.1" cy="720.9" r="1.3" fill="#2bb8f8"/>
<circle cx="138.8" cy="738.5" r="1.3" fill="#2bb8f8"/>
<circle cx="139" cy="753.3" r="1.3" fill="#2bb8f8"/>
<circle cx="139.9" cy="716.1" r="1.3" fill="#2bb8f8"/>
<circle cx="142.1" cy="721.6" r="1.3" fill="#2bb8f8"/>
<circle cx="144.1" cy="734.7" r="1.3" fill="#2bb8f8"/>
<circle cx="144.4" cy="732.5" r="1.3" fill="#2bb8f8"/>
<circle cx="144.8" cy="745.6" r="1.3" fill="#2bb8f8"/>
<circle cx="146.1" cy="758.6" r="1.3" fill="#2bb8f8"/>
<circle cx="211.4" cy="743" r="1.3" fill="#2bb8f8"/>
<circle cx="213.2" cy="734.1" r="1.3" fill="#2bb8f8"/>
<circle cx="217.8" cy="733.9" r="1.3" fill="#2bb8f8"/>
<circle cx="218.4" cy="728.4" r="1.3" fill="#2bb8f8"/>
<circle cx="219.6" cy="760.2" r="1.3" fill="#2bb8f8"/>
<clipPath id="cJ"><rect x="273.2" y="591" width="195.3" height="175.4"/></clipPath>
<path clip-path="url(#cJ)" d="M338 619.3 L350.2 608.5 L362.4 605 L374.5 601.5 L386.7 598 L398.9 595.1 L411.1 593 L423.3 590.9 L435.5 588.8 L447.6 586.8 L459.8 584.9 L472 583 L472 605 L459.8 607.3 L447.6 609.6 L435.5 612.2 L423.3 615.3 L411.1 618.5 L398.9 621.6 L386.7 625.3 L374.5 629.4 L362.4 633.4 L350.2 637.5 L338 641.3 Z" fill="#bebebe"/>
<path d="M359.4 618h0M326.3 663.3h0M324.6 640.4h0M336.9 615.5h0M426.3 594.1h0M444.4 753.3h0M368 595.2h0M429.6 599.1h0M344.4 633.2h0M292 657.9h0M462.3 655.8h0M442.2 609.7h0M430.5 593.6h0M319.4 629.2h0M432.4 600.6h0M433 636.8h0M467.3 609h0M365.6 705.5h0M278.2 686.3h0M355.9 646.4h0M298.6 643.4h0M274.5 619.3h0M327.1 651.7h0M300.3 733.7h0M302.6 662.1h0M439.4 618.5h0M430.2 605.2h0M358.8 612.3h0M431.5 623.7h0M365.6 644.1h0M425.9 621.4h0M314.2 708.4h0M312.9 648.5h0M360.6 594.9h0M455.3 760.2h0M346.5 653h0M292.7 642.4h0M368 607.2h0M431.7 624.8h0M316.3 655.2h0M339.9 672.9h0M306.2 650.3h0M340.1 657.4h0M283.6 642.2h0M433.8 630.2h0M276.3 744.2h0M327.1 633.6h0M304.8 692.2h0M274.6 697.4h0M360.8 646.9h0M290.1 727h0M352.5 596.4h0M297.5 632.5h0M376.8 606.8h0M314.2 716.2h0M278.3 723.7h0M344.6 617.9h0M311.8 652.8h0M325 629.6h0M379.9 604.1h0M384.5 603.6h0M394.1 725h0M288.3 646.8h0M306.6 687.7h0M368 713.8h0M344.5 613.5h0M426.2 592.6h0M277.4 653.6h0M344.1 613.6h0M329.3 662.5h0M387.5 604h0M379.7 632.5h0M395.6 616.2h0M344 681.5h0M441.7 621.2h0M403 622.1h0M323.4 668.5h0M275.6 679.9h0M463.3 606.4h0M298.3 606h0M315.9 687h0M286.3 670.6h0M401.3 610.4h0M369.5 594.8h0M441.1 621.1h0M279.5 666.9h0M359.4 657.5h0M348.7 599h0M273.7 618.9h0M393.9 636.4h0M411.6 628.4h0M325.7 686.2h0M344.2 635.2h0M376.3 615.8h0M358 674.7h0M408.3 618.6h0M381.8 722.4h0M301.4 731.1h0M397.4 594.1h0M383.4 615h0M438.6 606.3h0M304.8 621.6h0M374.8 602.6h0M377.8 632.4h0M373 602h0M436.8 602.1h0M377.9 623.5h0M347.1 610.9h0M345.5 602.6h0M371.6 625.4h0M377.8 609.7h0M300.2 714.4h0M352.8 654.2h0M285.2 700h0M285.3 701.5h0M375.8 609.5h0M372.1 611.1h0M369.1 719.6h0M356.5 713.4h0M280.7 700.9h0M369.8 616.4h0M290.7 763.1h0M429.4 628.3h0M348.3 628.4h0M327.7 641h0M409.1 636.8h0M367.4 642.5h0M459.3 598.2h0M314.6 675h0M336.2 609.5h0M450.7 625h0M463.9 620.3h0M355.4 609.8h0M321.4 660.8h0M300 661.7h0M299.5 684.7h0M361 616.4h0M294.5 639.4h0M366.7 608.3h0M412.4 681.8h0M313.2 671h0M435.5 592.3h0M461.8 598.3h0M434.1 625.4h0M444 621.3h0M284.7 720.3h0M297.3 651.7h0M380.8 593.1h0M303.6 701.9h0M320.4 703.1h0M346.5 599.5h0M350.9 666.5h0M386.6 609.1h0M317.6 673.3h0M276.4 643.4h0M370 631.8h0M317.9 622.8h0M377.9 615.2h0M406 694.1h0M440.8 615.4h0M317.4 638.2h0M331.9 667.7h0M283.6 627.8h0M301.8 706.8h0M403.4 595.1h0M393.3 681.7h0M335.2 632.2h0M419.8 591.8h0M350.6 605.6h0M337.6 630.7h0M420.7 612.5h0M328.9 747.4h0M406.7 613.9h0M329.8 661.9h0M436.8 602.8h0M329.1 697.2h0M341 652.8h0M354 665.9h0M329.4 624h0M287.5 718.1h0M349.5 616.5h0M435 595h0M284.1 670.2h0M396.3 668h0M426.3 620.9h0M443.5 602.7h0M332.9 622.9h0M294.5 703.4h0M341.1 646.9h0M414.4 606.8h0M394.6 682.4h0M316.9 668h0M316.4 660.1h0M466.9 613.6h0M285.7 675.5h0M440.7 627.1h0M274.4 626.7h0M358.6 610.6h0M448.6 621.3h0M307.6 625.1h0M281.8 733.8h0M443.9 606.9h0M325.6 689.1h0M315.2 623.7h0M336.5 645.9h0M293.2 670.5h0M349.1 671.3h0M370.4 742.2h0M307.3 597.4h0M336.6 702.9h0M342.5 600.3h0M382.1 601.6h0M414.8 705.3h0M385.2 591.6h0M395.3 635.7h0M319.7 687.2h0M318.4 610.5h0M455.7 600.3h0M411.7 629.1h0M394.9 634.6h0M342.2 680.3h0M467.6 592h0M346.5 652.5h0M388.1 620.8h0M294.6 722.5h0M282.7 725.1h0M334.7 612.9h0M300.2 740.1h0M370.7 634.4h0M459.2 625.9h0M364.6 644.9h0M280.2 675.3h0M360.3 651.1h0M279.3 685.3h0M368.5 609h0M411.9 621.8h0M324.9 659.7h0M307.2 677.5h0M311.3 658.1h0M385.1 637.1h0M367.4 627.6h0M350.1 665.7h0M439.3 595.7h0M278.1 662.1h0M332.1 626.9h0M318.3 618.2h0M449.1 595.9h0M344 681h0M323.2 727.3h0M383.9 617.2h0M341.9 636.6h0M325.6 636.1h0M464.3 605.1h0M289.1 645.2h0M327.5 630.4h0M398.5 608.6h0M361.2 619.9h0M341.8 606.9h0M454.3 595.2h0M467.7 611.9h0M364.9 595.1h0M359.8 717h0M311.7 701.3h0M274 701.4h0M369.9 614.6h0M368.6 620.7h0M282.2 713.7h0M309.2 648.2h0M296.1 698.3h0M411.9 618.1h0M352.1 636.8h0M376.8 615.2h0M313.2 674.3h0M356.2 623.6h0M318.2 657.1h0M312.6 660.2h0M349.2 604.9h0M351.8 686.6h0M446.5 599.5h0M313 712.7h0M311.6 707.6h0M320.4 619.8h0M348.5 594.7h0M281.8 649.8h0M305.6 603.6h0M372 621.1h0M408.4 631.4h0M304.2 716.3h0M302.7 690.5h0M342.5 692.1h0M387.1 594.9h0M363.2 618h0M343.8 607.9h0M351.7 615.1h0M390.6 726h0M414.1 618.3h0M325.5 639.6h0M394.9 642.9h0M343 616.4h0M366.5 629.3h0M314.5 657h0M290.3 714.7h0M431.9 592.6h0M410.8 659.3h0M286.9 673.5h0M282.4 645.9h0M417.2 608.2h0M313.9 666.8h0M396.4 632.4h0M275.2 685h0M281.6 675.4h0M315.1 673.9h0M403.9 637.9h0M334.2 617.7h0M398.2 621.9h0M416.2 626.1h0M337.6 626.2h0M291.7 706.2h0M301.9 646.2h0M293 648.6h0M424.2 635.1h0M348.6 599.5h0M300.7 666.6h0M418.2 607.7h0M356.7 694.4h0M423.2 615.6h0M279.9 757.2h0M337.3 693.1h0M287.9 697.2h0M296.3 688.2h0M365.8 712.9h0M319 625h0M442.3 595.1h0M324.7 683.3h0M356.9 597.5h0M379.3 611.9h0M323.8 697h0M363.9 718.9h0M338.4 617.5h0M319 653.6h0M380.2 614.2h0M356.3 629h0M295.3 636.5h0M352.5 639.2h0M322 746.3h0M348.1 655.1h0M384.5 710.7h0M302.2 665.8h0M300.5 667.7h0M309.6 715h0M423 599.5h0M300.3 692.3h0M279.5 729h0M392.1 616.4h0M387.7 635.6h0M429.2 606.4h0M283.7 711.9h0M343.8 633h0M280.1 727.8h0M351.4 647.3h0M326.7 653.8h0M420.3 611.8h0M332.2 645.1h0M373.2 640.7h0M334.2 613.8h0M339.8 623.1h0M394.4 595.9h0M296 652.4h0M396.4 608.9h0M442.6 610.4h0M298.4 674.5h0M417.8 605.4h0M397.5 700.3h0M325.9 648.5h0M376.9 597.4h0M374.1 715.9h0M432.6 599.3h0M413 614.5h0M359.8 596.8h0M334.5 622.7h0M280.7 721.9h0M384.3 607.5h0M308 709.9h0M385.1 630.3h0M355.6 607.5h0M367.9 633.4h0M452.9 595.4h0M457.9 617.9h0M329.3 661.5h0M324.7 616.7h0M300.3 730.7h0M424.3 764.5h0M407 596.1h0M336.9 683.6h0M397.5 631.6h0M287.5 671.3h0M282.3 694.3h0M340.9 595.1h0M449.7 612h0M449 598.4h0M341 660.3h0M335.5 594.8h0M322.3 662.3h0M385.4 626.5h0M321 634.5h0M314.6 617.8h0M346.6 661.8h0M349 677.3h0M279.7 669.3h0M340.5 627h0M412.6 763.5h0M354.9 649.4h0M288.5 727.8h0M316.1 614.2h0M280.7 656.9h0M293.5 668.8h0M404.7 592.6h0M275.5 746.7h0M284.1 673.2h0M405.8 600.9h0M356.1 711.9h0M289.6 640.7h0M455.8 596.7h0M309.1 659.1h0M449 607h0M291.5 636.7h0M332.6 635.8h0M293.6 707.2h0M396.3 600.1h0M292 746.6h0M362.1 705.6h0M419.8 620h0M343.2 617.7h0M346.1 608h0M312.2 679.5h0M366.7 610.3h0M357.2 688.6h0M293.3 760.8h0M386.1 721.9h0M289.9 693.2h0M352.1 671.6h0M321.9 633.3h0M410.6 600.8h0M444.7 601h0M344.4 635.4h0M309.8 673.3h0M278.2 640.3h0M388.8 618.2h0M292.3 694.6h0M285.2 730.6h0M337.5 639.5h0M332.8 659h0M345.9 634.1h0M409.4 621.4h0M397.7 609.9h0M282.5 733.3h0M395.5 628.5h0M423.9 678.3h0M364.2 646.3h0M360.8 669.1h0M365.2 745.5h0M406.3 630h0M454.1 611.2h0M349.3 615.9h0M366 621.2h0M378 631.4h0M336 683h0M369.9 641.1h0M354.5 646.4h0M304 665.1h0M308.2 676.1h0M354.4 615.5h0M424.1 596.9h0M339.4 645.8h0M394.2 630.7h0M420.3 601.7h0M341.4 741.3h0M336 712.2h0M459.4 607.4h0M324.8 618.4h0M414 626.9h0M368 606.6h0M398.8 623.9h0M332.9 610.6h0M337.6 613.7h0M296.9 638h0M323.2 705.8h0M453 622.9h0M321.3 623.4h0M295.9 610.3h0M365.7 596.6h0M458.5 615.5h0M284.7 692.1h0M338.2 673.9h0M313.6 674.8h0M319.6 668h0M310.8 681.6h0M326.9 634.2h0M356.1 657.8h0M447.8 674.1h0M376.1 634.2h0M350.2 604.1h0M399.9 593.6h0M297.3 736.8h0M396.1 693h0M462 606.9h0M429 610h0M346.3 607.5h0M336.9 688.4h0M395.3 687.2h0M319 741.6h0M379.8 598h0M313.4 637.7h0M311.6 683.2h0M402.8 624.9h0M404.1 645.7h0M463.6 613.5h0M455.6 596.3h0M350 630.6h0M392.9 613.7h0M294.8 659.7h0M312.9 648.9h0M284.8 682.3h0M447.2 605.9h0M362.6 629.9h0M387.2 606.5h0M312.9 636.2h0M445.7 622h0M435.9 628h0M312.1 720h0M351 697.6h0M407.8 597.1h0M466.2 604.5h0M363.4 623.9h0M343.7 667.8h0M356.6 641.7h0M285 699.4h0M386.8 608.1h0M312.8 725.6h0M364.8 643.8h0M446.8 625.1h0M413.4 692.1h0M294.4 663.4h0M375.7 594.3h0M331.9 694h0M414.2 624.9h0M351.3 606.7h0M429.7 615.5h0M294.5 657.7h0M303.3 658.5h0M437.7 625.1h0M291.7 712.8h0M289.9 717.4h0M273.7 671.8h0M453.5 594.3h0M275.2 653.4h0M452.4 725.9h0M328.4 670.3h0M344.5 616.1h0M328.8 656.5h0M453.2 645.2h0M329.7 692.9h0M347.1 607h0M399.6 747h0M343.8 632.5h0M380.4 596.6h0M406.9 634.3h0M385.8 715.5h0M341.9 696.7h0M411.5 634.2h0M405.3 600.8h0M427.7 601.5h0M353.3 740.4h0M413.9 625h0M448.3 625.8h0M417.5 604.7h0M404.2 609h0M283.6 653.5h0M372.2 715.4h0M279.9 681.7h0M443 597.5h0M317 671.6h0M325.9 631.7h0M298.8 629.3h0M380.9 743.1h0M322.6 641.4h0M400.5 603.4h0M386.3 635.2h0M303.8 666.7h0M405.5 596h0M317.9 634.7h0M376.6 709.7h0M405.4 613.4h0M318.6 686.2h0M350.7 605.8h0M393.1 674.3h0M308.2 732.7h0M338.3 628.1h0M428.2 629.5h0M379.4 616.7h0M380.5 626.6h0M307.2 683.4h0M384.5 620.1h0M330 618.8h0M391.5 614.3h0M361.3 713h0M341.5 649.4h0M396.5 614.5h0M385 618.9h0M308.1 645.6h0M443.9 620.3h0M390.1 630.8h0M324.2 660.5h0M323.2 678.4h0M425.5 620.4h0M327.6 618.6h0M408.6 618h0M411 611.4h0M340.3 625.4h0M399.6 629.4h0M384.7 602h0M369.1 644.5h0M321.1 731.5h0M366.4 596.8h0M330.6 676.1h0M340.4 656.3h0M341.3 622.1h0M281.6 653.1h0M283.4 639.3h0M307.9 677.4h0M428.3 734.3h0M347.2 607h0M322.4 638.5h0M415.4 615.5h0M325.8 700.3h0M285.3 717.4h0M321.9 615.3h0M319.3 658.9h0M438.8 618.8h0M462.3 603.4h0M415 606.3h0M321.6 613.5h0M285.6 708.8h0M316.1 655.7h0M303.3 657.8h0M334.8 632.1h0M358.9 613.6h0M455.6 620.1h0M362.6 601.1h0M294.5 660.9h0M304.1 674.7h0M402.6 592.6h0M287.8 675.6h0M400.8 626.4h0M285.9 658.8h0M309 657.1h0M362.2 598.8h0M460.2 696.1h0M463.3 640.9h0M369.1 630.1h0M285.2 733.6h0M392 634h0M321.8 658.8h0M300.4 643.4h0M466.6 624.4h0M300.6 627.6h0M460.1 599.6h0M288.4 670h0M394.5 619.3h0M325.3 697h0M312 638.6h0M306.2 676.1h0M356.3 595.4h0M315.9 643.9h0M296.2 673.4h0M357.4 625.2h0M327.2 684.4h0M390.1 623.7h0M277.9 692.5h0M455.1 625.5h0M456.2 716.6h0M454.1 603.1h0M347 642.9h0M345.7 644.7h0M430.2 613.9h0M329.9 745.8h0M368.6 764h0M436.6 620.8h0M287.4 661.4h0M277.3 690.5h0M327.6 697.8h0M359.7 644.1h0M466.1 613.9h0M339.4 649.4h0M438.2 608.5h0M356.3 621.5h0M274.9 750.3h0M363.8 713.4h0M308.1 675.6h0M389.2 634.2h0M398.1 594.4h0M380.3 604.2h0M276.4 671h0M363.1 675.4h0M463.2 623.3h0M316.8 648.2h0M320.8 648.7h0M331.2 640.1h0M313.2 631h0M345.2 636.1h0M440 620.4h0M304.1 634.5h0M283.4 593.3h0M322.3 656.6h0M402.6 602.7h0M441.1 613.5h0M326.4 752.7h0M349.5 605h0M333.6 637.9h0M351.3 640.2h0M365.8 636.8h0M348.4 649.6h0M387.5 618.7h0M340.1 608.7h0M385.8 763.5h0M348.4 648.3h0M324.9 691.5h0M404.9 618.5h0M290 609.7h0M362.3 609.9h0M437.9 625.7h0M401 595.5h0M275.5 759.8h0M305 706.7h0M305.7 642.9h0M319.9 614.3h0M303.4 675.6h0M409 610.4h0M356.4 598.3h0M358.3 634.9h0M349.5 615.2h0M382 629.2h0M339 680.3h0M396.3 634.6h0M328.9 631.8h0M371.9 638.2h0M328.7 662.4h0M439.4 616.8h0M332.1 615.4h0M339.5 610.5h0M338.2 595.5h0M284.4 743.3h0M284.9 708.2h0M369.3 605.2h0M420.6 622.4h0M385.7 640h0M451.6 607.7h0M452.1 610.5h0M435.7 616.3h0M358.9 633.9h0M394.3 614.1h0M312.9 644.8h0M297.5 703.9h0M360.1 631h0M289.9 755.4h0M387.5 761.1h0M303.9 637.2h0M356.4 691h0M447.8 605.4h0M380.1 610.3h0M350.9 643h0M339.5 626.3h0M308.1 638.8h0M291.3 701.8h0M324.9 680.9h0M426.7 604.5h0M333.8 688.3h0M307.5 670.4h0M325 657.8h0M343 639.2h0M392.4 636.7h0M311.8 672.6h0M289.3 713.8h0M391.4 634.1h0M413.1 625.4h0M353.6 648.2h0M328 662h0M375.3 618.3h0M366.8 628.4h0M360.7 598.2h0M446 616h0M291.9 668.6h0M308 644h0M376.8 600.3h0M386.7 605.3h0M393.5 629.9h0M323.7 734.1h0M391.2 592.3h0M393.8 606h0M449.8 610.2h0M344.6 686.3h0M325.3 648.6h0M399 626.5h0M402 635.1h0M406.9 612.5h0M308.6 666.8h0M324.3 638.2h0M282.6 642.7h0M465 605h0M306.6 690.4h0M321.3 647.2h0M275.2 713h0M433.7 623.3h0M304.9 656.2h0M287 665h0M449.7 615.9h0M293.6 653.4h0M328.4 697.3h0M340.5 703.1h0M364.6 601.5h0M349.2 645.2h0M332.4 653.9h0M451.7 591.7h0M436.2 599h0M285.9 674.6h0M311.9 630.4h0M377.6 711.8h0M404.4 661h0M305.3 686.4h0M313.8 665.9h0M416.9 615.7h0M417.7 608.7h0M446.1 613.7h0M362.9 632.5h0M342.2 656.8h0M337.8 677.8h0M316.3 665.4h0M302.8 626.2h0M342.9 757.7h0M361.7 625.4h0M298.8 639.7h0M386.4 626.8h0M433.8 606.1h0M329 632.9h0M383 608.1h0M360.5 628.7h0M327.1 622.2h0M300.1 626.5h0M413.7 595.1h0M395.9 697.7h0M327.4 656.2h0M461 607h0M405.5 632.3h0M319.3 638.5h0M415.5 597.8h0M332.4 649.3h0M397.1 641.6h0M277.1 668.3h0M402 598.3h0M352.7 676.8h0M368.7 613.3h0M443.9 593.1h0M394.3 627.3h0M298.6 693.4h0M353.1 650.1h0M315.6 622.3h0M312.2 626.3h0M393.8 639h0M350.2 611.9h0M410 604.9h0M453.9 613.5h0M446.5 608.3h0M331.3 653h0M401.1 629.8h0M376.2 716.3h0M351.1 593.9h0M358 646.4h0M448.2 614.1h0M363.7 650.1h0M456.5 611.5h0M310.3 682.3h0M314.5 735.9h0M418.3 621.1h0M398.2 614.1h0M289.6 627.4h0M432 604.9h0M359.4 614.8h0M382.7 712.3h0M448.7 614.5h0M331.4 671.3h0M285.4 701.4h0M463.9 618.8h0M396.5 625h0M399.8 647.2h0M339.9 677.2h0M309.6 652.7h0M352.1 607.4h0M465.7 602.7h0M397.2 608.5h0M441.4 604.5h0M339.1 675.5h0M329.4 623.7h0M394.5 626.4h0M323.1 752.3h0M279 734.4h0M401.4 634.3h0M321.2 724.7h0M300.5 694.4h0M364.2 608.5h0M393.7 635.2h0M466.2 614.8h0M349.8 746.3h0M319.6 610.8h0M278.3 750h0M467.3 599.2h0M382.6 603.3h0M280.4 657.9h0M357.6 660.1h0M419.7 634.1h0M433.6 614.6h0M406.7 607.2h0M316.5 632h0M333 751.5h0M442.1 628.4h0M335.6 618.5h0M332.1 622.8h0M316 676.4h0M400 592.3h0M380 600.9h0M401.9 608.4h0M346.2 682.8h0M415.8 637.3h0M323.4 714.4h0M350.6 599.1h0M275.6 670.2h0M444.3 602.1h0M286.2 690.1h0M359.8 615.7h0M278.2 691.6h0M306.6 630.3h0M443.6 616h0M328.4 664.3h0M309.8 668.2h0M445.1 617.5h0M418.1 634h0M304.6 690.5h0M392.2 606.6h0M274.9 628.5h0M410.6 626.7h0M301.2 631.2h0M364 617.3h0M440.6 633.6h0M448.2 597.8h0M381.9 592h0M383.8 626.5h0M369.9 698.8h0M276.6 710.9h0M389.5 639.1h0M339.1 765.8h0M275.2 702.9h0M304.2 607.7h0M340.6 612.7h0M424 599.7h0M406 595.3h0M358.5 639.2h0M367.4 641.4h0M305.7 654h0M354.1 609.6h0M355.2 644.5h0M368.1 623.1h0M275.5 708.9h0M315 691.5h0M376 614.1h0M442.5 607.1h0M331.4 647h0M331.2 655.5h0M392.5 601.7h0M323.7 680.9h0M338.7 689h0M383.2 616.5h0M294.3 661.8h0M391.9 615.5h0M303 727.2h0M395.9 609.2h0M369.1 628h0M287.1 644.3h0M337.7 613.5h0M317.5 626.1h0M361.2 716.5h0M318 618.3h0M414 609.1h0M369 606.2h0M289.9 735.7h0M318.4 643.5h0M420 624.1h0M274.6 739.9h0M357.8 684.3h0M406.9 599.9h0M431 593.8h0M310 713.8h0M353.7 622.1h0M444.1 605.1h0M366.3 634.6h0M381.4 612.6h0M276.8 599.4h0M417.4 627.9h0M300.7 652.4h0M399.8 601.3h0M337.3 612.2h0M325.7 613.4h0M391.9 641.1h0M410.1 598h0M347 611.7h0M320.2 620.3h0M417.5 617h0M380.1 604.5h0M363.7 642.4h0M295.8 629.4h0M419.3 593.6h0M401.5 634.2h0M393.9 623.9h0M375.9 614.9h0M348.3 613.8h0M356.9 713.6h0M286.9 725.9h0M439.5 695.8h0M452.7 599.4h0M297.4 646h0M339.4 653.1h0M364.7 600.8h0M406.3 626.5h0M340 611.2h0M416.6 626.8h0M433 757.4h0M388.7 619.4h0M321.1 666.5h0M404.4 622h0M346.3 617.4h0M435.4 717.8h0M332 648.7h0M290.4 718h0M301.7 643.6h0M417.1 710.8h0M297.9 643h0M353.7 633.5h0M351.4 622.9h0M309.5 645.4h0M280 691h0M371.9 716h0M381.4 607.8h0M349.4 595h0M378 604.6h0M418.3 634.6h0M422.2 603.6h0M410.1 626.2h0M365.7 599.6h0M397.2 599.4h0M319.8 651.5h0M305.8 636.5h0M347.8 628.8h0M328.5 641.1h0M412.8 738.3h0M353.2 617.6h0M420.3 671.1h0M385 598.1h0M310.1 699.4h0M376.4 637.5h0M354.7 605.5h0M349.7 627.6h0M383.8 594.2h0M296.5 655.6h0M318.2 757.4h0M375.6 629.3h0M316.9 657h0M357.9 668.8h0M397.5 594h0M323.2 626.5h0M359.5 637.6h0M324.1 691h0M292.1 729.5h0M350.1 650.4h0M364.7 619.3h0M451.8 608.1h0M352.6 658.2h0M328.7 691.2h0M300.7 637.3h0M463.9 606.7h0M344.4 658.8h0M356.4 595.9h0M435.7 605.1h0M386.4 605.5h0M303.1 681h0M402.3 613.7h0M380.4 631.5h0M363.9 600.5h0M341.4 678.4h0M327.7 627.1h0M350.8 675.2h0M465.2 611.5h0M337.4 641.9h0M347.3 651.5h0M450.6 592.6h0M398.5 654.4h0M358.8 607h0M328.9 608.7h0M281.7 636h0M402.8 621.9h0M311.8 642.2h0M307.7 668h0M285.5 704.4h0M370.6 624.3h0M305.6 681.3h0M283 730.4h0M317.6 653.1h0M432.2 625.7h0M357 646.5h0M388.6 636.9h0M377.9 624.2h0M307.3 644.3h0M348.9 616h0M445.4 599.3h0M467.5 615.1h0M328.1 633h0M359.9 640.2h0M315.1 704.4h0M338.7 683.3h0M368.7 621.9h0M393.8 626.9h0M463.6 607.4h0M332.6 619.7h0M308.3 715h0M335.5 655.1h0M429.2 593.9h0M278.6 688.3h0M281.9 643.6h0M395.3 635.6h0M353.8 657.3h0M318.1 672.2h0M412.6 739.5h0M407 626.4h0M395.6 620.7h0M428 625.6h0M316.4 634h0M407.6 610.2h0M389.1 624.8h0M323.6 642.4h0M333.1 631.1h0M323.7 691.2h0M331.1 650.2h0M289.5 637.8h0M327.1 631.8h0M277 669.8h0M286.4 647.3h0M403.6 632.7h0M397.7 635.3h0M349.1 717.5h0M397.6 640.1h0M347.1 638.6h0M351.9 634.6h0M353.5 641.5h0M315.6 655.1h0M377.7 601.3h0M303.1 691.5h0M305.8 707h0M349.9 666.7h0M360.9 696.4h0M329.7 712.1h0M378.2 612.1h0M450.8 620.2h0M324.8 605.4h0M439.4 591.6h0M382.3 599.3h0M294.9 640.5h0M377.8 625.2h0M335.4 613.5h0M460.6 592.6h0M390.9 625.7h0M338.3 642.5h0M459.9 611.9h0M275 727.7h0M419.2 593.3h0M336.9 675h0M453.9 694.1h0M301 740h0M284.7 618.8h0M409.1 601.1h0M423 615.8h0M368.3 624h0M359.3 715.8h0M315.7 647.4h0M298 690.2h0M327.9 669.4h0M342 655.5h0M295.1 661.1h0M436.2 735.4h0M387.7 666.2h0M276.7 657h0M460.1 739.6h0M287.2 703.4h0M420.5 617.5h0M325.5 610.7h0M281.8 613.3h0M330.7 707.5h0M278.4 685.5h0M364.5 592.8h0M355.6 672.2h0M370.8 634.9h0M341 685h0M291.9 656.9h0M324.1 684.2h0M324.5 633h0M384.6 628.4h0M310.3 710h0M283.9 690.2h0M433.9 628.3h0M403.7 619.7h0M331.5 661.7h0M445.2 651.6h0M319.9 702.8h0M275.4 638.3h0M341.2 612.9h0M324.7 641.4h0M291.5 661.6h0M306.3 673.6h0M330.5 611.6h0M310 676.7h0M360.4 622h0M334.4 631.2h0M301.4 650.6h0M360.5 629.9h0M351.4 607.8h0M327.8 612.2h0M380.2 743.9h0M410.7 622h0M315.9 619.1h0M447.6 616.2h0M341.7 638.5h0M319.6 732.4h0M280.2 724h0M351.5 656.3h0M404.7 719.4h0M277.7 602.8h0M373 689.2h0M318.8 612.5h0M362.1 639.7h0M376.8 596.1h0M318.3 619.7h0M359.6 708.8h0M401.3 600.7h0M313.3 635.1h0M321.3 612.7h0M330.8 620.6h0M323.5 702.5h0M351.5 704.6h0M412.9 607h0M351.8 647.1h0M324.8 662.2h0M433.4 610h0M431.8 623.5h0M409.7 597.2h0M431.7 591.9h0M312 655.8h0M277.6 742.7h0M406.7 613.3h0M363.2 593.7h0M345.8 691.8h0M381.7 606.4h0M312.1 668.8h0M305 698h0M295.3 699.3h0M283.7 668.5h0M374.5 619.4h0M347.9 637.4h0M346.1 710.3h0M310.1 633.1h0M321.7 657.2h0M382.3 596.7h0M304 750.8h0M333.7 609.3h0M393.7 618.3h0M410.8 611.4h0M384.7 635.4h0M330.1 696.5h0M426.4 618.7h0M340.4 648.9h0M294 653.4h0M366 608.3h0M431.4 619.8h0M326.6 637.8h0M326.2 652.9h0M462.9 599.8h0M372.4 614.7h0M285.1 633.2h0M356.9 711.7h0M342.7 633.1h0M320.9 706.3h0M442.5 633.4h0M315.5 648h0M431.6 612.8h0M382.2 615.2h0M395.8 592.8h0M310.9 592.8h0M280.8 668.2h0M352.4 664.8h0M434.2 616.6h0M342.8 646.8h0M393.6 600.6h0M402.4 604.4h0M301.8 664.1h0M396 718h0M359.2 641.3h0M371.6 636h0M279.2 739.6h0M292.5 751.1h0M428.5 603.7h0M308.3 625.4h0M280.5 602.1h0M357.4 599.7h0M298.1 696.1h0M457.9 616.8h0M413.2 631h0M280.4 732.5h0M417.7 594.8h0M399.7 603.1h0M384.6 626.8h0M277.3 671.3h0M439.5 597.1h0M285.8 710.7h0M441 629.8h0M397.1 625.3h0M315.8 673.6h0M365.5 595.3h0M397 595.6h0M333.7 627.9h0M283.4 700.3h0M337.9 615.6h0M366.8 608.4h0M304.5 749.8h0M316.3 749.2h0M308.6 645.6h0M343.8 644.3h0M354.1 701.7h0M362 608h0M278.5 618.3h0M297.3 637.8h0M394 599h0M348.7 672.4h0M340 651.8h0M281.8 752.5h0M326.3 638.8h0M359.6 606.6h0M461.3 622.4h0M302.1 694.8h0M455.9 606.9h0M420.4 620h0M353.9 643.6h0M287 721.6h0M432.3 611.6h0M358.3 610.9h0M329 606.8h0M401.1 615.3h0M369.2 611.9h0M364 643.6h0M328.1 666.3h0M432.5 608.2h0M347.1 638h0M403.6 612.1h0M348.3 640.7h0M333.8 624.4h0M433 608.2h0M404.5 644.4h0M364.3 621.7h0M388.8 635.2h0M433 618h0M374.2 716.1h0M439.1 613.9h0M363.8 605.3h0M325.6 614.7h0M386.8 636.7h0M452.6 607.1h0M344.2 623.8h0M423.5 722.3h0M385 722.6h0M300.3 664.1h0M352.4 597.4h0M323.2 616.6h0M363.4 599.1h0M394.8 603.4h0M343.3 692.8h0M299.9 625.4h0M353 600h0M318.8 669h0M275.3 610h0M438.4 592.3h0M318.2 710.9h0M353.9 641.1h0M430.3 626.6h0M378.6 610.4h0M422.3 633.2h0M427.7 689.1h0M321.9 669.3h0M347.1 610h0M343.2 608.3h0M307.7 657.3h0M452.3 614.5h0M391.2 622.1h0M290.9 653.1h0M370.9 644.9h0M386.4 641.8h0M467.8 592.9h0M437.1 593h0M403.9 609h0M298.4 651.7h0M313.1 648.6h0M339.6 615.4h0M282.4 716.3h0M435.9 609h0M336.5 626.1h0M414 614.2h0M288.4 708.1h0M376 602.1h0M291.8 654h0M280.3 732.6h0M369.9 626.5h0M430.2 608.9h0M293.2 653.9h0M308.4 669.4h0M438.2 619.3h0M367 618.8h0M343.5 636.6h0M381.6 631.2h0M289 658h0M320.4 608.2h0M300.7 682.4h0M297.9 682.2h0M317.4 734.3h0M375.6 601.4h0M331 673.5h0M344.4 645.5h0M452.7 608h0M352.2 611.5h0M320.3 632.2h0M290.1 669.1h0M324.6 632.2h0M330.6 639.2h0M344 609.9h0M344.9 606.5h0M415 711.1h0M429.3 606.5h0M313.9 638.1h0M365.3 619.6h0M322.2 695.1h0M307.1 644h0M466 599h0M357.3 675.4h0M390.4 599.5h0M322.8 656.8h0M378.2 612.6h0M294 695h0M380.1 594.6h0M312.2 618.2h0M362.6 624.7h0M297.9 687.7h0M280.8 697.4h0M317.3 664.2h0M327.3 667h0M286.3 645h0M317.3 704.3h0M410.6 633.1h0M297.2 737.8h0M425 599.3h0M307.8 637.9h0M305.5 632.3h0M301.1 678.9h0M294.2 761h0M354.7 706.5h0M311.1 596.9h0M332.5 685.3h0M276.8 683.3h0M337.6 628.1h0M446.8 618.6h0M304.3 670h0M328 685.1h0M293.3 704.9h0M348.9 678.5h0M430.9 618.6h0M389.4 595.3h0M354.9 629.2h0M297.3 625.1h0M376 599.8h0M294.3 692.1h0M321.9 684.1h0M277.7 706.7h0M289.3 658.4h0M426.5 603.5h0M288.5 690.3h0M383.2 633.7h0M424.9 617h0M432 591.6h0M350 602.8h0M412.1 605.6h0M328.4 634.3h0M332 607h0M339.3 655.9h0M294.9 716.9h0M332.6 633.8h0M432.5 599.5h0M382.2 609.6h0M286.5 661.8h0M301.4 630.6h0M358 608.7h0M290.4 669.5h0M402.2 645.4h0M329.8 630.6h0M399.3 625.8h0M305.6 630.1h0M400.8 628h0M434.4 612h0M332.2 679.9h0M377.9 615.8h0M299.7 689.7h0M418.3 592.8h0M329.6 735.4h0M380.3 603.8h0M320.2 656.2h0M443.4 607.5h0M291.4 672.6h0M289.3 677.5h0M281.2 729.5h0M451.6 615.9h0M363.6 649.9h0M322.8 653.2h0M301.7 632.6h0M453.4 607.1h0M283 691.3h0M392.1 611h0M415 602.6h0M402.8 606.4h0M312.7 690.3h0M341.1 700.9h0M316.9 654h0M299.9 650.5h0M288.2 667.3h0M288.5 728.4h0M459.2 623.5h0M358.4 678.6h0M287.3 678.1h0M441.9 618h0M399.8 672.3h0M302 764.6h0M374.8 643.2h0M290.6 680.5h0M339.1 728.6h0M320.6 712.4h0M320.7 699.8h0M346 647h0M344.3 635.5h0M385.4 623.5h0M335.6 659.9h0M379.5 707.4h0M345.4 605.9h0M353.8 619.9h0M275.9 641.7h0M341.1 629.5h0M367.3 649.4h0M332.4 662.5h0M456.2 618h0M325.5 676.3h0M370.1 640.7h0M317.8 640.7h0M353.6 660.6h0M302 681.2h0M332 637.8h0M442.3 664.9h0M344.5 619.3h0M389.7 608.1h0M457.2 613.7h0M328 627.8h0M338.9 605.2h0M328.9 717.7h0M319.4 668h0M275.7 644h0M303 640.8h0M453.2 614.6h0M312.2 680.7h0M317.8 656.1h0M361.3 714.9h0M405.1 593.9h0M309.7 689.2h0M362.6 624.7h0M370.9 640.8h0M394 609.4h0M292.5 710.5h0M384.4 632.2h0M347.6 644.2h0M316.3 642.3h0M372.8 615.8h0M344.1 652.1h0M298.4 666.4h0M297 706.4h0M353.2 611.6h0M275.1 705.3h0M315.5 727.3h0M363.1 643.5h0M282.7 678.1h0M430.6 634.1h0M303.5 644.5h0M400.1 600.4h0M294.6 650.6h0M287.8 694.8h0M367.6 642h0M391.4 639h0M383 611.3h0M444.7 608.6h0M384.4 596.1h0M293.9 696.4h0M357 648.7h0M422.6 716.3h0M278.7 754.3h0M340.7 660.6h0M443.4 606.4h0M288.8 689.6h0M466.4 594.3h0M446.2 622.9h0M303.9 681h0M279.1 700.5h0M375.4 635.6h0M387 606.5h0M358.7 621.1h0M312.8 618h0M431.5 608.5h0M345.3 616.3h0M441.5 606.5h0M286.3 735.8h0M353.8 599.7h0M437.8 615.1h0M407.2 636.2h0M406.9 604.3h0M330.9 617.3h0M345.9 599.4h0M298.2 653.5h0M452.4 605.4h0M440 625.7h0M289.3 759.3h0M328.4 657.1h0M338.1 630.1h0M293.9 688.4h0M399.4 601.8h0M360.5 713.1h0M299.3 634.3h0M310.1 714.9h0M358.1 602.4h0M348.2 684.5h0M298.1 646.9h0M298 697.9h0M381.9 616.4h0M315.7 638h0M279.4 677.6h0M274.1 713.5h0M314.4 639.1h0M427.7 592.6h0M418.8 625.5h0M416.2 678.3h0M423.8 593.5h0M310.2 613.2h0M374.3 606.3h0M289.1 747.4h0M454.5 626.5h0M324.2 640.5h0M371 598.9h0M393 720.3h0M342.5 622h0M308.4 657.6h0M378.5 728.8h0M360.1 666.3h0M389.7 592.5h0M418.7 612.6h0M400.9 617.3h0M300.1 689.4h0M296.2 624.4h0M274.6 683.9h0M299.4 678.8h0M382.3 630.2h0M332.1 621.6h0M350 629.9h0M300.8 669.4h0M428.9 621.7h0M347.9 749.3h0M366.4 634.4h0M313.1 681.8h0M302.9 669h0M334.8 623.1h0M287.3 652.9h0M409.2 604.7h0M448 615h0M324.7 663.5h0M334 681.5h0M296.2 658.4h0M437.6 597.8h0M356.2 619.9h0M385 642.6h0M378.3 643.3h0M314.9 716.6h0M339.7 625.3h0M282.2 709.5h0M280 725.8h0M330.7 702.5h0M357.6 635.7h0M322.3 669h0M414.5 613h0M371.6 639.5h0M378.6 621.7h0M365.5 625.4h0M284 729.2h0M306.6 727.4h0M360.4 593.2h0M303.1 637.3h0M422.9 635.2h0M297.1 764.8h0M426.5 602.8h0M339.9 695.4h0M375.8 616.7h0M353.8 681.4h0M350.5 650.8h0M299.1 760.6h0M299.3 684.6h0M311 709.2h0M422.4 614.2h0M310.3 648.8h0M407.6 615h0M350.3 635.9h0M341.8 622.1h0M323.3 682.5h0M293.5 643.5h0M377.1 593.5h0M301.6 636.2h0M375.3 724h0M310.9 678.7h0M434.2 732.8h0M334.7 686.6h0M465.9 606.1h0M385.3 609h0M434.4 605.5h0M424.9 608.1h0M274.5 659.5h0M348.3 623.8h0M317.5 615.2h0M467.8 595.1h0M446.9 594.8h0M385.3 614.5h0M456 610h0M305.1 654.5h0M395.9 640.5h0M357.3 622.1h0M335.4 603.2h0M349.7 622.3h0M406.1 630.4h0M310.7 670.8h0M427.5 607.9h0M369.8 621h0M360.8 626.5h0M461 614.6h0M320.4 647.8h0M350 670.5h0M326.4 649.4h0M276.3 712.9h0M338.4 680.9h0M369 622.9h0M460.5 620h0M388.7 611.6h0M350.3 608.3h0M345.6 626.2h0M344.2 638.6h0M355.6 609.3h0M305.5 686.9h0M276.4 746.3h0M380.5 613.6h0M416.5 599.8h0M334.3 628.8h0M314.9 653.7h0M398.4 607.4h0M300.8 687.2h0M289 652h0M448.2 615.7h0M367.2 641.7h0M375.6 608.9h0M466.2 756.9h0M333.2 623.4h0M318.6 619.8h0M334.3 603.7h0M382.2 636.3h0M283.2 656.7h0M344.2 638.9h0M304.3 678.4h0M374.9 686h0M294.3 637.5h0M387.2 634.1h0M277.7 641.7h0M460.7 728.8h0M319.4 631.9h0M291.4 711h0M372.3 720h0M407.7 597h0M306.8 667.1h0M325.1 631.4h0M288.7 701.8h0M357.7 609.9h0M406.1 632.7h0M350.5 620.4h0M299.1 710.9h0M416.1 618.3h0M434.8 629.3h0M361.1 645.8h0M285.9 639.9h0M348.9 636.4h0M408.6 626.4h0M399.5 602.9h0M314 617.1h0M349.6 611.6h0M345 613.4h0M413.4 628.2h0M348.5 601.3h0M443.4 595h0M364.9 749.5h0M388.1 606h0M439.1 622.1h0M356.6 644.4h0M378.5 601.7h0M295.3 723.5h0M397.6 617.7h0M456.5 626.3h0M360.7 706h0M451 598.6h0M303.9 630.7h0M371.5 631.6h0M349.8 685.8h0M352.9 644.3h0M334.5 665.6h0M369.7 608.6h0M310.3 620.5h0M418 604.1h0M341.6 672.1h0M437.7 607.5h0M404.1 615.8h0M304.6 680.6h0M299.3 633.9h0M431.7 607.2h0M301.6 714h0M323.2 672.3h0M294.3 620.8h0M444.2 601.1h0M298 733.9h0M300.4 709.8h0M377.8 609.6h0M278.4 663.5h0M432.9 617.5h0M364.4 620.5h0M319.6 617.5h0M301.7 741h0M382.9 592.4h0M454.3 605.6h0M324.3 691.4h0M292.6 699.6h0M446.7 608.5h0M397 592.2h0M278.2 742.9h0M418.1 637.1h0M364.9 604h0M410.2 605.4h0M310.4 714.3h0M443.1 596.5h0M335.1 610.9h0M361.3 714.1h0M439.6 596.3h0M370.9 604.7h0M297.3 747.2h0M445.6 602.4h0M287.2 706.6h0M449.5 612.2h0M318.5 670.6h0M330 658.8h0M461.9 653.3h0M311.6 675.4h0M445.7 595.2h0M374.3 636.7h0M342.9 636.8h0M356 660.4h0M358.4 622.5h0M327.5 631.3h0M274.1 651.3h0M323.2 663h0M434.4 630.6h0M419.1 598.6h0M459.4 596.9h0M428.6 627.9h0M390.9 711.4h0M432.1 628.4h0M326.1 669.3h0M407.7 712.3h0M284.4 601.7h0M367 639.4h0M355.8 623.1h0M337.5 655.8h0M284.6 668.4h0M353.3 655.5h0M333.7 657.2h0M351.3 611.5h0M427.6 613.4h0M286.6 680.5h0M401.8 608.7h0M289.5 647h0M356.8 642.9h0M351.3 614.4h0M395.6 608.8h0M313.8 659h0M343.6 612.3h0M338.6 680.2h0M418.2 601.4h0M294.4 688.7h0M375.7 596.9h0M333.8 622.8h0M329.3 606.6h0M384.7 607.5h0M386.1 626.2h0M377.4 724.6h0M325.7 649.9h0M283.9 749.3h0M312.3 658.9h0M336.2 633.4h0M412.3 734.8h0M341.8 652.3h0M345.8 624.9h0M351.8 663.8h0M465.9 591.9h0M433.8 604.2h0M319.9 765.6h0M363.6 653.6h0M366.8 603.6h0M389.7 597.5h0M348.1 689.7h0M345 628.7h0M281.3 676.1h0M275.9 756.4h0M391.8 599h0M285 731.6h0M342.7 628.8h0M331.3 692.7h0M369.1 637.7h0M406.6 609.2h0M383.6 611.3h0M292.9 641.7h0M329.9 651.2h0M301.5 668.2h0M414 615.6h0M454.3 617.2h0M287.2 692.9h0M316 694.1h0M332.4 698.8h0M343.9 674.7h0M303.9 689.8h0M387.1 610.3h0M283.9 639.2h0M294.9 636h0M318 597.2h0M277.1 642.4h0M333.2 625.9h0M299.9 691.4h0M335.4 644.8h0M410.4 594.3h0M295.6 734.2h0M329.4 683.2h0M365 591.5h0M373.4 621.4h0M307 688.9h0M308.7 676.4h0M355.6 602.1h0M435.5 611.5h0M299.4 667.5h0M418.4 597h0M382.3 603.9h0M373.5 605.9h0M360.2 642.3h0M338.2 603h0M328.5 614.7h0M317.6 722.1h0M389.2 634.4h0M321.6 635.1h0M295.4 647.5h0M298.3 762.9h0M412.5 618.2h0M422.9 595.4h0M296.6 682.2h0M324.2 617.7h0M398.7 635h0M316.8 716.8h0M294.9 619.2h0M344.4 646.7h0M343 606.9h0M310.1 631.5h0M398.5 626.8h0M315.3 675.5h0M304.4 633.8h0M348.5 608.2h0M318.9 659.6h0M421.9 631.3h0M365.5 624.9h0M337.7 715.8h0M332.6 648h0M377.4 597.6h0M374.1 609.1h0M459.4 604h0M425.7 620.8h0M448.4 599.6h0M456.7 606.7h0M289.1 638.3h0M367.6 638.8h0M360.6 711.3h0M355.6 636.6h0M363.7 609h0M368.6 603.4h0M361.6 610.9h0M329.1 609.7h0M466.9 617.3h0M333.5 634.3h0M329.1 612.1h0M360.8 643.2h0M311.8 633.7h0M365.3 604.2h0M278.4 668.1h0M374.8 620.7h0M339.2 661.5h0M299.6 724.4h0M357.6 641.9h0M401.2 617.3h0M359.4 656.8h0M342.2 648.5h0M446.7 621.9h0M288.2 730.2h0M355.8 703h0M408.1 612.1h0M327.6 642.7h0M364.4 644.8h0M434.5 596.7h0M340.2 694.6h0M351.7 644.8h0M403 629.5h0M335.5 616.1h0M354.3 612.3h0M415.3 614.9h0M424 599.3h0M386.2 620.7h0M315.8 718.5h0M464.5 616.8h0M464.3 625h0M318.9 640.8h0M448.9 622.3h0M360.3 707.6h0M383 643.5h0M449.3 605.5h0M358.9 719.2h0M348.1 661.3h0M453.9 604.6h0M402.6 738.7h0M384.5 637.4h0M369.4 623h0M288.7 654.3h0M426.5 626.4h0M287.3 611.5h0M351.5 596.3h0M324 640.5h0M422.5 595.2h0M297.4 667.2h0M402.7 616.6h0M371.8 726.4h0M282.6 756h0M285.6 706.6h0M358.4 671.9h0M415.8 623.2h0M283.1 637.1h0M392 609.9h0M278.1 648.1h0M422.3 594.8h0M274.8 613.8h0M325.9 616.3h0M422.3 621.2h0M312.8 721.5h0M339.2 632.1h0M403.9 593.9h0M294.6 656.4h0M443.4 604.3h0M300.2 730.2h0M443.7 629.3h0M302.8 725.7h0M359.7 692.7h0M283 641.6h0M281 703h0M292.2 699h0M274.3 730.7h0M440.9 596.5h0M341.5 686h0M301 677.2h0M318.1 656.3h0M423.9 636h0M324.8 670.6h0M316.7 638h0M392.4 603.8h0M445.6 617.7h0M308 643.2h0M356.2 612.9h0M338.7 592.5h0M342.3 707.2h0M434.9 670.2h0M323.5 725.4h0M334.3 633h0M355 639.3h0M372.3 616.6h0M277.4 620h0M342 648.2h0M286.1 736.5h0M372.9 716.9h0M292.6 662.4h0M450.7 608.2h0M309.7 632.9h0M292.2 705.2h0M307.9 696.3h0M359 724.1h0M394.3 688h0M318.3 633.3h0M463.7 615.4h0M459.9 697.8h0M314.5 664.8h0M287.2 666.3h0M377 604h0M413.7 601.8h0M442.7 607h0M409 591.7h0M456.8 605.2h0M355.4 653.8h0M396.3 606.9h0M318.3 618.7h0M397.5 596.2h0M285.3 748.6h0M358.2 620.2h0M337.5 750.4h0M391.2 626h0M311.9 649.5h0M346.9 618.3h0M345.1 630.5h0M301 628.3h0M289.9 665.6h0M343.5 620.9h0M447.6 700.3h0M341.8 618.2h0M294.2 687.4h0M306.1 694.1h0M351.7 672.1h0M380.7 592.7h0M348.7 639.7h0M326.4 632.4h0M359.4 614.8h0M375 632.9h0M281.6 600.5h0M282.6 698.8h0M327.3 641.2h0M320.1 753.3h0M406.6 604.6h0M357.3 684.1h0M337.2 695.3h0M377 639.4h0M397.8 635.7h0M370.8 626.3h0M289.9 657.8h0M396.6 613.5h0M354.7 596.7h0M440.8 707.6h0M344.6 620.2h0M338.3 671.4h0M312.8 754.9h0M285 677.7h0M423 603.5h0M310.7 742.1h0M292.9 634.4h0M313.5 640.7h0M464.9 605.9h0M303.6 644.6h0M429 594.6h0M415.4 603.2h0M347.8 630.5h0M368.5 739.6h0M302.7 728.2h0M419.1 602.1h0M385.3 633.7h0M364.4 645.1h0M375.5 683.1h0M274 726.8h0M335.6 627.9h0M375.4 631.3h0M334.4 629.1h0M311.6 690.6h0M339.8 635.6h0M344.3 660.2h0M441.9 605.7h0M460.9 631h0M343.9 598.4h0M320.4 689.8h0M393.4 621h0M460.6 595h0M299.8 621.7h0M451.3 615.7h0M420.4 607.6h0M341.7 674.5h0M308.7 654.8h0M313.3 662.6h0M396.2 616.5h0M314.7 661.8h0M348.9 651.6h0M276.7 763.7h0M333.2 659.3h0M432.7 626.5h0M298.4 693.5h0M463.6 591.7h0M377.3 605.4h0M374.2 723.7h0M284.3 750.3h0M307.9 599.8h0M362.8 716.6h0M279 749.6h0M339.8 620.8h0M433.2 602.3h0M396.8 693h0M287.8 678.4h0M335.9 618.2h0M305.7 721.2h0M385.7 630.1h0M296.8 669.1h0M429.3 630.6h0M309.5 625.8h0M369.6 607.3h0M325.7 752.5h0M285.9 679.8h0M403.5 640.3h0M299 677.4h0M326.7 642.2h0M328.1 629.6h0M276.1 661.2h0M324.7 680.2h0M343.8 678.7h0M465.1 609.1h0M330.8 674.9h0M289.8 732.4h0M352 605.1h0M286.2 661.8h0M338.8 668h0M383.7 644.9h0M308.7 692.5h0M275.7 616.4h0M419.2 625.4h0M405.6 610.3h0M318.5 646.3h0M409.4 620.7h0M273.9 699.8h0M287.1 593.4h0M390.2 633.6h0M373.1 599.5h0M274.4 645.5h0M331 647.9h0M400.4 632.5h0M310.1 633.3h0M403.3 603.8h0M311.8 726.3h0M419.8 617.4h0M425.7 624.8h0M387.3 613.8h0M324.3 643.4h0M386.5 593.3h0M383.8 636.7h0M340.6 610.1h0M398.2 741.7h0M359.4 696.5h0M295 723.5h0M388.2 630.6h0M458 594.5h0M380.3 644.9h0M445.5 603.1h0M278.9 664h0M432.9 608.9h0M331.7 628.6h0M353.2 623.9h0M295.6 695.6h0M300.3 638.4h0M399.3 625.2h0M333.1 636.4h0M394.4 606.3h0M356.9 678.9h0M424.2 611.1h0M315.9 708.5h0M305.9 683.1h0M366.2 708.1h0M365.2 611.1h0M283.8 707.4h0M307 644.8h0M346.1 694.9h0M393.8 729.6h0M339.5 648.8h0M430 618h0M358.1 737.7h0M355.9 610.3h0M344.8 640.5h0M413.9 601.6h0M286.2 666.9h0M374.5 633.3h0M382.4 694.5h0M343 606.1h0M278.2 669.4h0M277.7 640.8h0M411.7 597.3h0M299.2 699.1h0M465.1 595.7h0M438.9 599.6h0M289.3 681.2h0M327.3 688.6h0M404.2 628.6h0M405.4 615.7h0M319.4 673.8h0M443.3 605.9h0M312 636.6h0M330.4 694.4h0M429 598.9h0M351.4 673.6h0M365 642.8h0M387.9 640.7h0M394.1 608.7h0M287.6 671.5h0M370.1 633.7h0M304.8 690.6h0M373.3 688.1h0M300.3 674.9h0M314.3 664.6h0M302.4 668.2h0M292.1 707.6h0M407.4 625.6h0M358.1 643h0M427.4 625.4h0M358 639.7h0M420.3 609h0M389.9 632.7h0M363.8 710.5h0M293.5 640.3h0M442.6 594.9h0M382.5 618.6h0M364.6 612.9h0M308.3 625.9h0M365 624.6h0M355.6 628h0M310 668.3h0M282.9 609.7h0M466.3 621.9h0M405.2 617h0M465.5 611.2h0M284.4 683.1h0M329.5 649.8h0M467 598.8h0M434.5 622.5h0M358.4 646.1h0M296.8 686.4h0M367.6 710.8h0M292.4 687.4h0M455.5 604.4h0M296.1 700h0M348.3 605.4h0M325 633.1h0M344.7 662.8h0M388.6 613.5h0M298.8 614h0M370.9 718.7h0M372.3 622.5h0M418.3 698.7h0M351.7 706.5h0M349.3 640.1h0M361.5 606.6h0M298.4 730.4h0M314.2 668.3h0M307.7 675.9h0M406.3 602.6h0M310.2 720.6h0M320.8 627.9h0M374.1 611.4h0M450 594.4h0M312.9 674.5h0M288.4 623.3h0M335.3 643.4h0M307.7 690.8h0M364.9 608.4h0M366.9 601.3h0M411.2 611.1h0M306.7 663.8h0M276.2 730.9h0M304.3 638.8h0M311.3 680.7h0M379 612.4h0M401.4 601.5h0M296 655.2h0M303.7 626h0M369.6 711h0M426.8 600.2h0M353.6 685.6h0M352.1 624.6h0M293.6 685.8h0M325.4 621.6h0M418.3 609.3h0M309.2 669.9h0M381.4 622.4h0M321.4 624.6h0M331.4 660.8h0M367.4 619.3h0M395.3 642.6h0M344.7 645h0M343.9 638.1h0M299.3 680.6h0M286.1 709.8h0M434.2 615.4h0M369.7 632.8h0M466.1 597h0M415.6 599.4h0M276.4 677.6h0M417.9 612.8h0M401.8 602.8h0M324.8 647.8h0M343 636.2h0M331.9 681.6h0M465.5 596.9h0M346 608.3h0M321 623.9h0M280.3 659.2h0M366.5 604.4h0M438.2 609.4h0M430.3 596.8h0M409.1 613.7h0M349.9 622.4h0M398 624.1h0M349.7 638.7h0M343.6 604.3h0M308.6 729.7h0M391.5 636.2h0M362.4 636.8h0M403.6 699h0M344.1 638.2h0M432.8 610.6h0M346.5 638.5h0M385.8 637.3h0M379.2 602.4h0M299.8 679h0M307.7 688.6h0M356.1 633h0M452.9 610.6h0M309.7 651.5h0M434.9 613.5h0M374.1 636.3h0M362.1 715.5h0M400.4 632.5h0M436.3 736.8h0M393.7 616.1h0M337.9 631.9h0M439 603.3h0M293 656.3h0M458.2 615.4h0M453.6 608.9h0M444.8 619.4h0M374 647.7h0M304.1 689.2h0M357.5 661h0M366.7 708.9h0M334.3 677.6h0M437.9 611.3h0M303.8 689.9h0M290.2 639.3h0M388.8 630.3h0M382.6 725.1h0M315 654.4h0M280 675.7h0M389.4 599.3h0M357.8 628.1h0M335.8 611.8h0M357.1 618h0M329.5 633h0M338.2 689h0M427.6 608.5h0M340.4 613.3h0M383 636.8h0M403.8 636.9h0M352.6 606.1h0M361.6 612.5h0M363.9 603.3h0M313.3 679.7h0M447.4 614.5h0M348.3 643.8h0M411.5 625.5h0M413.2 621.7h0M291.5 600.9h0M431.2 675.1h0M319.5 639.9h0M335.9 637.4h0M389.1 632.8h0M323.2 645.2h0M438.6 617.4h0M286.2 627.1h0M334.6 606.9h0M280.7 652.5h0M403.3 595.3h0M442.7 607.5h0M362.8 619.4h0M302.9 641.4h0M340.8 604.3h0M416.8 628.2h0M370.9 616.7h0M321.3 592.4h0M281.6 662.2h0M336.3 736.7h0M298.7 709.3h0M435.6 610.5h0M395.6 606.6h0M276.6 760.3h0M424.7 677.6h0M340.9 683.4h0M316.9 653.1h0M376.1 632.1h0M289.3 664.7h0M411.3 601.4h0M450.5 593.9h0M343.1 666.6h0M301.8 670h0M410.5 614.6h0M326 666h0M446.5 625.2h0M298.9 703.8h0M338.3 671.9h0M412.7 634.8h0M348.5 602.4h0M388.4 602.2h0M390.4 617.4h0M427.3 625.8h0M422.2 624h0M400.6 592.2h0M335 764.4h0M399.2 622.7h0M314.2 663.1h0M361.9 697.8h0M373.9 626.8h0M389.5 720.6h0M373.4 596.4h0M442.2 619.1h0M299.9 689.7h0M393.7 605.5h0M377 612.6h0M367.6 624.4h0M298.8 626.9h0M408.7 616.9h0M327.4 656.9h0M274.1 712h0M435.9 597.5h0M411.1 616.5h0M407.9 598.3h0M368.6 639.3h0M427.8 594.1h0M394.5 623.2h0M412.8 701.1h0M411.5 616.2h0M285.5 659h0M305 629.4h0M311.9 634.7h0M405.3 619.2h0M325.1 648.6h0M284.9 641.7h0M388 712.4h0M343 615.9h0M293.4 715.1h0M333.7 619.3h0M285.9 732.1h0M407.2 618.1h0M273.7 670h0M458.9 599.3h0M416.9 637.8h0M448.9 593.1h0M399 686.5h0M335 662.5h0M442.5 610.1h0M290.5 744.3h0M348.5 679.8h0M362.4 598.9h0M340.4 634.5h0M400.5 614.1h0M288.8 731.9h0M416.3 608.1h0M332.7 718.6h0M428.2 629h0M385.9 613.6h0M402 595.6h0M302.8 625.3h0M390.8 629.5h0M368.4 619.7h0M342 670h0M349.6 614.5h0M370.4 651.1h0M353.2 640.6h0M459.6 604.8h0M368.5 727.9h0M429.7 599.5h0M464.1 592.5h0M445.3 616.2h0M444.6 615.7h0M353.6 629.4h0M288.6 635h0M406.1 592.4h0M401.1 620.1h0M333.6 685.1h0M321.6 674h0M355 626.3h0M277.8 667.9h0M319.9 657.6h0M342.2 612.5h0M411.9 619.5h0M318.4 613.6h0M402.8 594.3h0M395.7 631.9h0M442.2 595.1h0M289.6 762.1h0M356.8 660.4h0M366.1 625.7h0M359.2 618.7h0M324.6 660.9h0M387.4 619.4h0M404.5 606.5h0M439.3 609.4h0M339.1 692.5h0M372.7 596.6h0M372.6 638h0M379.8 621h0M429.6 626.2h0M459.3 609.9h0M299 597.2h0M373.2 632.8h0M284.2 694.1h0M349.2 642.8h0M331.5 719.1h0M360.8 612h0M339.5 642.5h0M323 597.2h0M388.7 592.7h0M375.8 624.5h0M380.2 632.7h0M336.9 663.9h0M345.6 633.3h0M312.6 734.5h0M350.5 600.2h0M405.4 630.5h0M279.9 659.8h0M414.1 591.5h0M463.6 655.4h0M356.9 702.1h0M341.5 656.4h0M413.7 632.4h0M292.1 712h0M381.6 652.7h0M291.5 669.6h0M279.2 657.1h0M319.2 655h0M302.1 666.9h0M275.5 621.7h0M281.2 634.7h0M282.6 621.5h0M456.6 600.9h0M302 649.6h0M337.2 654.3h0M450.8 591.5h0M300.2 669.5h0M291.5 623.6h0M349.1 658.1h0M293.2 695.1h0M342.8 654.5h0M422.4 610.9h0M299.4 762.4h0M343.1 652.5h0M324.9 753.8h0M359.5 687.6h0M285 732.3h0M308.5 625.3h0M364 623.9h0M462.9 606.9h0M448.8 753.2h0M416.9 623.6h0M291.7 675.7h0M392.7 637.5h0M338.4 686.8h0M286.4 709.8h0M367 634.8h0M287.4 619.7h0M301.6 638.8h0M431.5 601.1h0M401.1 603.9h0M334.2 647.3h0M313.4 640.4h0M291.5 698.4h0M386.1 633.6h0M278.6 674.3h0M340.6 606.2h0M342.4 644.1h0M457.7 615.7h0M298.8 685.1h0M309.4 677.1h0M406.2 641.7h0M299.8 747.2h0M415.9 613h0M343.3 653.3h0M410.9 629.9h0M321.4 656h0M439.8 623h0M375.5 591.6h0M400.7 599.5h0M388.9 643.9h0M301.2 656.2h0M313.3 617.2h0M366.7 636.2h0M450.7 610.2h0M344.5 699.8h0M391.7 643.7h0M366.6 594h0M451.5 598.2h0M285.7 645.4h0M412.2 693.1h0M279.9 696.4h0M293.7 661.3h0M400.5 602.5h0M320.6 698.6h0M338.8 645.1h0M377.6 626.1h0M320.8 671.2h0M308.8 691.2h0M310.2 654.2h0M321 715.6h0M435.8 594.1h0M409.3 599.6h0M353.8 684.4h0M280.2 710.5h0M378.8 604.1h0M304.6 651.4h0M315.8 682.7h0M306.3 622.9h0M465.1 619.3h0M315.6 699.9h0M429.6 596.7h0M386.2 598h0M300.4 653.6h0M320.7 638.2h0M275.2 666.1h0M388.1 630.2h0M432.2 600.6h0M362.4 653.7h0M379.1 718.4h0M275.2 744.8h0M280.4 719.9h0M359.9 626.5h0M290.5 636.1h0M388.9 631.7h0M424.6 591.5h0M458.5 623.3h0M440.6 619.2h0M333.2 669.6h0M277.3 692.2h0M378.4 627.1h0M344 682.2h0M340.2 622.6h0M437 620h0M457.5 594.7h0M353.1 622.2h0M442.4 615.4h0M328.2 656.1h0M388.2 599.8h0M461.5 622.2h0M449.8 597.5h0M431.3 631.3h0M362.3 608.7h0M441.6 612.2h0M461.8 615.4h0M414.7 619h0M325.7 660.4h0M386.5 608.3h0M339.4 642.2h0M358.3 643.1h0M303.4 749.3h0M299.5 715.9h0M396.9 619.5h0M397.3 604.2h0M383.3 595h0M299.4 653.1h0M331.1 609.3h0M358.8 709.7h0M278.4 687.9h0M288.9 715.5h0M334 618.8h0M277.7 703.2h0M344.4 648h0M337.1 625.6h0M292.8 657h0M339.7 685.2h0M404.7 600.7h0M295.7 699h0M368.2 750.6h0M361.4 737.2h0M409.8 634.7h0M323.2 670.9h0M366.8 591.6h0M412 616.1h0M352.7 639.6h0M322.7 658.3h0M381.6 626.7h0M395.5 620.7h0M305.2 603.6h0M349.3 597.6h0M396.3 612h0M325.2 669.8h0M338.3 700.4h0M276.7 762.7h0M296.9 640.9h0M309.5 731.6h0M329.6 631.9h0M374.6 647.6h0M281.6 640.9h0M417.9 592.3h0M415 616h0M351.9 704.3h0M312.2 658h0M460.7 594.9h0M410.5 617.2h0M310.3 650h0M463.4 616.2h0M379 606.1h0M461.7 608.8h0M329.3 649.7h0M281.7 748.1h0M397.6 729.6h0M331.8 656.5h0M421 609.3h0M307.8 668.2h0M399.6 617.4h0M412.3 620.8h0M335.9 629h0M340.5 692h0M296.6 732.6h0M334.7 644h0M289 680.5h0M311.9 675.3h0M371.1 596h0M395.6 608.9h0M458.2 617.1h0M464.8 612.3h0M307.3 646.8h0M377.1 745.8h0M355.5 606.6h0M424.6 605.7h0M406.7 618h0M454.2 610.2h0M301.1 700.2h0M370.4 630h0M300.9 635.4h0M321.8 624.6h0M410.7 614.2h0M316.2 670.5h0M407.1 600.5h0M325.3 595.4h0M326.2 649.3h0M313.3 673h0M323.3 698.4h0M393.4 625.9h0M439.9 611.6h0M462.1 594.8h0M302.8 720.8h0M330.6 654.1h0M355.3 633.5h0M412.9 595.8h0M436.7 602h0M351.6 639.7h0M408.4 608.1h0M341.9 605.1h0M280.9 719.3h0M330.1 651.9h0M297.2 648.3h0M306.2 690.4h0M413.2 620.8h0M398.4 621.9h0M377.7 715.4h0M331.2 643.6h0M373.3 635h0M324.8 680.6h0M393.5 614.5h0M361.3 613.2h0M420.8 605.1h0M314 630.1h0M414.2 610.9h0M274.8 642.5h0M385.8 610.8h0M329.9 657.7h0M301 682.4h0M280.2 655.4h0M441.8 609h0M410.7 592.2h0M349.7 693.7h0M445.1 611h0M362.3 599h0M336 632h0M295.2 678.8h0M438.3 615.5h0M439 592.3h0M298.7 718.4h0M410.7 599.1h0M363.2 648.1h0M319.3 654.5h0M336.6 670.5h0M336.9 654.9h0M311.5 639.6h0M412.8 596.4h0M376.1 626.6h0M399.6 624.4h0M290.4 635.8h0M298 734.9h0M324.8 637h0M381.6 722.1h0M276.3 714.6h0M315.1 667.3h0M301.4 645.3h0M428.1 619.4h0M400.3 598.1h0M467.3 593.4h0M426.9 615.7h0M292.4 725.8h0M397.7 631.8h0M466.1 595.6h0M445.3 602.3h0M340.6 599.6h0M316.1 669.1h0M347.6 671.9h0M313.5 687.1h0M410.8 607.4h0M312.3 669.5h0M375.4 616.2h0M309.9 668.3h0M362.8 641h0M378.1 709.2h0M287.6 644.4h0M336.5 651.3h0M332.6 602.3h0M433.1 616.8h0M458.5 601.9h0M318.7 664h0M435.1 604.4h0M308.5 653.8h0M351.4 617.2h0M383.2 627.6h0M393.4 629.2h0M356.5 722.5h0M364.9 632h0M354.9 643.4h0M310.6 660h0M355.2 604.2h0M384.8 627.7h0M337.3 641.1h0M395.6 594.5h0M433.6 629h0M391.2 603.6h0M304.5 643.6h0M339.9 656.5h0M277.8 688.6h0M304 665.6h0M302.1 659.9h0M445.5 615.9h0M317.9 657h0M382 604.5h0M417.5 627.9h0M285.6 737.6h0M418.5 600.5h0M393.5 610.6h0M330.6 655.8h0M338.2 618.4h0M453.1 617.1h0M354.8 617.4h0M339.8 609.4h0M329.8 689.7h0M330.5 647.1h0M430.5 612.3h0M351 690.1h0M466.1 596.2h0M308.8 645.8h0M322.7 596.5h0M433.9 704.4h0M343.8 614.8h0M287.6 633.1h0M333.5 662.2h0M289.9 681.5h0M292.6 636.6h0M349.9 689.6h0M345.6 660.7h0M442.7 621.2h0M346.6 636.8h0M317 712.2h0M294.7 645.3h0M392.8 627.3h0M369.2 642h0M303.4 631.7h0M307 652.1h0M400.6 679.9h0M306.3 666.4h0M315.9 685.9h0M299.6 698.9h0M448.6 601.3h0M344.8 658.8h0M398.5 605h0M302.8 664.6h0M400.4 593.3h0M443.1 599.2h0M429.2 626.1h0M402.4 599.8h0M290.4 673.1h0M307.1 730.5h0M340.4 686.8h0M329.8 634.3h0M325.2 619.5h0M450.1 623.4h0M339.1 664.4h0M331.1 618.4h0M286.3 676.3h0M363.2 651.1h0M287.7 667.4h0M460.4 641.7h0M331.3 618.4h0M443.2 625.1h0M329.4 611.3h0M420.8 634.2h0M314.7 623.3h0M324.1 677.6h0M306.1 652h0M382.9 643.1h0M386.2 621h0M307.1 659.7h0M339.7 635.7h0M410.5 592.7h0M362.7 643.5h0M430.2 592.7h0M401.9 612.6h0M363.1 644h0M387.5 752.1h0M277.6 724.6h0M291 715.4h0M281.9 700.7h0M445.9 618.5h0M323.2 649.3h0M312.9 622.6h0M462.7 670.2h0M410.3 601.6h0M338.4 627.9h0M316.2 592.9h0M313 678.7h0M312.2 659.5h0M291.5 669.7h0M321.6 672.3h0M343.5 621.5h0M344.1 632.3h0M372.4 605.8h0M350 631.2h0M346.8 632.5h0M299.9 685.4h0M303.9 728.6h0M301.4 749.1h0M466.5 599.1h0M351.9 598.9h0M421.2 616.9h0M350.6 631.3h0M282.7 689.4h0M284.3 671.8h0M335.4 727.6h0M386.6 607.8h0M443.7 729h0M406.8 620h0M441.7 600.6h0M281 704.3h0M329.8 626.6h0M301.1 689h0M306.8 706h0M366.8 606.2h0M419.1 609.6h0M418.9 617.5h0M287.3 727.6h0M291 648.7h0M332.8 682.4h0M286.5 661.9h0M447.7 615.3h0M319.2 645.7h0M370.5 617.6h0M274.4 664h0M330.7 657.1h0M413.2 640.6h0M424.6 603.5h0M390 616.6h0M365.4 750.6h0M359.6 696.2h0M298.9 644.8h0M359.7 712.1h0M291.7 669.3h0M344.7 700.2h0M336.7 649.8h0M279.7 742.4h0M325.8 692.7h0M288.7 705.5h0M285.1 705.1h0M389.7 636.6h0M306.9 682.4h0M413.5 653.8h0M413.7 592.7h0M309.4 724.6h0M326.1 638.9h0M309.5 655.8h0M467.2 600.9h0M397.5 614.7h0M326.6 621.8h0M433 600.8h0M312.1 599.7h0M396.2 607.3h0M289.8 641.1h0M401.5 632.3h0M360.9 600.4h0M330.9 702.6h0M279.9 712.7h0M454.2 611.5h0M416.1 608.8h0M320.4 618.5h0M294.4 681.8h0M355 603.1h0M428.2 616h0M454.2 604.4h0M319.4 649.9h0M280.6 652.9h0M335.3 634.1h0M342 624.7h0M285.7 706.5h0M461.2 605.3h0M324.8 631.1h0M307.7 683.5h0M361.3 604.8h0M402 631.5h0M345.6 605.8h0M362.1 631.4h0M290.3 695h0M417.6 606.7h0M338.3 657.2h0M457.5 608.7h0M449.9 749.5h0M437.9 615.1h0M455.1 614.3h0M274.2 756h0M300.5 678.9h0M354.5 597.8h0M337.5 639.5h0M336.5 642.9h0M298.1 649.1h0M345.5 639.4h0M341.4 655.1h0M337.2 688.4h0M275.3 692.9h0M296.5 653.6h0M331.7 609.8h0M333.2 742.9h0M332.4 630.3h0M444 593.4h0M281.8 647h0M336.9 622.6h0M291.5 656.9h0M407.8 612.5h0M439.6 600.7h0M314.9 621.5h0M343.1 622h0M427.3 631.9h0M335 647.6h0M307.5 705.7h0M366.5 723.5h0M311.7 629.6h0M435.9 612.1h0M303.1 672.9h0M348.3 646.9h0M409.6 642h0M335 645.3h0M279 754.7h0M303.9 630.2h0M435.5 620.1h0M342.2 636.4h0M320.3 612.6h0M363.3 685.1h0M420.8 619.1h0M358.1 763.2h0M283.4 616.7h0M358.3 695.8h0M396.3 652h0M409.6 599.7h0M345.3 649.2h0M392.9 678h0M285 645.6h0M285.1 701.3h0M362 725.3h0M363.4 706.6h0M323.5 753.7h0M376.8 690.8h0M391.6 692.4h0M414.8 687.8h0M364.2 729.4h0M366.7 715.6h0M364.6 713.9h0M379.6 714.1h0M379.7 725.1h0M337 729.4h0M373 697h0M396 701.9h0M363.4 722.2h0M345.8 712.3h0M384.4 712.4h0M366 714.4h0M321.1 736.2h0M356.7 723.5h0M386.5 694.9h0M354.7 732.8h0M354.7 707.4h0M381.8 694.5h0M348.6 715.3h0M376 719.5h0M359.2 723.6h0M367.3 739.2h0M388.3 692.9h0M378.4 716.4h0M367.9 705.1h0M364.7 723.4h0M367.7 704.1h0M367 702.9h0M326.2 743.8h0M383.5 707.5h0M399.6 710.7h0M367.1 706.8h0M355.8 705.8h0M362.9 715.8h0M372.8 721.9h0M329.2 748h0M358.2 728.6h0M361.9 706.2h0M376.1 699.6h0M370.5 705.1h0M355.9 722.8h0M402.1 697.5h0M372.1 728.6h0M363 713.4h0M347.3 729.3h0M362.7 709.5h0M328.5 738.7h0M364.1 711.6h0M341.2 719.9h0M362.1 732.1h0M358.5 702h0M373.4 704.7h0M404.9 684.6h0M363.9 718.2h0M369.5 712.8h0M363.8 713.7h0M352.1 720.1h0M339.8 726.8h0M349.7 721h0M355.2 720.5h0M370.6 708.1h0M367 716.9h0M357.6 718.8h0M361.8 699h0M373.5 704.3h0M299.7 765.8h0M346.7 737.5h0M345 726.7h0M372 701.8h0M345.3 727.5h0M394.5 707.1h0M391.4 701.5h0M378.3 717.9h0M370.2 703h0M375.7 702.6h0M349.8 727.2h0M367 723.5h0M366.9 709.4h0M360 712.5h0M364.6 729.4h0M369.6 708.1h0M355.2 715.6h0M353 707.3h0M373.7 706.4h0M381.5 714.5h0M364.6 704.5h0M346 737.3h0M372.2 695.4h0M352.4 735.9h0M375.7 730.2h0M378.1 716.5h0M360.2 713.7h0M323.9 713.9h0M388.3 708h0M360.2 730.1h0M345.4 745.9h0M381.1 722.6h0M340.5 747.6h0M382.6 707h0M350 729.4h0M365.7 708.2h0M333.7 725.1h0M360.1 731h0M394.1 713.8h0M365.6 699.2h0M344.6 716.7h0M366.3 729.4h0M358.6 715h0M377.3 714.9h0M376.8 697h0M345.7 723.5h0M378.5 708.2h0M356 742.2h0M353.5 721.8h0M358.1 711.1h0M363.6 716.9h0M370.4 715.1h0M349.6 715.7h0M382.8 700.8h0M386.2 705.7h0M412.2 682h0M332.4 734.2h0M395.7 715.1h0M399.2 699.2h0M388.1 688.8h0M349.4 716.1h0M382.1 718.2h0M367.6 718.5h0M354.7 718.8h0M375 725.7h0M376.2 713.7h0M387.8 707.2h0M360.8 737.7h0M362.7 717.6h0M366.7 721.2h0M362.9 721.2h0M392.1 688.7h0M337.6 748.4h0M373.1 717.5h0M375.7 704.3h0M359.2 700.8h0M363.3 717.6h0M339.6 725.3h0M363.6 719.9h0M368 728.4h0M381.6 712.8h0M330.1 734.8h0M365.8 710.7h0M365.3 708.9h0M348.6 726h0M364.1 712.7h0M368.2 723.7h0M377.3 715.8h0M375.6 709.4h0M367.6 733.6h0M370.9 720.1h0M346.3 713h0M341 728.7h0M347.5 736.3h0M355 717.4h0M392.5 693.1h0M370.2 741.3h0M373.2 711.3h0M363.6 730.5h0M374.5 683.2h0M366.1 718.1h0M369.1 699.2h0M373.6 728.8h0M381.2 694.1h0M367.8 706.1h0M365.9 683.8h0M383.6 706.4h0M379.3 693.8h0M356.1 710.6h0M376.4 711.1h0M405.6 697.1h0M328 745.4h0M374.3 721.5h0M375.4 701.1h0M367.1 727.4h0M354 725.8h0M353.7 736.6h0M388 701.6h0M346.7 723.6h0M361 715.4h0M363.4 701.3h0M337.9 724.3h0M375 696.3h0M372.2 720.4h0M328.7 719.5h0M333.2 742.6h0M369.8 709.6h0M345.2 729.2h0M338 738.6h0M363.9 715.7h0M383.7 690.8h0M345.2 733.2h0M378.5 695.3h0M343.5 727.8h0M369.9 703.3h0M391.4 720h0M358.5 713.5h0M395.7 679.3h0M388.7 709.8h0M338.9 740h0M387 695.2h0M316.6 739.2h0M392.1 684.8h0M374.3 694.3h0M349.6 716.9h0M362.9 721.4h0M359.3 709.2h0M360.5 716h0M352.8 716.9h0M351.9 726.7h0M402.1 690.1h0M362.8 706.8h0M359.8 734h0M358.9 723.7h0M375.5 701.4h0M386.6 708.1h0M369.4 702.5h0M355.8 700.3h0M365.3 715.9h0M356.9 724.1h0M333.6 728.5h0M336.4 735.2h0M358.9 729.6h0M350.4 729.8h0M362.9 718.8h0M382.8 718.7h0M378.9 690h0M365.3 702.6h0M362.3 706.4h0M382.5 710.5h0M357 708.6h0M325.1 726.1h0M358.6 724.6h0M382.9 712.7h0M343.5 727.6h0M378.6 710.2h0M351.7 708.9h0M391.8 694.3h0M332.3 739.6h0M363.4 712.7h0M352 709.1h0M383.2 699.7h0M323.9 738.5h0M312.7 751.1h0M347.4 728.9h0M373.7 707.2h0M405.1 688.6h0M373 709.5h0M354 713.9h0M386.6 707.8h0M387.7 692.9h0M348.5 723.9h0M363.6 714.5h0M328.8 738.3h0M369.5 716.7h0M357.2 719.9h0M390 711.4h0M365 715.1h0M368.3 722.1h0M367.6 715.2h0M386.2 694.4h0M345.2 727.6h0M398.6 697.9h0M340.4 741.5h0M369 715.5h0M332.6 730h0M357.7 728.9h0M343.3 720.2h0M340.2 740h0M359.8 726.8h0M364.4 721.9h0M351.6 730.5h0M350.1 717.3h0M375.1 695h0M367.8 717h0M368.8 713.4h0M379 698.8h0M398.2 708.3h0M368.9 712h0M338.9 723.4h0M352.6 725.9h0M384.9 684.9h0M381.9 705.7h0M371.6 712.9h0M350.6 721.5h0M371.9 723.3h0M366.7 729.2h0M384 700.1h0M377.6 720.5h0M339.2 724.4h0M384 711.2h0M347.2 717.3h0M380.3 718.8h0M351.2 715.1h0M388.8 708.1h0M338 724.3h0M364.2 726.7h0M377.3 706.9h0M342.7 757h0M358.6 737.7h0M395 701.1h0M367.4 705.1h0M338.7 723.2h0M337.7 732.2h0M346.2 743h0M396.2 667.6h0M341.9 737.8h0M366.3 710.7h0M362.7 721.1h0M357.6 727.1h0M393.4 709.8h0M398.6 695.4h0M364.3 697.3h0M355.1 711.7h0M395.3 715.3h0M355 717.7h0M353.3 722.3h0M352.8 733.3h0M366.7 731.6h0M376.9 703.1h0M357.2 730.2h0M347.7 708.5h0M354.4 713h0M400.5 690.2h0M341.8 706.3h0M387.7 705.1h0M361.8 714.7h0M370.4 719.6h0M364.1 710.3h0M355.8 697.1h0M350.5 720.7h0M348.8 723.6h0M375.3 706.3h0M338.7 736.1h0M384.7 711.7h0M380.6 715.9h0M348.2 697.8h0M348.7 712.8h0M369.4 719.3h0M356.4 731.1h0M343.1 736.6h0M342.3 722.8h0M343.4 732.7h0M388.7 692.6h0M359.7 724.4h0M349 726.6h0M353.8 712.7h0M345.5 739.8h0M357.5 711.5h0M383.2 703h0M337 721.8h0M358.1 712.9h0M363.5 702.6h0M336.4 732.3h0M373.7 704h0M419.9 701.5h0M357.9 710.8h0M366 709.6h0M365.5 719.8h0M356.1 701.6h0M394.4 686.9h0M366.1 722.3h0M367.9 715.5h0M368.7 701.2h0M376.6 717.9h0M367.6 727.2h0M392.3 694.9h0M383.5 705.8h0M384.6 699.5h0M329.2 685.7h0M328 704.6h0M316.8 702.8h0M326.5 710.3h0M325.9 706.3h0M328.1 709.4h0M319.8 696.7h0M339.8 718.8h0M324.7 689.1h0M334 729.8h0M331.9 700.7h0M346.1 712.3h0M347 701h0M334.9 693.6h0M335.1 696.1h0M305.8 687.6h0M355.8 700.9h0M345.6 700.5h0M332.7 689h0M317.1 701.8h0M323.1 696.9h0M321.3 714.1h0M349 709.9h0M352.5 683.2h0M341.3 695.6h0M348.4 715.6h0M358 693.2h0M350.7 698.7h0M331.8 699.2h0M333.3 718.2h0M321.3 702.5h0M328.4 693.7h0M356.7 694.3h0M302.5 706.3h0M343.2 689.5h0M338.2 701.1h0M333.8 693.1h0M335.1 701.1h0M326.4 708.6h0M337.9 702.1h0M343.4 694.2h0M326.7 714.9h0M336.2 687.4h0M323.7 710.7h0M335.3 681.5h0M328.4 697.4h0M335.1 706.2h0M353.2 680.7h0M359.9 699h0M363.6 685.7h0M344.4 707.1h0M349.4 712.9h0M346.7 706.3h0M339.2 690.1h0M344.6 690h0M336.4 698.8h0M336.7 685h0M355.4 699.2h0M332.9 691.1h0M321 704.9h0M326 705.2h0M343.1 702.7h0M331.6 690.5h0M365.1 704.8h0M323.5 702.5h0M369.8 697.8h0M341.2 704.9h0M318.2 709h0M341.2 674.6h0M337.2 687.1h0M351.9 678h0M317.1 702.7h0M327.9 706.7h0M344.3 680.5h0M331.9 706.8h0M325.7 712.6h0M342.7 701.2h0M338.3 706.2h0M351.1 690.3h0M351.2 693.7h0" stroke="#bebebe" stroke-width="2.9" stroke-linecap="round" fill="none"/>
<path d="M400.9 716.1h0M385.4 718.2h0M383.4 710.9h0M399.9 696.6h0M389.8 724h0M385.5 709.8h0M392.7 713.4h0M396.4 698.6h0M390.4 717.4h0M399.9 700h0M396.5 722.1h0M372 732.6h0M397.6 699.5h0M401.2 689.7h0M396.9 714h0M376.4 721.7h0M374.8 712.8h0M380.6 699.3h0M371.1 723.7h0M400.4 717.7h0M394.1 715.5h0M396.4 708.8h0M390.3 689.4h0M375 737.8h0M393.1 709.9h0M397.4 723.9h0M386.9 716.9h0M389.3 710.4h0M376.3 713.3h0M379.4 725.4h0M398.8 693.7h0M375.9 730.4h0M391.8 703.7h0M388.2 698.9h0M394.3 701.1h0M398.6 717.1h0M378.9 728.7h0M398.1 717.8h0M384.9 722.6h0M398.9 695.6h0M385.7 725.4h0M396.7 706.5h0M390.9 707.4h0M377.5 725.7h0M392.3 726.7h0M386.6 722.9h0M388.4 713.2h0M384.5 710.8h0M395.2 731.5h0M389.2 708h0M380.5 714.3h0M400 701.3h0M394.7 710.3h0M395.2 721.2h0M401 716.3h0M384.3 715.8h0M390.3 723.8h0M379.6 710.9h0M391 709.8h0M372.4 728.7h0M391.5 704.1h0M390.8 717.8h0M382.3 721.4h0M388.4 719.5h0M391.6 720.6h0M386.9 708h0M383.6 714h0M394.2 691.6h0M397.6 701.1h0M374.2 710h0M380.5 716.1h0M392.5 700.8h0M384.3 704h0M392 704.8h0M396.8 697.7h0M400.2 696.3h0M382.2 720.1h0M382.7 735.3h0M373.9 715.4h0M388.3 728.5h0M374.9 701.6h0M354.5 684.3h0M351 710.9h0M391.3 709.4h0M381.9 700.8h0M362.2 707.4h0M362.8 689.4h0M370.2 688.5h0M382.6 692.4h0M373.3 692.5h0M387.5 689.8h0M372.3 697h0M357.5 690.6h0M379.4 702.2h0M375.6 689.3h0M388.4 692.4h0M374.3 695.3h0M373.4 690.2h0M378.7 685.8h0M369 691.1h0M364.7 694.6h0M375.4 694.5h0M372.4 697.9h0M391 701h0M342.7 702h0M413.5 738h0M407 736h0M398.6 733h0M405.7 727h0" stroke="#5c5c5c" stroke-width="2.9" stroke-linecap="round" fill="none"/>
<marker id="mk0" markerUnits="userSpaceOnUse" markerWidth="5.4" markerHeight="5.4" refX="2.7" refY="2.7" overflow="visible"><circle cx="2.7" cy="2.7" r="1.7" fill="none" stroke="#000" stroke-width="0.9"/></marker>
<path d="M381.2 659 368.8 659.7 377.2 657.2 364.7 655.9 378.8 656.2 386.7 673.8 383.8 666.3 400.6 666 398.5 656.4 378.6 669.9 388.4 662 390.8 664.7 386.9 659.1 383.1 663.5 377 645.9 378.4 678 352.4 651.7 378.3 662.6 392.6 669.5 394.3 672.1 373.9 659.9 375.2 663.5 377.5 654.2 402.1 662.1 373.4 666 368.1 656.2 374.7 646.5 352 657.7 374.3 655.7 390 655.6 400.7 651 350.6 656.4 384.2 673 375.9 657.8 377.5 677.6 361 661.4 381.4 654.3 376.7 661.3 371.6 660.1 387.7 666.9 376.1 658.6 380.8 666.9 381.9 669.6 387.6 650.5 392.7 657.6 386.9 661.5 391.1 662.3 383.7 649.6 396 662.7 375.8 669.5 387 663.3 386.2 662 370.2 651 390.3 669.4 386.7 663.7 390.8 670.1 384.9 668.4 391 658.3 390.6 654.8 355.8 663.3 375.2 674.1 366.7 666.2 378.2 662.6 367.3 676.5 376.5 674.8 381 652.4 371.2 669.3 374.6 660.9 395.5 670.1 370.1 657.8 398.4 658.9 391.4 663.5 367.2 661.8 374.4 661.2 371.9 664.6 379.7 667.3 369.2 658.6 391.8 670.8 391.6 668.1 372.7 663.3 387.9 663.5 389 658.7 389.9 660.1 372.8 649.8 394 653.9 370.9 648.9 402 676.4 373.5 647.4 373 655.6 375.4 663.1 369.8 658.9 385 663.9 385.2 657.2 378.4 665.7 365.8 666.1 375.4 667 360.9 662 374 667.8 380.4 653.7 390.7 656 368.8 652.5 371.6 654.3 372.3 666.2 390.5 670.4 401.4 666.7 380.4 651.9 375.8 660.4 395.8 657.9 397.4 673.7 378.4 658.2 381.7 655.5 369.3 655.9 387.9 645.6 387.5 673.1 393.3 673.8 365.5 651.9 398.1 665.4 394.8 663.9 388.5 654.7 374.5 666.9 383 660.9 390.8 656.3 363.3 653.2 376.9 671.3 370 665 386.5 667.4 397.1 662.6 393.3 655.3 392.6 664.7 370.6 644.2 379.8 659.6 403.7 679.1 369.3 666.9 379.7 659.8 367 657.7 385.5 657.1 388.2 662.6 399.6 668.5 386 662.6 376.2 667.3 374.4 665.6 380.5 662.1 402.6 668.4 389.8 659.1 381.2 662.5 373.7 653.6 382.8 670.3 368.1 660.7 373.1 663.6 385.7 652.6 367.6 662.9 382.6 663.6 387.1 666.1 405.5 666.3 381.8 659 397.8 670 374.9 653.1 368.8 666.1 392.2 663.5 361.3 649.6 385 661.2 382 659.7 375.3 662.5 380.2 648.9 374.8 662.5 376.3 665.3 400.6 653.4 416.5 661.2 378.9 665 365.7 660.1 381.6 657.4 384.7 656.7 382.6 650 386.6 668.1 401.2 658 387.9 659.8 392.3 651.3 374.1 659.8 399.6 651 389 661.5 385.4 657.6 363.7 668.2 369.2 660.9 369.4 661.7 393.7 664.5 374.3 659.4 385.9 651.2 386.8 662.6 377.3 664.7 386.8 661.8 379.2 656.7 384.4 672.7 386.8 666.8 368.2 648.9 388.7 657.7 393.9 660.8 379.1 663.8 378.5 644.8 395.9 660.3 386.2 657.3 377 659.7 388.3 664.8 363.4 663.7 382.7 660.7 392.5 648 383.8 660.9 389.2 665.3 392 654.2 392.7 652.8 380.2 657.9 387.8 660.4 385.6 665.3 377.3 666.9 384.9 648.2 370.5 654.1 379.4 657.1 386.5 657.2 389.8 664.8 363.3 658.3 372.9 664.4 398.5 652.7 376.1 676.4 367.4 663.6 359.5 657.4 377.4 651.4 367 665.6 378.4 670.6 372.2 657.2 395.1 676 389.8 665 388.1 661.3 404.7 670.8 372.2 669.8 377.5 661.1 386.5 655 385.8 676.8 371.8 648.8 378 657.4 394.8 654.7 403 655.4 384.2 676.2 395.9 669.6 380.5 663.1 371.4 672.4 376.3 658 379.8 659.7 374.3 659.5 377 665 388.9 660.6 380.1 643.2 381.7 655.7 369.3 666.7 373.3 659.8 397.6 668.3 381.1 658 382.5 641.1 389.3 661.7 395.1 668.2 385.7 679.1 385.1 664.1 384 679.2 386.9 643.3 380.7 660.6 388.7 661.7 372.8 652.3 378.8 664 396.6 673.6 376.7 657.2 383 642.9 395.2 654 382.3 651.9 380.7 662.3 371.5 663.5 378.5 666.1 371.9 658.8 383.5 656.3 357.8 662.5 380 664.4 368.6 665.1 388.9 661.8 387.5 679 334.5 655.8 377.8 662.5 368.8 667.5 364.5 663.5 369.1 677.9 342.8 668.1 367.2 670.2 341.9 659.4 395.2 664.5 330.8 638.3 362.7 687.1 381 686 362.2 677.6 357.2 668.7 360.4 658.7 367.8 661.7 388.5 674.4 372.5 664.5 390 666.1 377.5 665.9 347.4 655.2 349.2 658.4 356.7 665.7 375.2 667.1 362.7 667.3 351.8 667.9 379.6 671.7 407.3 687 362.8 661.2 360.9 659.3 387.4 665.7 363.9 660 387.8 659 357.4 661.8 368.9 670.9 357.2 672.2 363.5 688.1 333.5 661.4 346.2 652 397.3 691.7 329.1 652.1 368.4 646.3 362 668.1 373.5 649.1 384.5 673.6 364.8 658.2 375.2 677.1 354.6 662.9 385 653.1 371.3 649.3 345.1 663.6 362.3 660.7 356.1 670.5 379.6 662.4 370.8 662.7 411.9 672.9 359 660.2 355.2 663.6 373.5 652.7 356.6 650.3 381.1 693.5 389.5 676.2 383.1 672.5 393.9 680.5 362.6 653.9 350.9 663.9 341.2 655.8 389.5 673.2 398.1 689.2 362.1 651.6 364.4 660.6 366.9 681.1 343.6 655 367.3 676.7 372.7 671.6 388.4 677.2 359.3 664.1 349 665.5 389.9 645 387.4 671.7 371 673.4 323.3 641.2 359.7 656.2 370.6 662.2 329.7 660.2 383.5 676.4 351.1 658.5 372.9 673.4 384 668.4 338.7 650.8 372.2 674.6 406.2 679.2 369.1 664.9 354.2 669.3 371.3 665.3 343.7 657.6 353.2 673.5 384.8 661.8 387.8 667 363.3 676.1 344 660.3 347.6 641.6 382.8 671.1 352.5 646.5 352.8 674.2 372.7 664.2 350.9 661.9 330.9 667.4 370.4 678.2 385.4 683.9 384.2 674.7 386.8 676.2 383 688.9 379 715.8 380 694.3 388.5 679.1 389.7 688.9 388.1 681.8 377.9 700.9 385.5 691.2 386.2 694.7 377.2 670.1 374.6 673.9 371.9 684.2 380.4 689.6 384.1 686.5 381.7 690.7 378 683.6 383.2 683.9 380.1 689 389.7 692.9 381.3 684.7 382.4 710.2 367.3 694.8 384.2 697.8 377.3 709 388 689.5 383.8 683.6 383.3 688.7 432 648 321 664 316 671 340 633" fill="none" stroke="none" marker-start="url(#mk0)" marker-mid="url(#mk0)" marker-end="url(#mk0)"/>
<circle cx="384.5" cy="708.1" r="2.6" fill="#ff8c00" stroke="#f01010" stroke-width="0.9"/>
<path d="M617.5 729h0M628.4 718.7h0M625.5 714.6h0M615.9 727.9h0M629.3 729.9h0M611.9 742.4h0M634.1 723.8h0M624.9 726h0M619.6 732.3h0M605.2 730.6h0M607.4 721.1h0M613.4 712.1h0M603.2 732.1h0M624.4 737.7h0M613.4 736.3h0M633.7 740.6h0M604.2 714.3h0M622 741.2h0M617.8 738.6h0M620.4 732h0M621 732h0M613.8 746.6h0M627.2 725h0M615.1 720.6h0M622.8 717.2h0M614.7 736.7h0M623.6 735.2h0M606.2 736.9h0M616.7 741.9h0M615.2 745.1h0M622.2 736.7h0M614.1 726.3h0M614.1 739h0M613.5 729h0M629.7 734.6h0M615.4 732.6h0M604 716.4h0M622.3 754.8h0M638.1 752.7h0M623.7 725.3h0M628.7 719.2h0M589.4 733.8h0M628.3 736.3h0M633.5 736.9h0M621.5 720.5h0M616.7 719.4h0M614.3 747.1h0M620.1 733.4h0M611.1 753.4h0M598.2 721.7h0M627.5 723.2h0M610.1 734.6h0M625.5 736.1h0M609.4 736.8h0M605.9 721.7h0M608 732.9h0M614.5 721.4h0M618.3 720.8h0M613 727.2h0M612.3 720.9h0M605.5 739.9h0M597.3 732.7h0M609.9 723.6h0M600.2 729.7h0M612.5 739.5h0M612.3 720.2h0M606 738.6h0M623.7 726.9h0M634.6 732.4h0M615.1 734.7h0M607 730.9h0M606.7 735.2h0M624.3 729h0M628.8 723.7h0M623.4 728.9h0M606.5 736.2h0M635 757.9h0M618.9 734.3h0M635.1 720.6h0M633.2 715.1h0M606.4 728h0M614.2 738.7h0M607.3 728.9h0M614.5 731.5h0M624.1 738.4h0M621.2 733.4h0M618.5 715.9h0M599.7 733.2h0M604.1 722.9h0M620.2 726.8h0M610 721.9h0M618.4 743.2h0M601 727.8h0M627.6 732.4h0M612 730.3h0M622.1 739.1h0M602 722.2h0M620.8 733.9h0M620.4 733.7h0M626.8 734.1h0M643.7 723.9h0M614.4 716.9h0M624 732.2h0M616.4 719.7h0M637.6 733.8h0M626.3 717.9h0M621.3 734.5h0M635.3 735.3h0M628.7 716h0M615.9 730.8h0M617 727.4h0M614.9 741.7h0M613.8 736.7h0M624.9 726.8h0M619.4 708.6h0M611.9 739.8h0M611.7 711.5h0M627.7 718.3h0M631.5 729.7h0M605 723.8h0M633.6 731.6h0M617.1 731.4h0M616.3 724.2h0M624.2 743.2h0M618.9 744.3h0M629.1 716.3h0M625 742h0M597.8 724.9h0M622.5 721.9h0M617.9 726.8h0M613.4 667.8h0M646.3 694.7h0M602.2 678h0M641.7 675.7h0M633.5 687.6h0M616.8 694.9h0M632.5 716.6h0M586.4 723.2h0M636.9 723.4h0M658.6 667.3h0M668.1 664.8h0M597.9 707.4h0M645.3 713.8h0M626.2 712.2h0M635.8 640.1h0M607.9 656.2h0M634.3 633.8h0M612.1 641.4h0M598.3 665h0M616.2 651.4h0M628.8 642.9h0M598.4 647.2h0M633.5 648h0M582.1 653.6h0M620 652.4h0M634.8 645.5h0M625 637.8h0M621.8 653.2h0M623.1 636.8h0M652.2 636.9h0M641.1 650.6h0M609.3 645.3h0M570.5 664.7h0M634.5 640.3h0M624.2 650.2h0M631.5 644.1h0M620.4 645.3h0M643.3 636.6h0M612.2 645.1h0M619.9 647h0M632.9 641.9h0M611.8 638.3h0M632.8 634.7h0M621.1 652.9h0M625.5 638.5h0M636 638.2h0M614.6 655.7h0M642.5 657.9h0M599.7 653.2h0M633.8 649.2h0M620.1 655.9h0M624.1 639.7h0M619.2 645.9h0M618.8 642.6h0M611.5 700.6h0M614 703h0M621 679h0M610 676h0M606 661h0M597 666h0M643 692h0M651 681h0M523.5 653.1h0M554 737h0M563 738h0M700 672h0M695 695h0M686 718h0M660 712h0M665 740h0M700 749h0" stroke="#bebebe" stroke-width="2.9" stroke-linecap="round" fill="none"/>
<path d="M639.3 633.6h0M617.5 640.9h0M606.9 642.9h0M630.8 641.3h0M602 651.8h0M634.6 646.7h0M635.7 638.6h0M617.9 648.6h0M643.5 639.8h0M625.9 644.1h0M606.3 651.7h0M641.2 635.9h0M626.3 646.9h0M625.3 649.1h0M629.1 645.1h0M618.7 646.8h0M643.2 629.7h0M638.8 628.1h0M622.2 646h0M615.7 647h0M640 637.9h0M598.3 655.7h0M636.7 638.4h0M622.8 643.3h0M601.1 649.6h0M646.8 638.6h0M631.5 637.9h0M619.5 646.9h0M624.5 642.6h0M616.6 647.5h0M613.3 645.6h0M631.6 631.7h0M627 636.9h0M587.5 651.1h0M609.2 652.2h0M639 646.5h0M617 643.8h0M623.3 649.6h0M632 639.7h0M614.6 654.6h0M601.3 650.2h0M621.8 646.3h0M607.8 654.5h0M619.9 640h0M613.8 646.2h0M616.6 649.1h0M610.9 649.4h0M649.3 634.4h0M637.3 641.3h0M600.3 656.8h0M622.5 646.8h0M638.1 639.3h0M623.9 637.2h0M633.8 639.3h0M630.6 644.4h0M609.7 652.2h0M640.7 634.7h0M603 659.5h0M632.5 641.5h0M622.2 640.6h0M614.6 646.7h0M623.4 641.3h0M611.4 648h0M605.6 642.6h0M601.8 643.9h0M629.4 637.2h0M633.1 640.7h0M646.3 637.2h0M631.9 637.1h0M600 654.2h0M637.2 635.8h0M615.2 644.1h0M615 650.9h0M621.7 646.6h0M625.8 638.1h0M647.3 632.9h0M614.4 652.2h0M631 638.4h0M607.5 642.5h0M610.5 649.4h0M612.4 651.3h0M618.3 648.3h0M611.9 647.7h0M623.8 642h0M622 641.2h0M623.4 650.7h0M627.9 647.1h0M642.4 638.1h0M639.8 638.8h0M623.1 641.9h0M613.1 643.1h0M648.4 633.5h0M625.1 646.2h0M585.9 658.5h0M626.6 642.1h0M614.9 644.3h0M639.3 643h0M632.3 640.3h0M624.1 641.7h0M608.6 649.7h0M610 640.3h0M620.5 641.9h0M618.5 643.4h0M605.1 647.2h0M612 640h0M628.3 644.4h0M619.5 643.2h0M621.5 644.3h0M607 648.5h0M614.5 641.4h0M618.2 640.6h0M618 648h0M643.8 632.8h0M607.6 653.6h0M609.1 649.5h0M623.5 643.5h0M616.7 639.6h0M631.3 638.7h0M609.9 648.5h0M615.7 655.2h0M628.4 636.9h0M619.6 641.3h0M609.2 644.2h0M618.8 645.6h0M621.5 641.9h0M628.5 645.1h0M617.7 650.7h0M640.6 632.2h0M623.9 641.7h0M631.7 646.4h0M634.1 635.6h0M630.7 640.7h0M647.9 634.2h0M618.9 645.3h0M621.1 638.9h0M614.6 642.8h0M607.7 643.8h0M625.5 642.4h0M639.4 632.9h0M614.6 644.1h0M607.6 656.1h0M600.1 649.6h0M599.3 651.1h0M601.7 659.4h0M591.6 655.5h0M599.6 651.1h0M621.1 646.7h0M606.5 647h0M614.4 647.8h0M613.4 650.3h0M622.1 641.6h0M625.8 654.7h0M595 644.1h0M609.7 650.8h0M602.4 659.9h0M607.6 644.6h0M617.3 653.6h0M608.8 653.6h0M607.5 649.5h0M607.7 644.2h0" stroke="#5c5c5c" stroke-width="2.9" stroke-linecap="round" fill="none"/>
<marker id="mk1" markerUnits="userSpaceOnUse" markerWidth="5.4" markerHeight="5.4" refX="2.7" refY="2.7" overflow="visible"><circle cx="2.7" cy="2.7" r="1.7" fill="none" stroke="#000" stroke-width="0.9"/></marker>
<path d="M667.5 611.3 677.6 622 667.1 623.7 665.5 613 662 627.6 668.2 614.5 677.4 613.9 657.6 620.1 668 637.1 677.9 629.7 670.2 622.6 660.9 630.3 685.1 618.7 676 620.1 673.6 624.3 677.5 611.9 661.7 622.1 651.9 636.2 681 618.1 664.9 618.9 672.8 622.4 664.6 621.8 673.7 615.7 667 614.7 667.9 617.2 665.3 620.9 670.4 616.4 670.5 624.4 666.2 610.8 671 620.4 657.2 619.7 670.9 633.2 651.9 624.6 669.8 627.4 668 632.1 666.5 620.4 668.3 621.9 683 610.6 667.5 624 667.8 622 680.9 613.5 657.3 620.2 674.8 612 667 613.6 677 620.5 669 627.7 683.9 618.3 692.4 617.9 686.4 617.7 671.3 617 668.7 617.9 659.5 624.9 651.8 637.4 665.3 613.3 656.2 623.6 665.5 624.7 666.2 626.5 668.8 618.1 662.2 621.3 670.7 620.9 646.8 627.7 658.7 636 671.6 621 649.2 620 675.8 621.4 658.6 622.3 677.5 617.3 655 621.7 663.3 622.1 665.6 616.3 672.6 624.9 674.2 615.4 669.3 616 683.6 614.9 667.7 616.8 691.3 617 665.9 618.9 679 614.3 660.6 622.2 682.5 612.5 663.2 627.6 660.8 633.6 666.3 626.5 676.4 616.2 655.6 627.2 660.6 624.7 678.6 613.6 682.2 619.3 655.3 633 674.7 618.2 675.2 632 665.4 624.5 686.7 613.6 666.6 623.5 662.7 623.2 670.1 626.1 673.1 616.7 671.1 627.1 685.8 622.1 658.8 618 676.6 609.9 672.2 623.5 669.5 625.8 665.1 624.9 681.8 630.5 666.6 609.4 670.9 615.1 683.2 615.7 661.3 619.4 676.6 617.2 671.7 620.3 672.4 624.6 674.3 616.4 676.3 603.9 652.1 626.9 676.1 622.4 671.2 628.3 658.4 626.7 665.3 623.8 676.8 628.3 658.1 624.9 660.8 625.1 681.8 624.7 674.5 620.8 683.1 619.2 655.8 625.6 693.5 616.5 670.4 630.7 670.9 624 683.6 616.4 681.8 615.3 674.5 621.3 652.4 636.1 663.7 625.2 659 622.3 660.8 625.7 658.8 623.1 659.2 618.1 657.8 627.4 667.3 623.2 682.2 616.1 683 609.5 666.9 606.1 655.7 638.1 666.3 627.3 650.7 625.4 678.6 616 669.5 628.6 664.6 616.9 669.1 618.8 682.5 616.3 668.9 627.7 673.6 617 667.3 620.4 666 618.1 674.2 613.6 657.8 625.6 663.7 617.2 668.2 619.2 655.1 630.8 659.5 628.4 675.5 622.6 683.6 620.8 666.9 634.3 654.1 620.3 666.4 624.6 682.3 617.2 664.6 612.6 662.4 628.9 657.4 624.5 655.6 618.2 694.2 620.4 666.5 616.8 660.6 621.2 677.3 617.2 674.3 618.3 689.7 624.6 664.3 621.3 675.6 617.4 660.2 614.3 665.9 612.3 666.9 622.2 684.8 621.2 669.7 616.1 680.2 620.5 669.1 623 669.5 627.7 678 615.5 668.2 616.3 668.7 616.8 655.8 626.9 675.4 619.4 675.8 627.6 661.8 629.8 680.8 608.1 661.7 617.8 667.9 618.5 668.2 613.8 687.9 613.9 676.9 604.6 676.7 611.6 667.8 625 663.9 610.3 666.9 622.6 666.1 618.7 660 630.4 680.1 618.7 684.8 612.1 682.3 614.2 671.1 620.2 675.6 628.5 678.8 626.8 681.2 611 667.5 630.6 669.2 617.8 671.4 620.4 659.4 615.8 664.2 618.6 686.7 615.8 667.7 632.7 683.4 611 669.3 611.3 661.7 624.4 655.2 622.7 679 616.3 685.6 614 661.7 618.6 665.4 615.7 652.3 624.4 678.3 608.1 654.8 626 673.4 612.8 680.7 616.8 660.8 622.2 666 617.8 670.9 616.7 667.2 624.5 675.9 615.6 675.9 621.8 647.8 626.5 651.5 629.2 673.4 624.7 669.1 626.3 670.6 619.5 670.1 621.7 677 612.7 664.1 616.9 671.6 627.7 678.4 630.3 677.3 623.5 662.1 619.5 658 624.6 670.2 628 660.5 611 674.5 615.8 638.9 632.1 664.1 625 675.2 624.2 679 629.4 676.8 624.7 682.8 605.1 679.9 619.9 652.1 627.8 664.6 630.3 667.9 616.1 663.7 617.2 675.3 610.8 653.8 618.5 672.7 611.7 657.2 618.9 673.8 619.4 675.2 613.7 647.2 622.2 667.4 619.5 676.2 623.1 678 619.7 688.6 613.3 679.8 615.2 672 625.4 658.5 621.3 689.2 607.7 672 614.9 669.9 620.9 673.9 623.3 677 620.2 659.9 627.1 677.1 617.9 667.5 625.4 658.3 632.7 675.9 627.3 663.7 624.8 662.9 626 680.7 613.1 659.1 626.9 671.6 619.6 671.1 604.3 670.4 614.6 670.8 615.4 668.1 619.6 661.8 620.8 669.5 619.3 686 622.7 680.4 616 663.6 619.4 673.9 624 672 621 659.8 635.3 662.1 618.7 683.4 616.5 702.1 612.8 668.1 621.9 664 626.4 687.8 621.7 676.8 621.2 688.6 604 679.2 615.2 668 624.7 667.4 614.9 671.3 618.8 653.5 622.5 677.6 624.6 677 616.9 670.8 617.7 652.8 619.9 672.7 617.9 675.2 620.9 678.9 624.2 677.2 617.3 665.5 619.9 671.9 614.7 675.5 615.5 664.2 625.6 685 614.5 666 620.9 668.9 624.3 645 623.5 683.7 611 678.5 623.8 666.5 613.7 685.8 623 661.4 615.6 656.4 619.9 667.2 621.4 677.7 613.1 678 630.3 674.1 619.1 660.7 612.5 668.1 611.4 677.5 620.6 672.9 623.6 686.3 620.1 663 618.5 680.6 621.4 671.4 615.1 666.1 616.2 677.2 613.5 673.9 622 681 621.7 674 619.4 674.6 622.4 679.7 622.7 673.5 613 695.1 626.3 672.3 621.4 668.3 621.5 674.5 610.8 670.1 616.8 654.6 622.9 663 638.1 673.3 617.9 676.4 614.2 659.6 616.8 660.5 617.3 678.4 616.3 654.6 631.2 675.7 627.4 668.1 618.6 664.1 625.4 666 611.3 660.9 624.6 656.5 638.7 672.7 607.2 674.1 617.4 661.8 624.4 659.6 619.3 668.8 630.8 681.6 627.2 669.8 627 678 611.3 665 631 663.5 631.7 675.3 624.7 679.5 613.5 678.1 618.6 658.6 620.3 664.4 624.5 665.6 624.1 649.5 633.1 664.1 616.1 666.7 627.1 659.2 610.5 666.7 625.6 653.3 622.9 670.7 624.8 681.2 615.7 669.9 619.3 674 619.9 668.6 620.2 662.5 625.4 658.9 624.7 675 617.6 656.7 627.1 657.7 627.1 663.4 628.5 663.7 624.6 693.7 615.5 669.8 623.1 669.5 619.5 657.4 627.5 669.9 623.3 684.4 615 658.4 624.1 665.9 625.4 660.6 627.1 667.2 611 667.1 623.2 679.9 616.7 673.7 626.7 675 615.3 663.6 631.2 681 613.4 646 631.9 661 621.3 669.5 634.6 666.5 624 673 617.3 665.3 624.4 666.8 622.6 673.4 624.1 648.1 624.3 675.5 624.6 678.8 614.4 660.7 618.2 671.9 624.2 669.4 626.6 682.5 626.6 682 616.7 665.2 616 654.2 625.2 677.9 619.3 684.2 618.6 671.3 616 668.5 623.6 663.5 616.2 674 618.1 678.5 620.4 674 623.4 669.4 626.2 663.4 631.9 669.8 629.3 657.9 620.8 684.9 614.5 676 621.5 675.7 616.6 665.4 634.1 643.6 619.3 653.1 633.4 681.4 619.9 648.2 632 673.4 623.1 642 602.4 650 606.9 628 620.4 636 624.9 625.6 628 690 618 694 626" fill="none" stroke="none" marker-start="url(#mk1)" marker-mid="url(#mk1)" marker-end="url(#mk1)"/>
<circle cx="617.3" cy="653" r="2.6" fill="#ff8c00" stroke="#f01010" stroke-width="0.9"/>
<path d="M764.6 670h0M770.2 688.4h0M768.3 676h0M767.1 674.5h0M768.9 663.4h0M774.9 743.1h0M771.5 666.1h0M767.2 689.6h0M768.3 697.1h0M770.9 734.5h0M768.4 717.8h0M770.3 705.2h0M772.8 681.7h0M770.1 726.7h0M771.5 671.9h0M769.2 670.8h0M771.3 730.7h0M769.3 685.1h0M769.6 690.2h0M770.6 735.4h0M768.2 741.3h0M773.5 708.1h0M768.7 720.6h0M771.8 706.5h0M770 685.5h0M768.3 726.7h0M770.8 683.8h0M771.7 724.7h0M767.6 666h0M769.3 687.6h0M775.3 698.2h0M768.3 715.9h0M770.2 680h0M771.4 743h0M769.7 653.4h0M769.3 657.1h0M765.1 679.5h0M768.4 670.9h0M769.9 682h0M769.6 741.1h0M777.8 740.1h0M773 720.1h0M773.7 674.1h0M772.7 693h0M771.8 741.8h0M770.1 669.4h0M767.6 680.5h0M773 670.5h0M767.5 702.6h0M771.5 733.1h0M770.7 716h0M773.1 667.8h0M768.3 711.3h0M769 688.8h0M767.5 714.9h0M776.9 700.6h0M765.5 688.6h0M774.2 666.5h0M769.2 719h0M766.7 662.2h0M771.1 732.3h0M770 670.6h0M772.4 678.9h0M765.4 705.2h0M770.9 664.9h0M767.7 723.1h0M771.3 700.7h0M769.1 659.3h0M772.2 678.6h0M772.8 679h0M770 745.8h0M770.7 663.5h0M774.9 678.8h0M769 666.8h0M765.2 738.5h0M770.6 663.9h0M773 700.9h0M770.8 714.5h0M773.3 695h0M767.8 680.3h0M765.5 671.2h0M768.7 687.4h0M770.3 683.7h0M772.9 687h0M770.5 670.5h0M774.9 668.9h0M770.2 717.2h0M772.2 689.3h0M767.6 693.8h0M766 722.4h0M776.8 710.8h0M768.9 707.9h0M767.2 675.5h0M770.9 717.4h0M770.8 727.6h0M768.8 725.2h0M772.2 697.5h0M769.4 664.3h0M774.1 715.3h0M771.9 728.6h0M769 671.6h0M771.3 668h0M766.8 728.6h0M767 686.1h0M774 744.3h0M774.1 674.5h0M771.5 663.6h0M770.7 713.4h0M770.5 698.6h0M771.9 730.5h0M776.6 742.4h0M773.1 688.4h0M768.4 707.8h0M770.9 674.9h0M771.5 739.8h0M777 680.9h0M770.6 665.7h0M767.2 732.6h0M766.2 668.7h0M773.9 680.9h0M766.7 701.6h0M769 670.3h0M766.9 662.1h0M773.7 742.4h0M774.4 745.7h0M768.1 693.4h0M771.1 695.8h0M769.5 713.8h0M772.6 709.9h0M772.7 741.5h0M774.8 736.6h0M771.3 725.4h0M773.1 715.3h0M771.3 715.8h0M775 716h0M768.7 728h0M772.1 696.9h0M770.3 725.3h0M764.4 726.4h0M773.3 720.5h0M770.3 672.5h0M770.4 727.9h0M771.7 713.4h0M763.3 681.6h0M775.1 726.3h0M769.6 700.5h0M774.8 730.3h0M770.3 645.5h0M766.6 694.6h0M765.3 732.2h0M789.4 728h0M792.8 722h0M789.8 723.9h0M793.9 745.5h0M787.2 731.5h0M797.5 725.4h0M781.1 727.2h0M806.3 718.7h0M776.7 738.5h0M786.3 726.4h0M791 744.2h0M814.2 713.6h0M792.8 727.3h0M787.1 732.7h0M800.4 722.6h0M803.1 729.8h0M806.2 721h0M789.8 728.9h0M790.2 719.7h0M779.4 726.7h0M794.8 727.3h0M794 743h0M788.3 726.9h0M792.6 740.9h0M807.4 715.6h0M819.2 697.7h0M826.6 681.3h0M828.2 690.5h0M833.8 709.9h0M819.9 667.6h0M816.4 714.9h0M836.4 688.2h0M817.4 682.1h0M834.1 686.3h0M821.3 696.5h0M826 665.3h0M825.1 672.4h0M822.3 670.5h0M817.9 664h0M830.7 692.1h0M813.5 701.9h0M848.9 665h0M819.3 646.5h0M822 686.3h0M834.2 667.8h0M829.5 667.7h0M820.4 679.7h0M807.7 664.7h0M809 697.4h0M822.4 685.2h0M784.5 612h0M768 622h0M768 630h0M926 644h0M930 634h0M940 636h0M893 707h0M867 720h0M830 645h0M833 640h0" stroke="#bebebe" stroke-width="2.9" stroke-linecap="round" fill="none"/>
<path d="M820.4 687.8h0M810.7 695h0M821.3 700.8h0M821.8 713.1h0M822.2 702h0M821.2 694.5h0M822.9 706.3h0M814.3 683.6h0M815.4 704.8h0M815 701.4h0M835.4 703.8h0M806.6 701.3h0M817.9 697.4h0M813.2 700.4h0M829.6 695.5h0M811.7 690.5h0M836.9 697.6h0M817.1 704.4h0M816.8 696.1h0M813.8 701.3h0M823 708.9h0M821.8 694.8h0M813.5 702.2h0M816.3 698h0M817.5 709.4h0M814.2 687.4h0M822.8 696.5h0M819.1 704.2h0M827.9 702.4h0M837.3 694.2h0M831.4 694.7h0M826.5 679.3h0M817.8 702.7h0M830.5 698.2h0M814 705.9h0M836 685.7h0M823.5 702.4h0M826 688.4h0M825.3 699.7h0M820.7 705h0M830.5 696.1h0M835.7 691.6h0M839.8 691.4h0M834.9 691.4h0M827.8 705.6h0M818 704.7h0M815.8 695.6h0M824.8 700.4h0M827.3 703.8h0M845.6 705.4h0M824.2 699.1h0M823.1 701.3h0M818.3 711.3h0M825.5 692.7h0M816.8 705.1h0M826 694.6h0M815.6 692.7h0M826.2 696.6h0M809.8 702.1h0M802.2 693.8h0M835.2 704.2h0M804.8 693.7h0M815.4 705.5h0M825.5 708.4h0M828.4 703.2h0M814 695.2h0M818.7 688.7h0M833.6 701.4h0M807.5 705.3h0M815.5 704h0M817.6 690.8h0M813.1 687.1h0M816.5 686h0M826.2 692.4h0M820.2 700.9h0M811.9 686.6h0M836.5 685.5h0M815.2 701.7h0M825.8 695.9h0M812.2 707.3h0M827.6 698.3h0M821.7 705.3h0M833.3 699.8h0M823.4 704h0M803.3 710.9h0M813 697.7h0M827.8 697.8h0M833.2 713.5h0M823.4 704.2h0M827.9 707.5h0M823 698h0M820.9 699.8h0M831.1 691h0M829.3 697.8h0M820.3 685.8h0M815 706.2h0M817.9 709.5h0M814.9 688.9h0M824.7 691.1h0M826.5 706h0M813.7 701.5h0M801.1 705.5h0M809.5 694.1h0M814 725.7h0M815.3 718.3h0M817.3 704.9h0M807.1 706.1h0M810.4 737.4h0M797.3 726.5h0M802 708.1h0M812.4 693.7h0M812 729.7h0M810.7 732h0M806.5 707.8h0M818.7 697h0M803.6 721h0M812.4 731.9h0M804 715h0M818.5 717.7h0M815.9 704.4h0M813.4 703h0M808.3 723.7h0M802.9 710.6h0M813.5 715.1h0M801.8 727.8h0M821.8 710.1h0M810.2 712.9h0M802.6 719.5h0M815.4 712h0M815.9 703.4h0" stroke="#5c5c5c" stroke-width="2.9" stroke-linecap="round" fill="none"/>
<marker id="mk2" markerUnits="userSpaceOnUse" markerWidth="5.4" markerHeight="5.4" refX="2.7" refY="2.7" overflow="visible"><circle cx="2.7" cy="2.7" r="1.7" fill="none" stroke="#000" stroke-width="0.9"/></marker>
<path d="M870.8 692.9 845.2 615.2 884.8 727.2 866.9 663.6 859.1 631.6 866.2 660.5 853.6 607.4 861.9 614.5 857.3 689 879.4 640.6 859.7 684.2 854 636.2 874.3 720.5 877.7 727.7 865.5 669.1 862.9 597.1 869.3 681 843.9 597.9 872.3 669.7 871.7 726.8 829.7 596.5 857.2 632.7 875.8 663.2 860.5 603 851.1 605.3 857.3 623 854.5 600.5 858.5 665.9 861.6 608.4 863 679.8 848.1 611.3 873.7 713.1 854.8 623 874.9 693.5 867.4 667.4 860.1 627 866.6 712.9 847.5 614.2 860.1 650 864.7 701.4 873.9 695.1 859.5 636.7 858.8 631.3 853 614.9 873.2 690.7 880.4 728.4 868.2 697.9 849.8 625.4 868.3 673 867.8 680.2 867.8 692.1 834.8 597.3 859.4 647.6 867.3 683.8 866.8 678.4 853.3 624.1 856 607.7 871.2 701.1 851.1 609.3 867.4 669.3 857.1 627.8 851.4 612.8 882.1 729 851.6 605.4 871.9 706.6 842.1 602.1 895.1 729.6 861 641.3 868.8 725.9 863.4 658.1 848.5 603.1 871.4 663.4 857.8 645.7 882.7 698 868.2 701.3 849.4 626.2 857 668.4 886.7 710.3 870.5 720 884.4 719.2 879.9 730.4 864.6 681.7 877 717.9 850.6 679.9 868.1 684.8 870.2 724 850.9 619.5 857.4 641.3 865.9 674.2 870.2 713.1 849.7 635.3 846.8 618.7 848.3 652 861.8 698.6 841.7 636.5 877.1 730.5 863.9 634.1 879.8 726.9 845.2 602 878.3 696.8 883.7 683.5 882.2 715 852.9 682.8 855.6 651.2 868 670.1 865.5 671.8 878.3 716.3 864.5 675.8 872.2 688.1 846.9 600.9 873.6 719.3 863.9 669.6 863.8 659.3 879.6 719.9 844.6 659.7 850.7 628.6 855.1 602.1 866.7 655.3 869 693.3 839.2 600.9 863.6 628.3 852.3 612.4 859.6 642.7 875.6 698.8 849.9 617.8 851.7 614.7 848.3 665.8 878.2 708.6 848 612.6 851.9 622.7 858.7 681.2 873.5 706.1 853 609.9 848.9 602.1 860.8 650.4 868 707.3 857.6 639.9 867.8 705.9 872.7 730.7 870 671.6 849.5 645.8 844 595.6 853 597.4 874.1 716.5 855.3 656.8 848.9 648.9 844.9 596.7 871.1 660.2 849 604.9 868.5 668.4 851.8 594.3 846.1 599 871.7 713.6 848.6 612.5 847.9 626.9 860.6 668.4 848.7 599 864.9 659.5 863.1 693.5 846.4 640.3 876.1 723.2 867.6 694.2 834.2 600.5 863 615.1 852.2 600.3 856.3 683.3 854.8 629.3 869.4 659.3 843.8 600 864.4 652.4 855.9 642.4 856.4 639.6 872.3 730.4 851.4 636.6 873.2 703.5 867.6 673.2 858.4 657.4 854 611.5 855.8 634.7 868.6 675.4 863.6 672.2 865.2 700.7 883.7 706.7 853.2 622.9 842.7 606.4 862.3 685.7 871.7 683.7 850.6 600.7 863.9 661.3 849.3 615.5 851.8 603.8 859.5 650.1 849.1 600.7 864 630.2 859.9 639.8 878.1 728.8 854.3 637.3 879.2 728.4 857.1 694.8 850.6 594.2 841.6 658.3 848.1 622.4 851.9 610.5 863.5 642.8 862.7 661.7 847.1 605.5 861.6 626.4 873 719.5 859.4 657.2 844.6 649.8 856 614.3 851.2 615.8 862 640.1 876.7 731.8 847.2 604.2 860.6 649.6 865.3 679.4 850.1 603.5 852.8 599.9 854.8 645.9 873 685.9 869.5 694.6 864.6 668.7 842.6 646.6 868.4 709.1 843.7 600.2 882.3 710 851.2 648.4 864.6 666.5 859.4 617 860.9 641.2 863.6 622.5 855.9 655.3 855.6 610.3 851.5 599.8 877.5 691.5 877.6 711.4 868.1 689.2 871.2 702.5 855.9 602.8 864.4 651.5 874.7 717.4 861.9 620.6 871.5 652.9 864.7 685.8 871.2 703.8 880.7 693.4 867.8 694.8 844.8 604.4 883.9 681.7 860.5 681.1 857.6 641.4 864.5 599.9 858.2 644.7 864.7 658.8 854.4 620.5 865.6 712.9 855.5 622.7 875.6 722.2 855.8 639.8 871 704.8 856.7 630.5 870.5 695.9 889.1 689.9 864.8 641.8 876 644.3 856.3 622.8 861.2 648.5 873.5 689.4 864 661.3 857.3 676.4 865.3 676.8 850.5 620 875.6 692.5 858.4 646 844.5 594.2 867.5 692.5 852.7 612.2 862.8 648.3 877.2 708.9 838.8 602.7 854.3 628.3 865.5 610.1 850.6 627 869 684.3 850.6 630 856.1 636.3 865.6 655.1 847.1 600.7 865.9 675.7 871.4 698 874.3 695.7 842.2 598 863.4 628 860.6 626.5 851.7 624.4 863.3 655.3 850.8 645.1 874.4 702 847.7 596.6 851.6 617.8 850.3 599.3 856.1 697 853.2 607.8 860.9 641.7 860.8 627.8 870.6 594.8 859.5 633.7 863.4 663.1 870.5 661.7 877.2 719.2 847.4 646.5 855.6 639 853.3 600.2 855 619.7 853.2 595.2 862.6 694.5 843.2 629.6 865 648.3 853.7 605.9 864.4 619 870.9 664.4 874 729.4 872.1 720.9 867.5 666.6 870.5 665.7 864 670.4 856 636.3 869.5 692.8 854 623.6 852.6 645.1 853 632.1 856.8 655.1 874.7 680.7 878.6 730.4 869.1 671.4 859.5 652.6 874.1 710.6 860.7 637.1 859 616.2 853.4 657.6 868 642.3 859.5 694.2 892.9 705.1 867.6 691.7 878.7 634.6 869.2 665 884.1 680 867 672.1 878.2 709.5 893.1 659.8 878.7 676.8 873.1 686.6 860.2 699.5 881.8 622.1 873.6 645.5 892 682.9 861.8 649.5 883.7 708 887.9 669.7 895.1 703.9 868.5 659.2 883.9 652.4 838.8 699.5 863.5 664.4 862.6 696.1 865.5 675.5 847.6 724.4 901.8 658.7 882.5 666.5 908 654.6 858.9 628.6 896.5 747.7 883.6 689.1 902.8 697.1 889.7 675.4 862.4 640.6 877 600.3 873.2 667.2 886.3 667.9 881.6 668.3 898 684.7 883.7 660.5 904.2 595.2 888.5 658.1 876.8 677.2 893.6 704 872.5 726.6 868.5 688.5 887.2 670.6 902.5 702 890.6 644.4 857.6 709.4 865 656.8 885.5 652 887.7 666.9 878.2 670.6 872.1 645.9 885.7 654.5 893.9 737.3 907 610 924.8 648.5 904 720 909 705 850 707 846 716 881 703 901 732" fill="none" stroke="none" marker-start="url(#mk2)" marker-mid="url(#mk2)" marker-end="url(#mk2)"/>
<circle cx="812.3" cy="697.6" r="2.6" fill="#ff8c00" stroke="#f01010" stroke-width="0.9"/>
<line x1="989.62" y1="592" x2="989.62" y2="765.4" stroke="#ffc0cb" stroke-width="1" stroke-dasharray="4 3"/>
<line x1="1030.02" y1="592" x2="1030.02" y2="765.4" stroke="#ffc0cb" stroke-width="1" stroke-dasharray="4 3"/>
<line x1="1082.71" y1="592" x2="1082.71" y2="765.4" stroke="#ffc0cb" stroke-width="1" stroke-dasharray="4 3"/>
<line x1="1129.49" y1="592" x2="1129.49" y2="765.4" stroke="#ffc0cb" stroke-width="1" stroke-dasharray="4 3"/>
<line x1="1181.18" y1="592" x2="1181.18" y2="765.4" stroke="#ffc0cb" stroke-width="1" stroke-dasharray="4 3"/>
<path d="M989.62 646.74 L1030.02 630.56 L1082.71 646.74 L1129.49 679.1 L1181.18 711.46" fill="none" stroke="#333" stroke-width="1" stroke-linejoin="round"/>
<path d="M989.62 760 L1030.02 679.1 L1082.71 711.46 L1129.49 727.64 L1181.18 760" fill="none" stroke="#333" stroke-width="1" stroke-linejoin="round"/>
<path d="M989.62 709.84 L1030.02 639.46 L1082.71 684.76 L1129.49 708.22 L1181.18 733.3" fill="none" stroke="#f26a1b" stroke-width="2.4" stroke-linejoin="round"/></svg>
</body></html>
